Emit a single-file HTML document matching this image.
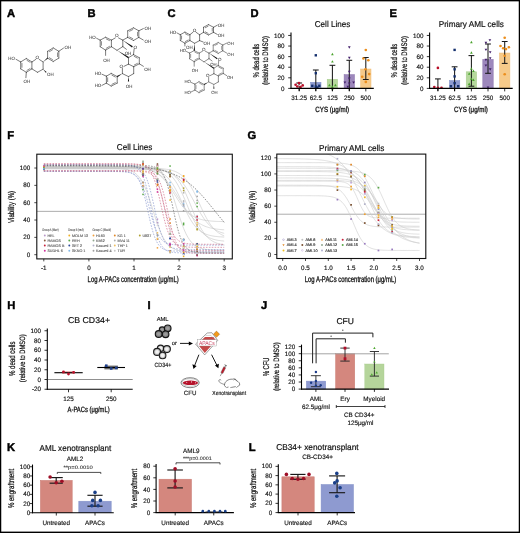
<!DOCTYPE html><html><head><meta charset="utf-8"><style>html,body{margin:0;padding:0;background:#fff;width:520px;height:533px;overflow:hidden}svg{display:block;will-change:transform}</style></head><body><svg width="520" height="533" viewBox="0 0 520 533" font-family="Liberation Sans, sans-serif" text-rendering="geometricPrecision"><rect x="0" y="0" width="520" height="533" fill="#fff"/>
<text x="250.60" y="16.90" font-size="11.2" text-anchor="start" font-weight="bold" fill="#000" stroke="#000" stroke-width="0.45">D</text>
<rect x="294.00" y="88.20" width="10.40" height="0.20" fill="#f0c0b8" stroke="#e8a8a0" stroke-width="0.5" />
<rect x="310.60" y="82.30" width="10.40" height="6.10" fill="#8e9bd0" stroke="#7e8ec8" stroke-width="0.5" />
<rect x="327.20" y="79.30" width="10.40" height="9.10" fill="#b5d89c" stroke="#a5cc8a" stroke-width="0.5" />
<rect x="344.10" y="74.60" width="10.40" height="13.80" fill="#9d88bc" stroke="#8a72ac" stroke-width="0.5" />
<rect x="360.60" y="69.00" width="10.40" height="19.40" fill="#f6ca8a" stroke="#eebc78" stroke-width="0.5" />
<line x1="299.20" y1="83.00" x2="299.20" y2="91.00" stroke="#1a1a1a" stroke-width="1.05" />
<line x1="296.30" y1="83.00" x2="302.10" y2="83.00" stroke="#1a1a1a" stroke-width="1.05" />
<line x1="315.80" y1="70.00" x2="315.80" y2="91.00" stroke="#1a1a1a" stroke-width="1.05" />
<line x1="312.90" y1="70.00" x2="318.70" y2="70.00" stroke="#1a1a1a" stroke-width="1.05" />
<line x1="332.40" y1="65.30" x2="332.40" y2="91.00" stroke="#1a1a1a" stroke-width="1.05" />
<line x1="329.50" y1="65.30" x2="335.30" y2="65.30" stroke="#1a1a1a" stroke-width="1.05" />
<line x1="349.30" y1="60.30" x2="349.30" y2="91.00" stroke="#1a1a1a" stroke-width="1.05" />
<line x1="346.40" y1="60.30" x2="352.20" y2="60.30" stroke="#1a1a1a" stroke-width="1.05" />
<line x1="365.80" y1="57.50" x2="365.80" y2="79.50" stroke="#1a1a1a" stroke-width="1.05" />
<line x1="362.90" y1="57.50" x2="368.70" y2="57.50" stroke="#1a1a1a" stroke-width="1.05" />
<line x1="362.90" y1="79.50" x2="368.70" y2="79.50" stroke="#1a1a1a" stroke-width="1.05" />
<circle cx="295.60" cy="84.80" r="1.32" fill="#b80f28" stroke="none" stroke-width="0"/>
<circle cx="299.00" cy="83.10" r="1.32" fill="#b80f28" stroke="none" stroke-width="0"/>
<circle cx="302.70" cy="85.40" r="1.32" fill="#b80f28" stroke="none" stroke-width="0"/>
<circle cx="300.60" cy="86.90" r="1.32" fill="#b80f28" stroke="none" stroke-width="0"/>
<circle cx="297.30" cy="86.50" r="1.32" fill="#b80f28" stroke="none" stroke-width="0"/>
<rect x="314.60" y="54.10" width="2.40" height="2.40" fill="#15306e" stroke="none" stroke-width="0" />
<rect x="314.60" y="72.00" width="2.40" height="2.40" fill="#15306e" stroke="none" stroke-width="0" />
<rect x="311.10" y="84.60" width="2.40" height="2.40" fill="#15306e" stroke="none" stroke-width="0" />
<rect x="314.60" y="85.40" width="2.40" height="2.40" fill="#15306e" stroke="none" stroke-width="0" />
<rect x="318.10" y="84.60" width="2.40" height="2.40" fill="#15306e" stroke="none" stroke-width="0" />
<rect x="316.10" y="86.30" width="2.40" height="2.40" fill="#15306e" stroke="none" stroke-width="0" />
<path d="M332.40,52.76L333.72,55.16L331.08,55.16Z" fill="#49a22c"/>
<path d="M332.40,60.16L333.72,62.56L331.08,62.56Z" fill="#49a22c"/>
<path d="M329.40,83.86L330.72,86.26L328.08,86.26Z" fill="#49a22c"/>
<path d="M335.40,83.86L336.72,86.26L334.08,86.26Z" fill="#49a22c"/>
<path d="M332.40,85.36L333.72,87.76L331.08,87.76Z" fill="#49a22c"/>
<path d="M332.40,87.06L333.72,89.46L331.08,89.46Z" fill="#49a22c"/>
<path d="M349.30,48.74L350.62,46.34L347.98,46.34Z" fill="#421e6a"/>
<path d="M349.30,59.14L350.62,56.74L347.98,56.74Z" fill="#421e6a"/>
<path d="M349.30,73.14L350.62,70.74L347.98,70.74Z" fill="#421e6a"/>
<path d="M349.30,79.94L350.62,77.54L347.98,77.54Z" fill="#421e6a"/>
<path d="M344.90,83.84L346.22,81.44L343.58,81.44Z" fill="#421e6a"/>
<path d="M353.60,83.84L354.92,81.44L352.28,81.44Z" fill="#421e6a"/>
<path d="M349.30,84.84L350.62,82.44L347.98,82.44Z" fill="#421e6a"/>
<path d="M347.80,88.24L349.12,85.84L346.48,85.84Z" fill="#421e6a"/>
<circle cx="365.80" cy="50.00" r="1.32" fill="#ec8e1c" stroke="none" stroke-width="0"/>
<circle cx="363.40" cy="58.50" r="1.32" fill="#ec8e1c" stroke="none" stroke-width="0"/>
<circle cx="368.30" cy="60.30" r="1.32" fill="#ec8e1c" stroke="none" stroke-width="0"/>
<circle cx="365.50" cy="69.20" r="1.32" fill="#ec8e1c" stroke="none" stroke-width="0"/>
<circle cx="369.20" cy="74.10" r="1.32" fill="#ec8e1c" stroke="none" stroke-width="0"/>
<circle cx="362.20" cy="76.80" r="1.32" fill="#ec8e1c" stroke="none" stroke-width="0"/>
<circle cx="365.80" cy="81.90" r="1.32" fill="#ec8e1c" stroke="none" stroke-width="0"/>
<line x1="291.00" y1="32.60" x2="291.00" y2="88.90" stroke="#000" stroke-width="1.1" />
<line x1="290.50" y1="88.40" x2="373.80" y2="88.40" stroke="#000" stroke-width="1.1" />
<line x1="288.20" y1="88.40" x2="291.00" y2="88.40" stroke="#000" stroke-width="0.8" />
<text x="284.60" y="90.50" font-size="6.3" text-anchor="end" font-weight="normal" fill="#111" stroke="#111" stroke-width="0.142" >0</text>
<line x1="288.20" y1="77.81" x2="291.00" y2="77.81" stroke="#000" stroke-width="0.8" />
<text x="284.60" y="79.91" font-size="6.3" text-anchor="end" font-weight="normal" fill="#111" stroke="#111" stroke-width="0.142" >20</text>
<line x1="288.20" y1="67.22" x2="291.00" y2="67.22" stroke="#000" stroke-width="0.8" />
<text x="284.60" y="69.32" font-size="6.3" text-anchor="end" font-weight="normal" fill="#111" stroke="#111" stroke-width="0.142" >40</text>
<line x1="288.20" y1="56.63" x2="291.00" y2="56.63" stroke="#000" stroke-width="0.8" />
<text x="284.60" y="58.73" font-size="6.3" text-anchor="end" font-weight="normal" fill="#111" stroke="#111" stroke-width="0.142" >60</text>
<line x1="288.20" y1="46.04" x2="291.00" y2="46.04" stroke="#000" stroke-width="0.8" />
<text x="284.60" y="48.14" font-size="6.3" text-anchor="end" font-weight="normal" fill="#111" stroke="#111" stroke-width="0.142" >80</text>
<line x1="288.20" y1="35.45" x2="291.00" y2="35.45" stroke="#000" stroke-width="0.8" />
<text x="284.60" y="37.55" font-size="6.3" text-anchor="end" font-weight="normal" fill="#111" stroke="#111" stroke-width="0.142" >100</text>
<line x1="299.20" y1="88.40" x2="299.20" y2="91.40" stroke="#000" stroke-width="0.8" />
<text x="299.20" y="100.40" font-size="6.3" text-anchor="middle" font-weight="normal" fill="#111" stroke="#111" stroke-width="0.142" >31.25</text>
<line x1="315.80" y1="88.40" x2="315.80" y2="91.40" stroke="#000" stroke-width="0.8" />
<text x="315.80" y="100.40" font-size="6.3" text-anchor="middle" font-weight="normal" fill="#111" stroke="#111" stroke-width="0.142" >62.5</text>
<line x1="332.40" y1="88.40" x2="332.40" y2="91.40" stroke="#000" stroke-width="0.8" />
<text x="332.40" y="100.40" font-size="6.3" text-anchor="middle" font-weight="normal" fill="#111" stroke="#111" stroke-width="0.142" >125</text>
<line x1="349.30" y1="88.40" x2="349.30" y2="91.40" stroke="#000" stroke-width="0.8" />
<text x="349.30" y="100.40" font-size="6.3" text-anchor="middle" font-weight="normal" fill="#111" stroke="#111" stroke-width="0.142" >250</text>
<line x1="365.80" y1="88.40" x2="365.80" y2="91.40" stroke="#000" stroke-width="0.8" />
<text x="365.80" y="100.40" font-size="6.3" text-anchor="middle" font-weight="normal" fill="#111" stroke="#111" stroke-width="0.142" >500</text>
<text x="332.20" y="111.80" font-size="7.6" text-anchor="middle" font-weight="normal" fill="#111" textLength="33.8" lengthAdjust="spacingAndGlyphs" stroke="#111" stroke-width="0.300" >CYS (μg/ml)</text>
<text x="314.80" y="27.30" font-size="8.5" text-anchor="start" font-weight="normal" fill="#111" textLength="35.39999999999998" lengthAdjust="spacingAndGlyphs" stroke="#111" stroke-width="0.191" >Cell Lines</text>
<text transform="translate(258.90,60.60) rotate(-90)" font-size="8.6" text-anchor="middle" font-weight="normal" fill="#111" textLength="33.8" lengthAdjust="spacingAndGlyphs" stroke="#111" stroke-width="0.220" >% dead cells</text>
<text transform="translate(268.20,60.40) rotate(-90)" font-size="8.0" text-anchor="middle" font-weight="normal" fill="#111" textLength="48.6" lengthAdjust="spacingAndGlyphs" stroke="#111" stroke-width="0.220" >(relative to DMSO)</text>
<circle cx="299.80" cy="85.40" r="0.60" fill="#fff" stroke="none" stroke-width="0"/>
<text x="389.40" y="16.90" font-size="11.2" text-anchor="start" font-weight="bold" fill="#000" stroke="#000" stroke-width="0.45">E</text>
<rect x="432.70" y="88.10" width="10.40" height="0.30" fill="#f0c0b8" stroke="#e8a8a0" stroke-width="0.5" />
<rect x="449.40" y="80.50" width="10.40" height="7.90" fill="#8e9bd0" stroke="#7e8ec8" stroke-width="0.5" />
<rect x="466.20" y="71.80" width="10.40" height="16.60" fill="#b5d89c" stroke="#a5cc8a" stroke-width="0.5" />
<rect x="482.80" y="59.40" width="10.40" height="29.00" fill="#9d88bc" stroke="#8a72ac" stroke-width="0.5" />
<rect x="499.50" y="53.00" width="10.40" height="35.40" fill="#f6ca8a" stroke="#eebc78" stroke-width="0.5" />
<line x1="437.90" y1="78.90" x2="437.90" y2="91.00" stroke="#1a1a1a" stroke-width="1.05" />
<line x1="435.00" y1="78.90" x2="440.80" y2="78.90" stroke="#1a1a1a" stroke-width="1.05" />
<line x1="454.60" y1="66.80" x2="454.60" y2="91.00" stroke="#1a1a1a" stroke-width="1.05" />
<line x1="451.70" y1="66.80" x2="457.50" y2="66.80" stroke="#1a1a1a" stroke-width="1.05" />
<line x1="471.40" y1="55.60" x2="471.40" y2="86.20" stroke="#1a1a1a" stroke-width="1.05" />
<line x1="468.50" y1="55.60" x2="474.30" y2="55.60" stroke="#1a1a1a" stroke-width="1.05" />
<line x1="468.50" y1="86.20" x2="474.30" y2="86.20" stroke="#1a1a1a" stroke-width="1.05" />
<line x1="488.00" y1="44.00" x2="488.00" y2="73.30" stroke="#1a1a1a" stroke-width="1.05" />
<line x1="485.10" y1="44.00" x2="490.90" y2="44.00" stroke="#1a1a1a" stroke-width="1.05" />
<line x1="485.10" y1="73.30" x2="490.90" y2="73.30" stroke="#1a1a1a" stroke-width="1.05" />
<line x1="504.70" y1="41.50" x2="504.70" y2="63.40" stroke="#1a1a1a" stroke-width="1.05" />
<line x1="501.80" y1="41.50" x2="507.60" y2="41.50" stroke="#1a1a1a" stroke-width="1.05" />
<line x1="501.80" y1="63.40" x2="507.60" y2="63.40" stroke="#1a1a1a" stroke-width="1.05" />
<circle cx="437.90" cy="67.90" r="1.32" fill="#b80f28" stroke="none" stroke-width="0"/>
<circle cx="434.30" cy="87.00" r="1.32" fill="#b80f28" stroke="none" stroke-width="0"/>
<circle cx="437.90" cy="87.90" r="1.32" fill="#b80f28" stroke="none" stroke-width="0"/>
<circle cx="441.50" cy="87.70" r="1.32" fill="#b80f28" stroke="none" stroke-width="0"/>
<rect x="453.40" y="48.70" width="2.40" height="2.40" fill="#15306e" stroke="none" stroke-width="0" />
<rect x="453.40" y="68.10" width="2.40" height="2.40" fill="#15306e" stroke="none" stroke-width="0" />
<rect x="453.40" y="75.20" width="2.40" height="2.40" fill="#15306e" stroke="none" stroke-width="0" />
<rect x="453.40" y="82.00" width="2.40" height="2.40" fill="#15306e" stroke="none" stroke-width="0" />
<rect x="449.70" y="85.00" width="2.40" height="2.40" fill="#15306e" stroke="none" stroke-width="0" />
<rect x="457.00" y="85.00" width="2.40" height="2.40" fill="#15306e" stroke="none" stroke-width="0" />
<path d="M471.40,40.86L472.72,43.26L470.08,43.26Z" fill="#49a22c"/>
<path d="M471.40,51.36L472.72,53.76L470.08,53.76Z" fill="#49a22c"/>
<path d="M471.40,67.36L472.72,69.76L470.08,69.76Z" fill="#49a22c"/>
<path d="M473.40,69.56L474.72,71.96L472.08,71.96Z" fill="#49a22c"/>
<path d="M469.20,72.46L470.52,74.86L467.88,74.86Z" fill="#49a22c"/>
<path d="M471.40,77.46L472.72,79.86L470.08,79.86Z" fill="#49a22c"/>
<path d="M473.40,78.56L474.72,80.96L472.08,80.96Z" fill="#49a22c"/>
<path d="M469.20,82.56L470.52,84.96L467.88,84.96Z" fill="#49a22c"/>
<path d="M485.90,44.14L487.22,41.74L484.58,41.74Z" fill="#421e6a"/>
<path d="M489.90,41.54L491.22,39.14L488.58,39.14Z" fill="#421e6a"/>
<path d="M485.90,51.04L487.22,48.64L484.58,48.64Z" fill="#421e6a"/>
<path d="M490.20,53.54L491.52,51.14L488.88,51.14Z" fill="#421e6a"/>
<path d="M490.20,59.54L491.52,57.14L488.88,57.14Z" fill="#421e6a"/>
<path d="M485.90,61.24L487.22,58.84L484.58,58.84Z" fill="#421e6a"/>
<path d="M485.90,66.84L487.22,64.44L484.58,64.44Z" fill="#421e6a"/>
<path d="M490.20,70.74L491.52,68.34L488.88,68.34Z" fill="#421e6a"/>
<path d="M488.00,88.84L489.32,86.44L486.68,86.44Z" fill="#421e6a"/>
<circle cx="504.70" cy="37.80" r="1.32" fill="#ec8e1c" stroke="none" stroke-width="0"/>
<circle cx="500.50" cy="46.00" r="1.32" fill="#ec8e1c" stroke="none" stroke-width="0"/>
<circle cx="508.80" cy="47.20" r="1.32" fill="#ec8e1c" stroke="none" stroke-width="0"/>
<circle cx="503.20" cy="48.30" r="1.32" fill="#ec8e1c" stroke="none" stroke-width="0"/>
<circle cx="506.00" cy="49.10" r="1.32" fill="#ec8e1c" stroke="none" stroke-width="0"/>
<circle cx="504.70" cy="55.80" r="1.32" fill="#ec8e1c" stroke="none" stroke-width="0"/>
<circle cx="504.70" cy="74.20" r="1.32" fill="#ec8e1c" stroke="none" stroke-width="0"/>
<line x1="429.60" y1="32.60" x2="429.60" y2="88.90" stroke="#000" stroke-width="1.1" />
<line x1="429.10" y1="88.40" x2="512.70" y2="88.40" stroke="#000" stroke-width="1.1" />
<line x1="426.80" y1="88.40" x2="429.60" y2="88.40" stroke="#000" stroke-width="0.8" />
<text x="423.50" y="90.50" font-size="6.3" text-anchor="end" font-weight="normal" fill="#111" stroke="#111" stroke-width="0.142" >0</text>
<line x1="426.80" y1="77.81" x2="429.60" y2="77.81" stroke="#000" stroke-width="0.8" />
<text x="423.50" y="79.91" font-size="6.3" text-anchor="end" font-weight="normal" fill="#111" stroke="#111" stroke-width="0.142" >20</text>
<line x1="426.80" y1="67.22" x2="429.60" y2="67.22" stroke="#000" stroke-width="0.8" />
<text x="423.50" y="69.32" font-size="6.3" text-anchor="end" font-weight="normal" fill="#111" stroke="#111" stroke-width="0.142" >40</text>
<line x1="426.80" y1="56.63" x2="429.60" y2="56.63" stroke="#000" stroke-width="0.8" />
<text x="423.50" y="58.73" font-size="6.3" text-anchor="end" font-weight="normal" fill="#111" stroke="#111" stroke-width="0.142" >60</text>
<line x1="426.80" y1="46.04" x2="429.60" y2="46.04" stroke="#000" stroke-width="0.8" />
<text x="423.50" y="48.14" font-size="6.3" text-anchor="end" font-weight="normal" fill="#111" stroke="#111" stroke-width="0.142" >80</text>
<line x1="426.80" y1="35.45" x2="429.60" y2="35.45" stroke="#000" stroke-width="0.8" />
<text x="423.50" y="37.55" font-size="6.3" text-anchor="end" font-weight="normal" fill="#111" stroke="#111" stroke-width="0.142" >100</text>
<line x1="437.90" y1="88.40" x2="437.90" y2="91.40" stroke="#000" stroke-width="0.8" />
<text x="437.90" y="100.40" font-size="6.3" text-anchor="middle" font-weight="normal" fill="#111" stroke="#111" stroke-width="0.142" >31.25</text>
<line x1="454.60" y1="88.40" x2="454.60" y2="91.40" stroke="#000" stroke-width="0.8" />
<text x="454.60" y="100.40" font-size="6.3" text-anchor="middle" font-weight="normal" fill="#111" stroke="#111" stroke-width="0.142" >62.5</text>
<line x1="471.40" y1="88.40" x2="471.40" y2="91.40" stroke="#000" stroke-width="0.8" />
<text x="471.40" y="100.40" font-size="6.3" text-anchor="middle" font-weight="normal" fill="#111" stroke="#111" stroke-width="0.142" >125</text>
<line x1="488.00" y1="88.40" x2="488.00" y2="91.40" stroke="#000" stroke-width="0.8" />
<text x="488.00" y="100.40" font-size="6.3" text-anchor="middle" font-weight="normal" fill="#111" stroke="#111" stroke-width="0.142" >250</text>
<line x1="504.70" y1="88.40" x2="504.70" y2="91.40" stroke="#000" stroke-width="0.8" />
<text x="504.70" y="100.40" font-size="6.3" text-anchor="middle" font-weight="normal" fill="#111" stroke="#111" stroke-width="0.142" >500</text>
<text x="471.00" y="111.80" font-size="7.6" text-anchor="middle" font-weight="normal" fill="#111" textLength="33.8" lengthAdjust="spacingAndGlyphs" stroke="#111" stroke-width="0.300" >CYS (μg/ml)</text>
<text x="438.70" y="27.30" font-size="8.5" text-anchor="start" font-weight="normal" fill="#111" textLength="65.19999999999999" lengthAdjust="spacingAndGlyphs" stroke="#111" stroke-width="0.191" >Primary AML cells</text>
<text transform="translate(396.80,60.60) rotate(-90)" font-size="8.6" text-anchor="middle" font-weight="normal" fill="#111" textLength="33.8" lengthAdjust="spacingAndGlyphs" stroke="#111" stroke-width="0.220" >% dead cells</text>
<text transform="translate(406.80,60.40) rotate(-90)" font-size="8.0" text-anchor="middle" font-weight="normal" fill="#111" textLength="48.6" lengthAdjust="spacingAndGlyphs" stroke="#111" stroke-width="0.220" >(relative to DMSO)</text>
<text x="7.30" y="138.90" font-size="11.2" text-anchor="start" font-weight="bold" fill="#000" stroke="#000" stroke-width="0.45">F</text>
<text x="116.80" y="150.00" font-size="8.5" text-anchor="start" font-weight="normal" fill="#111" textLength="35.6" lengthAdjust="spacingAndGlyphs" stroke="#111" stroke-width="0.191" >Cell Lines</text>
<clipPath id="cf"><rect x="36.8" y="154.2" width="195.5" height="104.69999999999999"/></clipPath>
<g clip-path="url(#cf)">
<line x1="36.80" y1="211.36" x2="232.30" y2="211.36" stroke="#888" stroke-width="0.7" />
<polyline points="43.80,168.03 44.93,168.03 46.06,168.03 47.18,168.03 48.31,168.03 49.44,168.03 50.57,168.03 51.69,168.03 52.82,168.03 53.95,168.03 55.08,168.03 56.20,168.03 57.33,168.03 58.46,168.03 59.59,168.03 60.71,168.03 61.84,168.03 62.97,168.03 64.09,168.03 65.22,168.03 66.35,168.03 67.48,168.03 68.61,168.03 69.73,168.03 70.86,168.03 71.99,168.03 73.12,168.03 74.24,168.03 75.37,168.03 76.50,168.03 77.62,168.03 78.75,168.03 79.88,168.03 81.01,168.03 82.14,168.03 83.26,168.03 84.39,168.03 85.52,168.03 86.65,168.03 87.77,168.03 88.90,168.03 90.03,168.04 91.16,168.04 92.28,168.04 93.41,168.04 94.54,168.04 95.67,168.04 96.79,168.05 97.92,168.05 99.05,168.05 100.18,168.06 101.30,168.06 102.43,168.07 103.56,168.07 104.69,168.08 105.81,168.09 106.94,168.10 108.07,168.12 109.20,168.13 110.32,168.15 111.45,168.18 112.58,168.20 113.71,168.24 114.83,168.27 115.96,168.32 117.09,168.38 118.22,168.44 119.34,168.52 120.47,168.61 121.60,168.72 122.73,168.84 123.85,169.00 124.98,169.17 126.11,169.39 127.24,169.64 128.36,169.93 129.49,170.28 130.62,170.69 131.75,171.18 132.87,171.75 134.00,172.41 135.13,173.18 136.25,174.09 137.38,175.13 138.51,176.34 139.64,177.72 140.76,179.30 141.89,181.10 143.02,183.12 144.15,185.38 145.28,187.88 146.40,190.61 147.53,193.58 148.66,196.75 149.79,200.10 150.91,203.58 152.04,207.17 153.17,210.79 154.30,214.40 155.42,217.96 156.55,221.39 157.68,224.67 158.81,227.77 159.93,230.64 161.06,233.28 162.19,235.68 163.31,237.85 164.44,239.77 165.57,241.48 166.70,242.98 167.82,244.30 168.95,245.44 170.08,246.42 171.21,247.27 172.34,248.00 173.46,248.62 174.59,249.15 175.72,249.61 176.85,249.99 177.97,250.32 179.10,250.60 180.23,250.83 181.36,251.03 182.48,251.20 183.61,251.34 184.74,251.46 185.87,251.56 186.99,251.65 188.12,251.72 189.25,251.78 190.38,251.83 191.50,251.87 192.63,251.91 193.76,251.94 194.89,251.96 196.01,251.99 197.14,252.00 198.27,252.02 199.40,252.03 200.52,252.04 201.65,252.05 202.78,252.06 203.91,252.07 205.03,252.07 206.16,252.08 207.29,252.08 208.42,252.08 209.54,252.09 210.67,252.09 211.80,252.09 212.93,252.09 214.05,252.09 215.18,252.09 216.31,252.09 217.44,252.10 218.56,252.10 219.69,252.10 220.82,252.10 221.95,252.10 223.07,252.10 224.20,252.10" fill="none" stroke="#c4c4c4" stroke-width="0.6"/>
<polyline points="43.80,167.16 44.93,167.16 46.06,167.16 47.18,167.16 48.31,167.16 49.44,167.16 50.57,167.16 51.69,167.16 52.82,167.16 53.95,167.16 55.08,167.16 56.20,167.16 57.33,167.16 58.46,167.16 59.59,167.16 60.71,167.16 61.84,167.16 62.97,167.16 64.09,167.16 65.22,167.16 66.35,167.16 67.48,167.16 68.61,167.16 69.73,167.16 70.86,167.16 71.99,167.16 73.12,167.16 74.24,167.16 75.37,167.16 76.50,167.16 77.62,167.16 78.75,167.16 79.88,167.16 81.01,167.16 82.14,167.16 83.26,167.16 84.39,167.16 85.52,167.16 86.65,167.17 87.77,167.17 88.90,167.17 90.03,167.17 91.16,167.17 92.28,167.17 93.41,167.17 94.54,167.17 95.67,167.17 96.79,167.17 97.92,167.17 99.05,167.17 100.18,167.17 101.30,167.17 102.43,167.17 103.56,167.18 104.69,167.18 105.81,167.18 106.94,167.18 108.07,167.19 109.20,167.19 110.32,167.19 111.45,167.20 112.58,167.20 113.71,167.21 114.83,167.21 115.96,167.22 117.09,167.23 118.22,167.24 119.34,167.25 120.47,167.26 121.60,167.27 122.73,167.29 123.85,167.30 124.98,167.32 126.11,167.35 127.24,167.37 128.36,167.40 129.49,167.44 130.62,167.47 131.75,167.52 132.87,167.57 134.00,167.62 135.13,167.69 136.25,167.76 137.38,167.85 138.51,167.94 139.64,168.05 140.76,168.17 141.89,168.31 143.02,168.47 144.15,168.65 145.28,168.86 146.40,169.09 147.53,169.35 148.66,169.64 149.79,169.98 150.91,170.35 152.04,170.77 153.17,171.25 154.30,171.78 155.42,172.37 156.55,173.02 157.68,173.75 158.81,174.56 159.93,175.45 161.06,176.42 162.19,177.48 163.31,178.64 164.44,179.88 165.57,181.22 166.70,182.65 167.82,184.16 168.95,185.74 170.08,187.40 171.21,189.11 172.34,190.87 173.46,192.66 174.59,194.46 175.72,196.27 176.85,198.06 177.97,199.82 179.10,201.53 180.23,203.18 181.36,204.77 182.48,206.28 183.61,207.71 184.74,209.04 185.87,210.29 186.99,211.44 188.12,212.51 189.25,213.48 190.38,214.37 191.50,215.18 192.63,215.91 193.76,216.56 194.89,217.15 196.01,217.68 197.14,218.16 198.27,218.58 199.40,218.95 200.52,219.29 201.65,219.58 202.78,219.84 203.91,220.07 205.03,220.28 206.16,220.46 207.29,220.62 208.42,220.76 209.54,220.88 210.67,220.99 211.80,221.08 212.93,221.17 214.05,221.24 215.18,221.30 216.31,221.36 217.44,221.41 218.56,221.45 219.69,221.49 220.82,221.53 221.95,221.56 223.07,221.58 224.20,221.60" fill="none" stroke="#c4c4c4" stroke-width="0.6"/>
<polyline points="43.80,168.46 44.93,168.46 46.06,168.46 47.18,168.46 48.31,168.46 49.44,168.46 50.57,168.46 51.69,168.46 52.82,168.46 53.95,168.46 55.08,168.46 56.20,168.46 57.33,168.46 58.46,168.46 59.59,168.46 60.71,168.46 61.84,168.46 62.97,168.46 64.09,168.46 65.22,168.46 66.35,168.46 67.48,168.46 68.61,168.46 69.73,168.46 70.86,168.46 71.99,168.46 73.12,168.46 74.24,168.46 75.37,168.46 76.50,168.46 77.62,168.46 78.75,168.46 79.88,168.46 81.01,168.46 82.14,168.46 83.26,168.46 84.39,168.46 85.52,168.46 86.65,168.46 87.77,168.46 88.90,168.46 90.03,168.46 91.16,168.46 92.28,168.46 93.41,168.46 94.54,168.46 95.67,168.46 96.79,168.46 97.92,168.46 99.05,168.47 100.18,168.47 101.30,168.47 102.43,168.47 103.56,168.47 104.69,168.47 105.81,168.47 106.94,168.47 108.07,168.47 109.20,168.47 110.32,168.47 111.45,168.47 112.58,168.47 113.71,168.47 114.83,168.48 115.96,168.48 117.09,168.48 118.22,168.48 119.34,168.49 120.47,168.49 121.60,168.49 122.73,168.50 123.85,168.50 124.98,168.51 126.11,168.52 127.24,168.52 128.36,168.53 129.49,168.55 130.62,168.56 131.75,168.57 132.87,168.59 134.00,168.61 135.13,168.63 136.25,168.66 137.38,168.69 138.51,168.72 139.64,168.76 140.76,168.81 141.89,168.86 143.02,168.92 144.15,168.99 145.28,169.07 146.40,169.17 147.53,169.27 148.66,169.40 149.79,169.54 150.91,169.70 152.04,169.89 153.17,170.10 154.30,170.35 155.42,170.64 156.55,170.96 157.68,171.33 158.81,171.75 159.93,172.23 161.06,172.78 162.19,173.40 163.31,174.10 164.44,174.89 165.57,175.78 166.70,176.78 167.82,177.89 168.95,179.12 170.08,180.49 171.21,181.98 172.34,183.61 173.46,185.38 174.59,187.29 175.72,189.32 176.85,191.47 177.97,193.72 179.10,196.07 180.23,198.48 181.36,200.93 182.48,203.41 183.61,205.88 184.74,208.32 185.87,210.71 186.99,213.02 188.12,215.24 189.25,217.34 190.38,219.32 191.50,221.17 192.63,222.89 193.76,224.46 194.89,225.90 196.01,227.21 197.14,228.40 198.27,229.46 199.40,230.41 200.52,231.26 201.65,232.02 202.78,232.69 203.91,233.28 205.03,233.80 206.16,234.25 207.29,234.65 208.42,235.01 209.54,235.31 210.67,235.58 211.80,235.81 212.93,236.02 214.05,236.20 215.18,236.35 216.31,236.48 217.44,236.60 218.56,236.70 219.69,236.79 220.82,236.87 221.95,236.93 223.07,236.99 224.20,237.04" fill="none" stroke="#c4c4c4" stroke-width="0.6"/>
<polyline points="43.80,166.73 44.93,166.73 46.06,166.73 47.18,166.73 48.31,166.73 49.44,166.73 50.57,166.73 51.69,166.73 52.82,166.73 53.95,166.73 55.08,166.73 56.20,166.73 57.33,166.73 58.46,166.73 59.59,166.73 60.71,166.73 61.84,166.73 62.97,166.73 64.09,166.73 65.22,166.73 66.35,166.73 67.48,166.73 68.61,166.73 69.73,166.73 70.86,166.73 71.99,166.73 73.12,166.73 74.24,166.73 75.37,166.73 76.50,166.73 77.62,166.73 78.75,166.73 79.88,166.73 81.01,166.73 82.14,166.73 83.26,166.73 84.39,166.73 85.52,166.73 86.65,166.73 87.77,166.73 88.90,166.73 90.03,166.73 91.16,166.73 92.28,166.73 93.41,166.73 94.54,166.73 95.67,166.73 96.79,166.73 97.92,166.73 99.05,166.73 100.18,166.73 101.30,166.73 102.43,166.73 103.56,166.73 104.69,166.73 105.81,166.73 106.94,166.73 108.07,166.73 109.20,166.73 110.32,166.73 111.45,166.73 112.58,166.74 113.71,166.74 114.83,166.74 115.96,166.74 117.09,166.74 118.22,166.74 119.34,166.74 120.47,166.75 121.60,166.75 122.73,166.75 123.85,166.75 124.98,166.76 126.11,166.76 127.24,166.77 128.36,166.77 129.49,166.78 130.62,166.79 131.75,166.80 132.87,166.81 134.00,166.82 135.13,166.83 136.25,166.85 137.38,166.87 138.51,166.89 139.64,166.91 140.76,166.94 141.89,166.97 143.02,167.01 144.15,167.05 145.28,167.10 146.40,167.16 147.53,167.23 148.66,167.30 149.79,167.39 150.91,167.49 152.04,167.61 153.17,167.74 154.30,167.90 155.42,168.08 156.55,168.28 157.68,168.52 158.81,168.78 159.93,169.09 161.06,169.45 162.19,169.85 163.31,170.31 164.44,170.83 165.57,171.43 166.70,172.10 167.82,172.86 168.95,173.73 170.08,174.69 171.21,175.78 172.34,176.99 173.46,178.33 174.59,179.81 175.72,181.44 176.85,183.21 177.97,185.14 179.10,187.21 180.23,189.42 181.36,191.76 182.48,194.21 183.61,196.76 184.74,199.39 185.87,202.06 186.99,204.75 188.12,207.44 189.25,210.10 190.38,212.70 191.50,215.21 192.63,217.62 193.76,219.91 194.89,222.07 196.01,224.08 197.14,225.94 198.27,227.66 199.40,229.23 200.52,230.65 201.65,231.94 202.78,233.10 203.91,234.14 205.03,235.06 206.16,235.88 207.29,236.61 208.42,237.25 209.54,237.82 210.67,238.31 211.80,238.75 212.93,239.13 214.05,239.46 215.18,239.76 216.31,240.01 217.44,240.23 218.56,240.43 219.69,240.59 220.82,240.74 221.95,240.87 223.07,240.98 224.20,241.07" fill="none" stroke="#c4c4c4" stroke-width="0.6"/>
<polyline points="43.80,167.60 44.93,167.60 46.06,167.60 47.18,167.60 48.31,167.60 49.44,167.60 50.57,167.60 51.69,167.60 52.82,167.60 53.95,167.60 55.08,167.60 56.20,167.60 57.33,167.60 58.46,167.60 59.59,167.60 60.71,167.60 61.84,167.60 62.97,167.60 64.09,167.60 65.22,167.60 66.35,167.60 67.48,167.60 68.61,167.60 69.73,167.60 70.86,167.60 71.99,167.60 73.12,167.60 74.24,167.60 75.37,167.60 76.50,167.60 77.62,167.60 78.75,167.60 79.88,167.60 81.01,167.60 82.14,167.60 83.26,167.60 84.39,167.60 85.52,167.60 86.65,167.60 87.77,167.60 88.90,167.60 90.03,167.60 91.16,167.60 92.28,167.60 93.41,167.60 94.54,167.60 95.67,167.60 96.79,167.60 97.92,167.60 99.05,167.60 100.18,167.60 101.30,167.60 102.43,167.60 103.56,167.60 104.69,167.60 105.81,167.60 106.94,167.60 108.07,167.60 109.20,167.60 110.32,167.60 111.45,167.60 112.58,167.60 113.71,167.60 114.83,167.60 115.96,167.60 117.09,167.60 118.22,167.60 119.34,167.60 120.47,167.61 121.60,167.61 122.73,167.61 123.85,167.61 124.98,167.61 126.11,167.62 127.24,167.62 128.36,167.62 129.49,167.63 130.62,167.63 131.75,167.64 132.87,167.64 134.00,167.65 135.13,167.66 136.25,167.67 137.38,167.68 138.51,167.69 139.64,167.70 140.76,167.72 141.89,167.74 143.02,167.76 144.15,167.79 145.28,167.82 146.40,167.85 147.53,167.89 148.66,167.94 149.79,167.99 150.91,168.05 152.04,168.12 153.17,168.20 154.30,168.29 155.42,168.40 156.55,168.52 157.68,168.66 158.81,168.82 159.93,169.01 161.06,169.22 162.19,169.47 163.31,169.75 164.44,170.07 165.57,170.44 166.70,170.86 167.82,171.34 168.95,171.89 170.08,172.51 171.21,173.22 172.34,174.02 173.46,174.92 174.59,175.93 175.72,177.06 176.85,178.33 177.97,179.73 179.10,181.28 180.23,182.98 181.36,184.84 182.48,186.86 183.61,189.02 184.74,191.34 185.87,193.78 186.99,196.35 188.12,199.02 189.25,201.76 190.38,204.56 191.50,207.38 192.63,210.19 193.76,212.97 194.89,215.69 196.01,218.32 197.14,220.84 198.27,223.24 199.40,225.49 200.52,227.60 201.65,229.55 202.78,231.34 203.91,232.99 205.03,234.48 206.16,235.82 207.29,237.04 208.42,238.12 209.54,239.09 210.67,239.95 211.80,240.71 212.93,241.38 214.05,241.97 215.18,242.49 216.31,242.95 217.44,243.35 218.56,243.69 219.69,244.00 220.82,244.27 221.95,244.50 223.07,244.70 224.20,244.88" fill="none" stroke="#c4c4c4" stroke-width="0.6"/>
<polyline points="43.80,168.90 44.93,168.90 46.06,168.90 47.18,168.90 48.31,168.90 49.44,168.90 50.57,168.90 51.69,168.90 52.82,168.90 53.95,168.90 55.08,168.90 56.20,168.90 57.33,168.90 58.46,168.90 59.59,168.90 60.71,168.90 61.84,168.90 62.97,168.90 64.09,168.90 65.22,168.90 66.35,168.90 67.48,168.90 68.61,168.90 69.73,168.90 70.86,168.90 71.99,168.90 73.12,168.90 74.24,168.90 75.37,168.90 76.50,168.90 77.62,168.90 78.75,168.90 79.88,168.90 81.01,168.90 82.14,168.90 83.26,168.90 84.39,168.90 85.52,168.90 86.65,168.90 87.77,168.90 88.90,168.90 90.03,168.90 91.16,168.90 92.28,168.90 93.41,168.90 94.54,168.90 95.67,168.90 96.79,168.90 97.92,168.90 99.05,168.90 100.18,168.90 101.30,168.90 102.43,168.90 103.56,168.90 104.69,168.90 105.81,168.90 106.94,168.90 108.07,168.90 109.20,168.90 110.32,168.90 111.45,168.90 112.58,168.90 113.71,168.90 114.83,168.91 115.96,168.91 117.09,168.91 118.22,168.91 119.34,168.91 120.47,168.91 121.60,168.92 122.73,168.92 123.85,168.92 124.98,168.92 126.11,168.93 127.24,168.93 128.36,168.94 129.49,168.94 130.62,168.95 131.75,168.96 132.87,168.96 134.00,168.97 135.13,168.98 136.25,168.99 137.38,169.01 138.51,169.02 139.64,169.04 140.76,169.06 141.89,169.08 143.02,169.10 144.15,169.13 145.28,169.16 146.40,169.20 147.53,169.24 148.66,169.28 149.79,169.34 150.91,169.40 152.04,169.46 153.17,169.54 154.30,169.62 155.42,169.72 156.55,169.83 157.68,169.95 158.81,170.09 159.93,170.25 161.06,170.43 162.19,170.63 163.31,170.86 164.44,171.12 165.57,171.41 166.70,171.73 167.82,172.10 168.95,172.50 170.08,172.96 171.21,173.47 172.34,174.04 173.46,174.68 174.59,175.38 175.72,176.16 176.85,177.02 177.97,177.97 179.10,179.01 180.23,180.15 181.36,181.38 182.48,182.72 183.61,184.16 184.74,185.70 185.87,187.34 186.99,189.08 188.12,190.90 189.25,192.81 190.38,194.79 191.50,196.82 192.63,198.90 193.76,201.00 194.89,203.11 196.01,205.21 197.14,207.30 198.27,209.34 199.40,211.33 200.52,213.25 201.65,215.09 202.78,216.85 203.91,218.51 205.03,220.07 206.16,221.53 207.29,222.89 208.42,224.14 209.54,225.30 210.67,226.36 211.80,227.32 212.93,228.20 214.05,229.00 215.18,229.72 216.31,230.36 217.44,230.95 218.56,231.47 219.69,231.94 220.82,232.36 221.95,232.73 223.07,233.06 224.20,233.36" fill="none" stroke="#c4c4c4" stroke-width="0.6"/>
<polyline points="43.80,166.30 44.93,166.30 46.06,166.30 47.18,166.30 48.31,166.30 49.44,166.30 50.57,166.30 51.69,166.30 52.82,166.30 53.95,166.30 55.08,166.30 56.20,166.30 57.33,166.30 58.46,166.30 59.59,166.30 60.71,166.30 61.84,166.30 62.97,166.30 64.09,166.30 65.22,166.30 66.35,166.30 67.48,166.30 68.61,166.30 69.73,166.30 70.86,166.30 71.99,166.30 73.12,166.30 74.24,166.30 75.37,166.30 76.50,166.30 77.62,166.30 78.75,166.30 79.88,166.30 81.01,166.30 82.14,166.30 83.26,166.30 84.39,166.30 85.52,166.30 86.65,166.30 87.77,166.30 88.90,166.30 90.03,166.30 91.16,166.30 92.28,166.30 93.41,166.30 94.54,166.30 95.67,166.30 96.79,166.30 97.92,166.30 99.05,166.30 100.18,166.30 101.30,166.30 102.43,166.30 103.56,166.30 104.69,166.30 105.81,166.30 106.94,166.30 108.07,166.30 109.20,166.30 110.32,166.30 111.45,166.30 112.58,166.30 113.71,166.30 114.83,166.30 115.96,166.30 117.09,166.31 118.22,166.31 119.34,166.31 120.47,166.31 121.60,166.31 122.73,166.32 123.85,166.32 124.98,166.33 126.11,166.33 127.24,166.34 128.36,166.35 129.49,166.36 130.62,166.37 131.75,166.38 132.87,166.40 134.00,166.42 135.13,166.44 136.25,166.46 137.38,166.50 138.51,166.53 139.64,166.58 140.76,166.63 141.89,166.69 143.02,166.77 144.15,166.85 145.28,166.96 146.40,167.08 147.53,167.23 148.66,167.40 149.79,167.61 150.91,167.85 152.04,168.14 153.17,168.48 154.30,168.87 155.42,169.34 156.55,169.89 157.68,170.53 158.81,171.29 159.93,172.16 161.06,173.18 162.19,174.35 163.31,175.70 164.44,177.24 165.57,178.99 166.70,180.96 167.82,183.17 168.95,185.62 170.08,188.31 171.21,191.23 172.34,194.36 173.46,197.68 174.59,201.14 175.72,204.71 176.85,208.33 177.97,211.95 179.10,215.52 180.23,218.98 181.36,222.30 182.48,225.43 183.61,228.35 184.74,231.04 185.87,233.49 186.99,235.70 188.12,237.67 189.25,239.42 190.38,240.97 191.50,242.31 192.63,243.49 193.76,244.50 194.89,245.38 196.01,246.13 197.14,246.77 198.27,247.32 199.40,247.79 200.52,248.19 201.65,248.53 202.78,248.81 203.91,249.05 205.03,249.26 206.16,249.43 207.29,249.58 208.42,249.70 209.54,249.81 210.67,249.90 211.80,249.97 212.93,250.03 214.05,250.09 215.18,250.13 216.31,250.17 217.44,250.20 218.56,250.23 219.69,250.25 220.82,250.27 221.95,250.28 223.07,250.30 224.20,250.31" fill="none" stroke="#c4c4c4" stroke-width="0.6"/>
<polyline points="43.80,168.03 44.93,168.03 46.06,168.03 47.18,168.03 48.31,168.03 49.44,168.03 50.57,168.03 51.69,168.03 52.82,168.03 53.95,168.03 55.08,168.03 56.20,168.03 57.33,168.03 58.46,168.03 59.59,168.03 60.71,168.03 61.84,168.03 62.97,168.03 64.09,168.03 65.22,168.03 66.35,168.03 67.48,168.03 68.61,168.03 69.73,168.03 70.86,168.03 71.99,168.03 73.12,168.03 74.24,168.03 75.37,168.03 76.50,168.03 77.62,168.03 78.75,168.03 79.88,168.03 81.01,168.03 82.14,168.03 83.26,168.03 84.39,168.03 85.52,168.03 86.65,168.03 87.77,168.03 88.90,168.03 90.03,168.03 91.16,168.03 92.28,168.03 93.41,168.03 94.54,168.03 95.67,168.03 96.79,168.03 97.92,168.03 99.05,168.03 100.18,168.03 101.30,168.03 102.43,168.03 103.56,168.03 104.69,168.03 105.81,168.03 106.94,168.03 108.07,168.03 109.20,168.03 110.32,168.03 111.45,168.03 112.58,168.03 113.71,168.03 114.83,168.03 115.96,168.03 117.09,168.03 118.22,168.03 119.34,168.03 120.47,168.03 121.60,168.04 122.73,168.04 123.85,168.04 124.98,168.04 126.11,168.04 127.24,168.04 128.36,168.04 129.49,168.04 130.62,168.05 131.75,168.05 132.87,168.05 134.00,168.05 135.13,168.06 136.25,168.06 137.38,168.07 138.51,168.07 139.64,168.08 140.76,168.08 141.89,168.09 143.02,168.10 144.15,168.11 145.28,168.12 146.40,168.14 147.53,168.15 148.66,168.17 149.79,168.19 150.91,168.22 152.04,168.24 153.17,168.28 154.30,168.31 155.42,168.35 156.55,168.40 157.68,168.46 158.81,168.52 159.93,168.59 161.06,168.67 162.19,168.77 163.31,168.87 164.44,169.00 165.57,169.14 166.70,169.30 167.82,169.48 168.95,169.69 170.08,169.93 171.21,170.21 172.34,170.52 173.46,170.87 174.59,171.28 175.72,171.73 176.85,172.25 177.97,172.83 179.10,173.49 180.23,174.23 181.36,175.05 182.48,175.98 183.61,177.01 184.74,178.15 185.87,179.40 186.99,180.79 188.12,182.30 189.25,183.94 190.38,185.71 191.50,187.61 192.63,189.63 193.76,191.76 194.89,193.99 196.01,196.30 197.14,198.69 198.27,201.11 199.40,203.56 200.52,206.02 201.65,208.44 202.78,210.83 203.91,213.14 205.03,215.37 206.16,217.50 207.29,219.52 208.42,221.42 209.54,223.19 210.67,224.83 211.80,226.34 212.93,227.72 214.05,228.98 215.18,230.12 216.31,231.15 217.44,232.08 218.56,232.90 219.69,233.64 220.82,234.30 221.95,234.88 223.07,235.40 224.20,235.85" fill="none" stroke="#c8c8c8" stroke-width="0.6"/>
<polyline points="43.80,167.16 44.93,167.16 46.06,167.16 47.18,167.16 48.31,167.16 49.44,167.16 50.57,167.16 51.69,167.16 52.82,167.16 53.95,167.16 55.08,167.16 56.20,167.16 57.33,167.16 58.46,167.16 59.59,167.16 60.71,167.16 61.84,167.16 62.97,167.16 64.09,167.16 65.22,167.16 66.35,167.16 67.48,167.16 68.61,167.16 69.73,167.16 70.86,167.16 71.99,167.16 73.12,167.16 74.24,167.16 75.37,167.16 76.50,167.17 77.62,167.17 78.75,167.17 79.88,167.17 81.01,167.17 82.14,167.17 83.26,167.17 84.39,167.17 85.52,167.17 86.65,167.17 87.77,167.17 88.90,167.17 90.03,167.17 91.16,167.17 92.28,167.17 93.41,167.17 94.54,167.17 95.67,167.18 96.79,167.18 97.92,167.18 99.05,167.18 100.18,167.18 101.30,167.19 102.43,167.19 103.56,167.19 104.69,167.19 105.81,167.20 106.94,167.20 108.07,167.21 109.20,167.21 110.32,167.22 111.45,167.23 112.58,167.23 113.71,167.24 114.83,167.25 115.96,167.26 117.09,167.28 118.22,167.29 119.34,167.30 120.47,167.32 121.60,167.34 122.73,167.36 123.85,167.39 124.98,167.41 126.11,167.44 127.24,167.48 128.36,167.52 129.49,167.56 130.62,167.61 131.75,167.66 132.87,167.72 134.00,167.79 135.13,167.87 136.25,167.95 137.38,168.04 138.51,168.15 139.64,168.27 140.76,168.40 141.89,168.55 143.02,168.71 144.15,168.90 145.28,169.10 146.40,169.33 147.53,169.59 148.66,169.87 149.79,170.18 150.91,170.53 152.04,170.92 153.17,171.35 154.30,171.82 155.42,172.34 156.55,172.92 157.68,173.55 158.81,174.24 159.93,174.99 161.06,175.82 162.19,176.72 163.31,177.69 164.44,178.74 165.57,179.87 166.70,181.07 167.82,182.36 168.95,183.73 170.08,185.18 171.21,186.70 172.34,188.29 173.46,189.94 174.59,191.64 175.72,193.39 176.85,195.17 177.97,196.98 179.10,198.80 180.23,200.62 181.36,202.42 182.48,204.21 183.61,205.96 184.74,207.66 185.87,209.31 186.99,210.90 188.12,212.42 189.25,213.86 190.38,215.23 191.50,216.52 192.63,217.73 193.76,218.86 194.89,219.91 196.01,220.88 197.14,221.78 198.27,222.60 199.40,223.36 200.52,224.05 201.65,224.68 202.78,225.25 203.91,225.78 205.03,226.25 206.16,226.68 207.29,227.06 208.42,227.41 209.54,227.73 210.67,228.01 211.80,228.26 212.93,228.49 214.05,228.70 215.18,228.88 216.31,229.05 217.44,229.19 218.56,229.33 219.69,229.45 220.82,229.55 221.95,229.65 223.07,229.73 224.20,229.81" fill="none" stroke="#c8c8c8" stroke-width="0.6"/>
<polyline points="43.80,171.50 44.93,171.50 46.06,171.50 47.18,171.50 48.31,171.50 49.44,171.50 50.57,171.50 51.69,171.50 52.82,171.50 53.95,171.50 55.08,171.50 56.20,171.50 57.33,171.50 58.46,171.50 59.59,171.50 60.71,171.50 61.84,171.50 62.97,171.50 64.09,171.50 65.22,171.50 66.35,171.50 67.48,171.50 68.61,171.50 69.73,171.50 70.86,171.50 71.99,171.50 73.12,171.50 74.24,171.50 75.37,171.50 76.50,171.50 77.62,171.50 78.75,171.50 79.88,171.50 81.01,171.50 82.14,171.50 83.26,171.50 84.39,171.50 85.52,171.50 86.65,171.50 87.77,171.50 88.90,171.50 90.03,171.50 91.16,171.50 92.28,171.50 93.41,171.50 94.54,171.50 95.67,171.50 96.79,171.50 97.92,171.50 99.05,171.50 100.18,171.50 101.30,171.50 102.43,171.50 103.56,171.50 104.69,171.50 105.81,171.50 106.94,171.50 108.07,171.51 109.20,171.51 110.32,171.51 111.45,171.51 112.58,171.52 113.71,171.53 114.83,171.54 115.96,171.55 117.09,171.56 118.22,171.58 119.34,171.61 120.47,171.64 121.60,171.68 122.73,171.74 123.85,171.81 124.98,171.90 126.11,172.02 127.24,172.17 128.36,172.37 129.49,172.62 130.62,172.95 131.75,173.36 132.87,173.90 134.00,174.58 135.13,175.45 136.25,176.55 137.38,177.92 138.51,179.62 139.64,181.72 140.76,184.26 141.89,187.28 143.02,190.82 144.15,194.86 145.28,199.36 146.40,204.21 147.53,209.30 148.66,214.46 149.79,219.51 150.91,224.31 152.04,228.71 153.17,232.66 154.30,236.09 155.42,239.02 156.55,241.46 157.68,243.48 158.81,245.11 159.93,246.42 161.06,247.47 162.19,248.30 163.31,248.95 164.44,249.46 165.57,249.86 166.70,250.17 167.82,250.41 168.95,250.59 170.08,250.74 171.21,250.85 172.34,250.94 173.46,251.01 174.59,251.06 175.72,251.10 176.85,251.13 177.97,251.15 179.10,251.17 180.23,251.18 181.36,251.20 182.48,251.20 183.61,251.21 184.74,251.22 185.87,251.22 186.99,251.22 188.12,251.23 189.25,251.23 190.38,251.23 191.50,251.23 192.63,251.23 193.76,251.23 194.89,251.23 196.01,251.23 197.14,251.23 198.27,251.23 199.40,251.23 200.52,251.23 201.65,251.23 202.78,251.23 203.91,251.23 205.03,251.23 206.16,251.23 207.29,251.23 208.42,251.23 209.54,251.23 210.67,251.23 211.80,251.23 212.93,251.23 214.05,251.23 215.18,251.23 216.31,251.23 217.44,251.23 218.56,251.23 219.69,251.23 220.82,251.23 221.95,251.23 223.07,251.23 224.20,251.23" fill="none" stroke="#7a8cc8" stroke-width="0.6" stroke-dasharray="1.6,1.3"/>
<polyline points="43.80,164.56 44.93,164.56 46.06,164.56 47.18,164.56 48.31,164.56 49.44,164.56 50.57,164.56 51.69,164.56 52.82,164.56 53.95,164.56 55.08,164.56 56.20,164.56 57.33,164.56 58.46,164.56 59.59,164.56 60.71,164.56 61.84,164.56 62.97,164.56 64.09,164.56 65.22,164.56 66.35,164.56 67.48,164.56 68.61,164.56 69.73,164.56 70.86,164.56 71.99,164.56 73.12,164.56 74.24,164.56 75.37,164.56 76.50,164.56 77.62,164.56 78.75,164.56 79.88,164.56 81.01,164.56 82.14,164.56 83.26,164.56 84.39,164.56 85.52,164.56 86.65,164.56 87.77,164.56 88.90,164.56 90.03,164.56 91.16,164.56 92.28,164.56 93.41,164.56 94.54,164.56 95.67,164.56 96.79,164.56 97.92,164.56 99.05,164.56 100.18,164.56 101.30,164.56 102.43,164.56 103.56,164.56 104.69,164.57 105.81,164.57 106.94,164.57 108.07,164.57 109.20,164.57 110.32,164.57 111.45,164.57 112.58,164.58 113.71,164.58 114.83,164.58 115.96,164.59 117.09,164.60 118.22,164.61 119.34,164.62 120.47,164.64 121.60,164.66 122.73,164.69 123.85,164.73 124.98,164.78 126.11,164.84 127.24,164.93 128.36,165.03 129.49,165.17 130.62,165.35 131.75,165.58 132.87,165.87 134.00,166.25 135.13,166.74 136.25,167.37 137.38,168.16 138.51,169.17 139.64,170.44 140.76,172.03 141.89,174.00 143.02,176.42 144.15,179.34 145.28,182.81 146.40,186.84 147.53,191.43 148.66,196.50 149.79,201.95 150.91,207.62 152.04,213.33 153.17,218.89 154.30,224.13 155.42,228.92 156.55,233.18 157.68,236.87 158.81,240.01 159.93,242.62 161.06,244.76 162.19,246.50 163.31,247.89 164.44,248.99 165.57,249.87 166.70,250.56 167.82,251.10 168.95,251.52 170.08,251.84 171.21,252.10 172.34,252.29 173.46,252.45 174.59,252.56 175.72,252.66 176.85,252.73 177.97,252.78 179.10,252.82 180.23,252.86 181.36,252.88 182.48,252.90 183.61,252.92 184.74,252.93 185.87,252.94 186.99,252.94 188.12,252.95 189.25,252.95 190.38,252.96 191.50,252.96 192.63,252.96 193.76,252.96 194.89,252.96 196.01,252.96 197.14,252.96 198.27,252.96 199.40,252.97 200.52,252.97 201.65,252.97 202.78,252.97 203.91,252.97 205.03,252.97 206.16,252.97 207.29,252.97 208.42,252.97 209.54,252.97 210.67,252.97 211.80,252.97 212.93,252.97 214.05,252.97 215.18,252.97 216.31,252.97 217.44,252.97 218.56,252.97 219.69,252.97 220.82,252.97 221.95,252.97 223.07,252.97 224.20,252.97" fill="none" stroke="#7a8cc8" stroke-width="0.6" stroke-dasharray="1.6,1.3"/>
<polyline points="43.80,171.06 44.93,171.06 46.06,171.06 47.18,171.06 48.31,171.06 49.44,171.06 50.57,171.06 51.69,171.06 52.82,171.06 53.95,171.06 55.08,171.06 56.20,171.06 57.33,171.06 58.46,171.06 59.59,171.06 60.71,171.06 61.84,171.06 62.97,171.06 64.09,171.06 65.22,171.06 66.35,171.06 67.48,171.06 68.61,171.06 69.73,171.06 70.86,171.06 71.99,171.06 73.12,171.06 74.24,171.06 75.37,171.06 76.50,171.06 77.62,171.06 78.75,171.06 79.88,171.06 81.01,171.06 82.14,171.06 83.26,171.06 84.39,171.06 85.52,171.06 86.65,171.06 87.77,171.06 88.90,171.06 90.03,171.06 91.16,171.06 92.28,171.06 93.41,171.06 94.54,171.06 95.67,171.06 96.79,171.07 97.92,171.07 99.05,171.07 100.18,171.07 101.30,171.07 102.43,171.07 103.56,171.07 104.69,171.07 105.81,171.07 106.94,171.08 108.07,171.08 109.20,171.08 110.32,171.09 111.45,171.10 112.58,171.10 113.71,171.11 114.83,171.13 115.96,171.14 117.09,171.17 118.22,171.19 119.34,171.23 120.47,171.27 121.60,171.32 122.73,171.39 123.85,171.47 124.98,171.57 126.11,171.70 127.24,171.87 128.36,172.07 129.49,172.33 130.62,172.65 131.75,173.05 132.87,173.55 134.00,174.16 135.13,174.92 136.25,175.86 137.38,177.00 138.51,178.39 139.64,180.05 140.76,182.03 141.89,184.37 143.02,187.07 144.15,190.14 145.28,193.58 146.40,197.34 147.53,201.37 148.66,205.56 149.79,209.82 150.91,214.04 152.04,218.10 153.17,221.92 154.30,225.43 155.42,228.58 156.55,231.35 157.68,233.76 158.81,235.81 159.93,237.53 161.06,238.97 162.19,240.16 163.31,241.13 164.44,241.93 165.57,242.57 166.70,243.09 167.82,243.51 168.95,243.84 170.08,244.11 171.21,244.33 172.34,244.50 173.46,244.63 174.59,244.74 175.72,244.83 176.85,244.90 177.97,244.95 179.10,245.00 180.23,245.03 181.36,245.06 182.48,245.08 183.61,245.10 184.74,245.11 185.87,245.12 186.99,245.13 188.12,245.14 189.25,245.14 190.38,245.15 191.50,245.15 192.63,245.16 193.76,245.16 194.89,245.16 196.01,245.16 197.14,245.16 198.27,245.16 199.40,245.16 200.52,245.16 201.65,245.16 202.78,245.16 203.91,245.17 205.03,245.17 206.16,245.17 207.29,245.17 208.42,245.17 209.54,245.17 210.67,245.17 211.80,245.17 212.93,245.17 214.05,245.17 215.18,245.17 216.31,245.17 217.44,245.17 218.56,245.17 219.69,245.17 220.82,245.17 221.95,245.17 223.07,245.17 224.20,245.17" fill="none" stroke="#7a8cc8" stroke-width="0.6" stroke-dasharray="1.6,1.3"/>
<polyline points="43.80,165.00 44.93,165.00 46.06,165.00 47.18,165.00 48.31,165.00 49.44,165.00 50.57,165.00 51.69,165.00 52.82,165.00 53.95,165.00 55.08,165.00 56.20,165.00 57.33,165.00 58.46,165.00 59.59,165.00 60.71,165.00 61.84,165.00 62.97,165.00 64.09,165.00 65.22,165.00 66.35,165.00 67.48,165.00 68.61,165.00 69.73,165.00 70.86,165.00 71.99,165.00 73.12,165.00 74.24,165.00 75.37,165.00 76.50,165.00 77.62,165.00 78.75,165.00 79.88,165.00 81.01,165.00 82.14,165.00 83.26,165.00 84.39,165.00 85.52,165.00 86.65,165.00 87.77,165.00 88.90,165.00 90.03,165.00 91.16,165.00 92.28,165.00 93.41,165.00 94.54,165.00 95.67,165.00 96.79,165.00 97.92,165.00 99.05,165.00 100.18,165.00 101.30,165.00 102.43,165.00 103.56,165.00 104.69,165.00 105.81,165.00 106.94,165.00 108.07,165.00 109.20,165.00 110.32,165.00 111.45,165.01 112.58,165.01 113.71,165.01 114.83,165.01 115.96,165.02 117.09,165.03 118.22,165.03 119.34,165.04 120.47,165.06 121.60,165.07 122.73,165.09 123.85,165.12 124.98,165.15 126.11,165.20 127.24,165.25 128.36,165.32 129.49,165.41 130.62,165.52 131.75,165.66 132.87,165.84 134.00,166.07 135.13,166.36 136.25,166.73 137.38,167.19 138.51,167.77 139.64,168.49 140.76,169.40 141.89,170.52 143.02,171.91 144.15,173.61 145.28,175.67 146.40,178.13 147.53,181.04 148.66,184.42 149.79,188.27 150.91,192.56 152.04,197.23 153.17,202.17 154.30,207.25 155.42,212.33 156.55,217.27 157.68,221.93 158.81,226.22 159.93,230.07 161.06,233.45 162.19,236.36 163.31,238.83 164.44,240.89 165.57,242.58 166.70,243.97 167.82,245.10 168.95,246.00 170.08,246.73 171.21,247.31 172.34,247.77 173.46,248.14 174.59,248.43 175.72,248.65 176.85,248.83 177.97,248.98 179.10,249.09 180.23,249.18 181.36,249.25 182.48,249.30 183.61,249.34 184.74,249.38 185.87,249.40 186.99,249.42 188.12,249.44 189.25,249.45 190.38,249.46 191.50,249.47 192.63,249.48 193.76,249.48 194.89,249.49 196.01,249.49 197.14,249.49 198.27,249.49 199.40,249.49 200.52,249.50 201.65,249.50 202.78,249.50 203.91,249.50 205.03,249.50 206.16,249.50 207.29,249.50 208.42,249.50 209.54,249.50 210.67,249.50 211.80,249.50 212.93,249.50 214.05,249.50 215.18,249.50 216.31,249.50 217.44,249.50 218.56,249.50 219.69,249.50 220.82,249.50 221.95,249.50 223.07,249.50 224.20,249.50" fill="none" stroke="#7a8cc8" stroke-width="0.6" stroke-dasharray="1.6,1.3"/>
<polyline points="43.80,163.70 44.93,163.70 46.06,163.70 47.18,163.70 48.31,163.70 49.44,163.70 50.57,163.70 51.69,163.70 52.82,163.70 53.95,163.70 55.08,163.70 56.20,163.70 57.33,163.70 58.46,163.70 59.59,163.70 60.71,163.70 61.84,163.70 62.97,163.70 64.09,163.70 65.22,163.70 66.35,163.70 67.48,163.70 68.61,163.70 69.73,163.70 70.86,163.70 71.99,163.70 73.12,163.70 74.24,163.70 75.37,163.70 76.50,163.70 77.62,163.70 78.75,163.70 79.88,163.70 81.01,163.70 82.14,163.70 83.26,163.70 84.39,163.70 85.52,163.70 86.65,163.70 87.77,163.70 88.90,163.70 90.03,163.70 91.16,163.70 92.28,163.70 93.41,163.70 94.54,163.70 95.67,163.70 96.79,163.70 97.92,163.70 99.05,163.70 100.18,163.70 101.30,163.70 102.43,163.70 103.56,163.70 104.69,163.70 105.81,163.70 106.94,163.70 108.07,163.70 109.20,163.70 110.32,163.70 111.45,163.70 112.58,163.70 113.71,163.70 114.83,163.70 115.96,163.70 117.09,163.70 118.22,163.71 119.34,163.71 120.47,163.71 121.60,163.71 122.73,163.72 123.85,163.73 124.98,163.73 126.11,163.74 127.24,163.76 128.36,163.77 129.49,163.79 130.62,163.82 131.75,163.85 132.87,163.89 134.00,163.95 135.13,164.02 136.25,164.10 137.38,164.21 138.51,164.36 139.64,164.53 140.76,164.76 141.89,165.05 143.02,165.41 144.15,165.86 145.28,166.44 146.40,167.16 147.53,168.05 148.66,169.17 149.79,170.54 150.91,172.22 152.04,174.26 153.17,176.70 154.30,179.58 155.42,182.92 156.55,186.74 157.68,190.98 158.81,195.60 159.93,200.48 161.06,205.51 162.19,210.55 163.31,215.43 164.44,220.05 165.57,224.29 166.70,228.10 167.82,231.45 168.95,234.33 170.08,236.77 171.21,238.81 172.34,240.49 173.46,241.86 174.59,242.98 175.72,243.87 176.85,244.59 177.97,245.17 179.10,245.62 180.23,245.98 181.36,246.27 182.48,246.50 183.61,246.67 184.74,246.81 185.87,246.93 186.99,247.01 188.12,247.08 189.25,247.14 190.38,247.18 191.50,247.21 192.63,247.24 193.76,247.26 194.89,247.27 196.01,247.29 197.14,247.30 198.27,247.30 199.40,247.31 200.52,247.32 201.65,247.32 202.78,247.32 203.91,247.32 205.03,247.33 206.16,247.33 207.29,247.33 208.42,247.33 209.54,247.33 210.67,247.33 211.80,247.33 212.93,247.33 214.05,247.33 215.18,247.33 216.31,247.33 217.44,247.33 218.56,247.33 219.69,247.33 220.82,247.33 221.95,247.33 223.07,247.33 224.20,247.33" fill="none" stroke="#c85a78" stroke-width="0.6" stroke-dasharray="1.6,1.3"/>
<polyline points="43.80,171.06 44.93,171.06 46.06,171.06 47.18,171.06 48.31,171.06 49.44,171.06 50.57,171.06 51.69,171.06 52.82,171.06 53.95,171.06 55.08,171.06 56.20,171.06 57.33,171.06 58.46,171.06 59.59,171.06 60.71,171.06 61.84,171.06 62.97,171.06 64.09,171.06 65.22,171.06 66.35,171.06 67.48,171.06 68.61,171.06 69.73,171.06 70.86,171.06 71.99,171.06 73.12,171.06 74.24,171.06 75.37,171.06 76.50,171.06 77.62,171.06 78.75,171.06 79.88,171.06 81.01,171.06 82.14,171.06 83.26,171.06 84.39,171.06 85.52,171.06 86.65,171.06 87.77,171.06 88.90,171.06 90.03,171.06 91.16,171.06 92.28,171.06 93.41,171.06 94.54,171.06 95.67,171.06 96.79,171.06 97.92,171.06 99.05,171.06 100.18,171.06 101.30,171.06 102.43,171.06 103.56,171.06 104.69,171.06 105.81,171.06 106.94,171.06 108.07,171.06 109.20,171.06 110.32,171.06 111.45,171.06 112.58,171.06 113.71,171.06 114.83,171.06 115.96,171.06 117.09,171.06 118.22,171.07 119.34,171.07 120.47,171.07 121.60,171.07 122.73,171.07 123.85,171.07 124.98,171.07 126.11,171.07 127.24,171.08 128.36,171.08 129.49,171.09 130.62,171.09 131.75,171.10 132.87,171.11 134.00,171.13 135.13,171.14 136.25,171.17 137.38,171.20 138.51,171.24 139.64,171.29 140.76,171.36 141.89,171.45 143.02,171.56 144.15,171.70 145.28,171.89 146.40,172.13 147.53,172.44 148.66,172.84 149.79,173.35 150.91,174.00 152.04,174.82 153.17,175.87 154.30,177.18 155.42,178.81 156.55,180.82 157.68,183.27 158.81,186.19 159.93,189.62 161.06,193.56 162.19,197.96 163.31,202.75 164.44,207.80 165.57,212.95 166.70,218.03 167.82,222.88 168.95,227.37 170.08,231.41 171.21,234.94 172.34,237.97 173.46,240.50 174.59,242.59 175.72,244.30 176.85,245.67 177.97,246.76 179.10,247.63 180.23,248.31 181.36,248.85 182.48,249.27 183.61,249.59 184.74,249.84 185.87,250.04 186.99,250.19 188.12,250.31 189.25,250.40 190.38,250.47 191.50,250.53 192.63,250.57 193.76,250.60 194.89,250.63 196.01,250.65 197.14,250.66 198.27,250.67 199.40,250.68 200.52,250.69 201.65,250.70 202.78,250.70 203.91,250.70 205.03,250.70 206.16,250.71 207.29,250.71 208.42,250.71 209.54,250.71 210.67,250.71 211.80,250.71 212.93,250.71 214.05,250.71 215.18,250.71 216.31,250.71 217.44,250.71 218.56,250.71 219.69,250.71 220.82,250.71 221.95,250.71 223.07,250.71 224.20,250.71" fill="none" stroke="#c85a78" stroke-width="0.6" stroke-dasharray="1.6,1.3"/>
<polyline points="43.80,170.63 44.93,170.63 46.06,170.63 47.18,170.63 48.31,170.63 49.44,170.63 50.57,170.63 51.69,170.63 52.82,170.63 53.95,170.63 55.08,170.63 56.20,170.63 57.33,170.63 58.46,170.63 59.59,170.63 60.71,170.63 61.84,170.63 62.97,170.63 64.09,170.63 65.22,170.63 66.35,170.63 67.48,170.63 68.61,170.63 69.73,170.63 70.86,170.63 71.99,170.63 73.12,170.63 74.24,170.63 75.37,170.63 76.50,170.63 77.62,170.63 78.75,170.63 79.88,170.63 81.01,170.63 82.14,170.63 83.26,170.63 84.39,170.63 85.52,170.63 86.65,170.63 87.77,170.63 88.90,170.63 90.03,170.63 91.16,170.63 92.28,170.63 93.41,170.63 94.54,170.63 95.67,170.63 96.79,170.63 97.92,170.63 99.05,170.63 100.18,170.63 101.30,170.63 102.43,170.63 103.56,170.63 104.69,170.63 105.81,170.63 106.94,170.63 108.07,170.63 109.20,170.63 110.32,170.63 111.45,170.63 112.58,170.63 113.71,170.63 114.83,170.63 115.96,170.63 117.09,170.63 118.22,170.63 119.34,170.63 120.47,170.63 121.60,170.63 122.73,170.63 123.85,170.63 124.98,170.63 126.11,170.64 127.24,170.64 128.36,170.64 129.49,170.64 130.62,170.65 131.75,170.65 132.87,170.66 134.00,170.66 135.13,170.68 136.25,170.69 137.38,170.71 138.51,170.73 139.64,170.76 140.76,170.79 141.89,170.84 143.02,170.91 144.15,170.99 145.28,171.09 146.40,171.23 147.53,171.40 148.66,171.63 149.79,171.92 150.91,172.29 152.04,172.77 153.17,173.39 154.30,174.17 155.42,175.15 156.55,176.40 157.68,177.95 158.81,179.88 159.93,182.23 161.06,185.06 162.19,188.40 163.31,192.28 164.44,196.67 165.57,201.50 166.70,206.65 167.82,211.97 168.95,217.30 170.08,222.45 171.21,227.27 172.34,231.66 173.46,235.54 174.59,238.89 175.72,241.72 176.85,244.07 177.97,245.99 179.10,247.55 180.23,248.79 181.36,249.78 182.48,250.56 183.61,251.17 184.74,251.65 185.87,252.02 186.99,252.31 188.12,252.54 189.25,252.72 190.38,252.85 191.50,252.96 192.63,253.04 193.76,253.10 194.89,253.15 196.01,253.19 197.14,253.22 198.27,253.24 199.40,253.25 200.52,253.27 201.65,253.28 202.78,253.29 203.91,253.29 205.03,253.30 206.16,253.30 207.29,253.30 208.42,253.31 209.54,253.31 210.67,253.31 211.80,253.31 212.93,253.31 214.05,253.31 215.18,253.31 216.31,253.31 217.44,253.31 218.56,253.31 219.69,253.31 220.82,253.31 221.95,253.31 223.07,253.31 224.20,253.31" fill="none" stroke="#c85a78" stroke-width="0.6" stroke-dasharray="1.6,1.3"/>
<polyline points="43.80,164.13 44.93,164.13 46.06,164.13 47.18,164.13 48.31,164.13 49.44,164.13 50.57,164.13 51.69,164.13 52.82,164.13 53.95,164.13 55.08,164.13 56.20,164.13 57.33,164.13 58.46,164.13 59.59,164.13 60.71,164.13 61.84,164.13 62.97,164.13 64.09,164.13 65.22,164.13 66.35,164.13 67.48,164.13 68.61,164.13 69.73,164.13 70.86,164.13 71.99,164.13 73.12,164.13 74.24,164.13 75.37,164.13 76.50,164.13 77.62,164.13 78.75,164.13 79.88,164.13 81.01,164.13 82.14,164.13 83.26,164.13 84.39,164.13 85.52,164.13 86.65,164.13 87.77,164.13 88.90,164.13 90.03,164.13 91.16,164.13 92.28,164.13 93.41,164.13 94.54,164.13 95.67,164.13 96.79,164.13 97.92,164.13 99.05,164.13 100.18,164.13 101.30,164.13 102.43,164.13 103.56,164.13 104.69,164.13 105.81,164.13 106.94,164.13 108.07,164.13 109.20,164.13 110.32,164.13 111.45,164.13 112.58,164.13 113.71,164.13 114.83,164.13 115.96,164.13 117.09,164.14 118.22,164.14 119.34,164.14 120.47,164.14 121.60,164.14 122.73,164.15 123.85,164.15 124.98,164.16 126.11,164.17 127.24,164.18 128.36,164.19 129.49,164.20 130.62,164.22 131.75,164.25 132.87,164.28 134.00,164.31 135.13,164.36 136.25,164.42 137.38,164.49 138.51,164.59 139.64,164.71 140.76,164.85 141.89,165.04 143.02,165.27 144.15,165.56 145.28,165.93 146.40,166.38 147.53,166.94 148.66,167.63 149.79,168.49 150.91,169.55 152.04,170.83 153.17,172.39 154.30,174.25 155.42,176.47 156.55,179.07 157.68,182.08 158.81,185.48 159.93,189.28 161.06,193.41 162.19,197.81 163.31,202.37 164.44,206.98 165.57,211.52 166.70,215.87 167.82,219.94 168.95,223.66 170.08,226.99 171.21,229.91 172.34,232.43 173.46,234.58 174.59,236.38 175.72,237.88 176.85,239.11 177.97,240.12 179.10,240.95 180.23,241.61 181.36,242.15 182.48,242.58 183.61,242.93 184.74,243.21 185.87,243.43 186.99,243.61 188.12,243.75 189.25,243.86 190.38,243.95 191.50,244.02 192.63,244.08 193.76,244.12 194.89,244.16 196.01,244.19 197.14,244.21 198.27,244.23 199.40,244.24 200.52,244.26 201.65,244.26 202.78,244.27 203.91,244.28 205.03,244.28 206.16,244.29 207.29,244.29 208.42,244.29 209.54,244.29 210.67,244.29 211.80,244.30 212.93,244.30 214.05,244.30 215.18,244.30 216.31,244.30 217.44,244.30 218.56,244.30 219.69,244.30 220.82,244.30 221.95,244.30 223.07,244.30 224.20,244.30" fill="none" stroke="#c85a78" stroke-width="0.6" stroke-dasharray="1.6,1.3"/>
<polyline points="43.80,165.87 44.93,165.87 46.06,165.87 47.18,165.87 48.31,165.87 49.44,165.87 50.57,165.87 51.69,165.87 52.82,165.87 53.95,165.87 55.08,165.87 56.20,165.88 57.33,165.88 58.46,165.88 59.59,165.88 60.71,165.88 61.84,165.88 62.97,165.88 64.09,165.88 65.22,165.88 66.35,165.89 67.48,165.89 68.61,165.89 69.73,165.89 70.86,165.89 71.99,165.89 73.12,165.90 74.24,165.90 75.37,165.90 76.50,165.90 77.62,165.90 78.75,165.91 79.88,165.91 81.01,165.91 82.14,165.92 83.26,165.92 84.39,165.92 85.52,165.93 86.65,165.93 87.77,165.94 88.90,165.94 90.03,165.95 91.16,165.95 92.28,165.96 93.41,165.96 94.54,165.97 95.67,165.98 96.79,165.98 97.92,165.99 99.05,166.00 100.18,166.01 101.30,166.02 102.43,166.03 103.56,166.04 104.69,166.05 105.81,166.06 106.94,166.08 108.07,166.09 109.20,166.11 110.32,166.12 111.45,166.14 112.58,166.16 113.71,166.18 114.83,166.20 115.96,166.22 117.09,166.24 118.22,166.26 119.34,166.29 120.47,166.32 121.60,166.35 122.73,166.38 123.85,166.41 124.98,166.45 126.11,166.49 127.24,166.53 128.36,166.57 129.49,166.62 130.62,166.67 131.75,166.72 132.87,166.77 134.00,166.83 135.13,166.89 136.25,166.96 137.38,167.03 138.51,167.11 139.64,167.19 140.76,167.27 141.89,167.36 143.02,167.46 144.15,167.56 145.28,167.67 146.40,167.78 147.53,167.91 148.66,168.04 149.79,168.18 150.91,168.32 152.04,168.48 153.17,168.64 154.30,168.82 155.42,169.01 156.55,169.20 157.68,169.41 158.81,169.64 159.93,169.87 161.06,170.12 162.19,170.39 163.31,170.67 164.44,170.96 165.57,171.27 166.70,171.61 167.82,171.95 168.95,172.32 170.08,172.71 171.21,173.13 172.34,173.56 173.46,174.02 174.59,174.50 175.72,175.00 176.85,175.54 177.97,176.10 179.10,176.68 180.23,177.30 181.36,177.94 182.48,178.62 183.61,179.33 184.74,180.07 185.87,180.84 186.99,181.64 188.12,182.48 189.25,183.36 190.38,184.26 191.50,185.20 192.63,186.18 193.76,187.19 194.89,188.23 196.01,189.31 197.14,190.42 198.27,191.56 199.40,192.73 200.52,193.93 201.65,195.16 202.78,196.42 203.91,197.70 205.03,199.00 206.16,200.33 207.29,201.67 208.42,203.03 209.54,204.41 210.67,205.80 211.80,207.19 212.93,208.59 214.05,210.00 215.18,211.41 216.31,212.81 217.44,214.21 218.56,215.60 219.69,216.98 220.82,218.35 221.95,219.70 223.07,221.03 224.20,222.35" fill="none" stroke="#444" stroke-width="0.6" stroke-dasharray="1.6,1.3"/>
<polyline points="43.80,165.43 44.93,165.43 46.06,165.43 47.18,165.43 48.31,165.43 49.44,165.43 50.57,165.43 51.69,165.43 52.82,165.43 53.95,165.43 55.08,165.43 56.20,165.43 57.33,165.43 58.46,165.43 59.59,165.43 60.71,165.43 61.84,165.43 62.97,165.43 64.09,165.43 65.22,165.43 66.35,165.43 67.48,165.43 68.61,165.43 69.73,165.43 70.86,165.43 71.99,165.43 73.12,165.43 74.24,165.43 75.37,165.43 76.50,165.43 77.62,165.43 78.75,165.43 79.88,165.43 81.01,165.43 82.14,165.43 83.26,165.43 84.39,165.43 85.52,165.43 86.65,165.43 87.77,165.43 88.90,165.43 90.03,165.43 91.16,165.43 92.28,165.43 93.41,165.43 94.54,165.43 95.67,165.43 96.79,165.43 97.92,165.43 99.05,165.43 100.18,165.43 101.30,165.43 102.43,165.43 103.56,165.43 104.69,165.43 105.81,165.43 106.94,165.43 108.07,165.43 109.20,165.43 110.32,165.43 111.45,165.43 112.58,165.43 113.71,165.43 114.83,165.43 115.96,165.43 117.09,165.43 118.22,165.43 119.34,165.43 120.47,165.43 121.60,165.43 122.73,165.43 123.85,165.43 124.98,165.43 126.11,165.43 127.24,165.43 128.36,165.44 129.49,165.44 130.62,165.44 131.75,165.44 132.87,165.45 134.00,165.45 135.13,165.45 136.25,165.46 137.38,165.47 138.51,165.48 139.64,165.49 140.76,165.51 141.89,165.54 143.02,165.56 144.15,165.60 145.28,165.65 146.40,165.71 147.53,165.78 148.66,165.88 149.79,166.00 150.91,166.15 152.04,166.35 153.17,166.60 154.30,166.91 155.42,167.31 156.55,167.81 157.68,168.44 158.81,169.22 159.93,170.20 161.06,171.42 162.19,172.92 163.31,174.75 164.44,176.96 165.57,179.60 166.70,182.71 167.82,186.31 168.95,190.40 170.08,194.92 171.21,199.82 172.34,204.98 173.46,210.26 174.59,215.50 175.72,220.57 176.85,225.33 177.97,229.69 179.10,233.58 180.23,236.98 181.36,239.90 182.48,242.37 183.61,244.42 184.74,246.11 185.87,247.49 186.99,248.61 188.12,249.51 189.25,250.23 190.38,250.80 191.50,251.26 192.63,251.62 193.76,251.91 194.89,252.13 196.01,252.31 197.14,252.45 198.27,252.56 199.40,252.65 200.52,252.72 201.65,252.77 202.78,252.81 203.91,252.84 205.03,252.87 206.16,252.89 207.29,252.91 208.42,252.92 209.54,252.93 210.67,252.94 211.80,252.94 212.93,252.95 214.05,252.95 215.18,252.96 216.31,252.96 217.44,252.96 218.56,252.96 219.69,252.96 220.82,252.96 221.95,252.96 223.07,252.96 224.20,252.97" fill="none" stroke="#555" stroke-width="0.6" stroke-dasharray="1.6,1.3"/>
<rect x="142.27" y="185.10" width="1.50" height="1.50" fill="#e08828" stroke="none" stroke-width="0" />
<rect x="142.27" y="181.91" width="1.50" height="1.50" fill="#e08828" stroke="none" stroke-width="0" />
<rect x="156.70" y="224.63" width="1.50" height="1.50" fill="#d8d8d8" stroke="none" stroke-width="0" />
<rect x="156.70" y="222.20" width="1.50" height="1.50" fill="#d8d8d8" stroke="none" stroke-width="0" />
<rect x="169.33" y="244.36" width="1.50" height="1.50" fill="#8a5a3c" stroke="none" stroke-width="0" />
<rect x="169.33" y="250.19" width="1.50" height="1.50" fill="#8a5a3c" stroke="none" stroke-width="0" />
<rect x="182.86" y="255.65" width="1.50" height="1.50" fill="#f0b020" stroke="none" stroke-width="0" />
<rect x="182.86" y="247.08" width="1.50" height="1.50" fill="#f0b020" stroke="none" stroke-width="0" />
<rect x="196.39" y="253.76" width="1.50" height="1.50" fill="#80b8e8" stroke="none" stroke-width="0" />
<rect x="196.39" y="254.02" width="1.50" height="1.50" fill="#80b8e8" stroke="none" stroke-width="0" />
<rect x="142.27" y="162.57" width="1.50" height="1.50" fill="#d8d8d8" stroke="none" stroke-width="0" />
<rect x="142.27" y="168.03" width="1.50" height="1.50" fill="#d8d8d8" stroke="none" stroke-width="0" />
<rect x="156.70" y="169.35" width="1.50" height="1.50" fill="#8a5a3c" stroke="none" stroke-width="0" />
<rect x="156.70" y="173.10" width="1.50" height="1.50" fill="#8a5a3c" stroke="none" stroke-width="0" />
<rect x="169.33" y="185.20" width="1.50" height="1.50" fill="#f0b020" stroke="none" stroke-width="0" />
<rect x="169.33" y="190.28" width="1.50" height="1.50" fill="#f0b020" stroke="none" stroke-width="0" />
<rect x="182.86" y="205.55" width="1.50" height="1.50" fill="#80b8e8" stroke="none" stroke-width="0" />
<rect x="182.86" y="203.13" width="1.50" height="1.50" fill="#80b8e8" stroke="none" stroke-width="0" />
<rect x="196.39" y="217.16" width="1.50" height="1.50" fill="#c0c0d0" stroke="none" stroke-width="0" />
<rect x="196.39" y="214.90" width="1.50" height="1.50" fill="#c0c0d0" stroke="none" stroke-width="0" />
<rect x="142.27" y="166.39" width="1.50" height="1.50" fill="#8a5a3c" stroke="none" stroke-width="0" />
<rect x="142.27" y="172.71" width="1.50" height="1.50" fill="#8a5a3c" stroke="none" stroke-width="0" />
<rect x="156.70" y="167.82" width="1.50" height="1.50" fill="#f0b020" stroke="none" stroke-width="0" />
<rect x="156.70" y="169.55" width="1.50" height="1.50" fill="#f0b020" stroke="none" stroke-width="0" />
<rect x="169.33" y="181.80" width="1.50" height="1.50" fill="#80b8e8" stroke="none" stroke-width="0" />
<rect x="169.33" y="184.61" width="1.50" height="1.50" fill="#80b8e8" stroke="none" stroke-width="0" />
<rect x="182.86" y="201.33" width="1.50" height="1.50" fill="#c0c0d0" stroke="none" stroke-width="0" />
<rect x="182.86" y="205.42" width="1.50" height="1.50" fill="#c0c0d0" stroke="none" stroke-width="0" />
<rect x="196.39" y="225.37" width="1.50" height="1.50" fill="#b0b0b0" stroke="none" stroke-width="0" />
<rect x="196.39" y="223.71" width="1.50" height="1.50" fill="#b0b0b0" stroke="none" stroke-width="0" />
<rect x="142.27" y="164.03" width="1.50" height="1.50" fill="#f0b020" stroke="none" stroke-width="0" />
<rect x="142.27" y="161.88" width="1.50" height="1.50" fill="#f0b020" stroke="none" stroke-width="0" />
<rect x="156.70" y="168.81" width="1.50" height="1.50" fill="#80b8e8" stroke="none" stroke-width="0" />
<rect x="156.70" y="164.59" width="1.50" height="1.50" fill="#80b8e8" stroke="none" stroke-width="0" />
<rect x="169.33" y="174.52" width="1.50" height="1.50" fill="#c0c0d0" stroke="none" stroke-width="0" />
<rect x="169.33" y="169.41" width="1.50" height="1.50" fill="#c0c0d0" stroke="none" stroke-width="0" />
<rect x="182.86" y="192.07" width="1.50" height="1.50" fill="#b0b0b0" stroke="none" stroke-width="0" />
<rect x="182.86" y="200.20" width="1.50" height="1.50" fill="#b0b0b0" stroke="none" stroke-width="0" />
<rect x="196.39" y="228.98" width="1.50" height="1.50" fill="#b0a030" stroke="none" stroke-width="0" />
<rect x="196.39" y="228.14" width="1.50" height="1.50" fill="#b0a030" stroke="none" stroke-width="0" />
<rect x="142.27" y="162.17" width="1.50" height="1.50" fill="#80b8e8" stroke="none" stroke-width="0" />
<rect x="142.27" y="167.68" width="1.50" height="1.50" fill="#80b8e8" stroke="none" stroke-width="0" />
<rect x="156.70" y="166.56" width="1.50" height="1.50" fill="#c0c0d0" stroke="none" stroke-width="0" />
<rect x="156.70" y="169.95" width="1.50" height="1.50" fill="#c0c0d0" stroke="none" stroke-width="0" />
<rect x="169.33" y="171.69" width="1.50" height="1.50" fill="#b0b0b0" stroke="none" stroke-width="0" />
<rect x="169.33" y="172.95" width="1.50" height="1.50" fill="#b0b0b0" stroke="none" stroke-width="0" />
<rect x="182.86" y="189.82" width="1.50" height="1.50" fill="#b0a030" stroke="none" stroke-width="0" />
<rect x="182.86" y="187.39" width="1.50" height="1.50" fill="#b0a030" stroke="none" stroke-width="0" />
<rect x="196.39" y="219.21" width="1.50" height="1.50" fill="#c8203c" stroke="none" stroke-width="0" />
<rect x="196.39" y="215.89" width="1.50" height="1.50" fill="#c8203c" stroke="none" stroke-width="0" />
<rect x="142.27" y="166.46" width="1.50" height="1.50" fill="#c0c0d0" stroke="none" stroke-width="0" />
<rect x="142.27" y="163.89" width="1.50" height="1.50" fill="#c0c0d0" stroke="none" stroke-width="0" />
<rect x="156.70" y="165.47" width="1.50" height="1.50" fill="#b0b0b0" stroke="none" stroke-width="0" />
<rect x="156.70" y="164.07" width="1.50" height="1.50" fill="#b0b0b0" stroke="none" stroke-width="0" />
<rect x="169.33" y="170.43" width="1.50" height="1.50" fill="#b0a030" stroke="none" stroke-width="0" />
<rect x="169.33" y="175.72" width="1.50" height="1.50" fill="#b0a030" stroke="none" stroke-width="0" />
<rect x="182.86" y="179.66" width="1.50" height="1.50" fill="#c8203c" stroke="none" stroke-width="0" />
<rect x="182.86" y="178.58" width="1.50" height="1.50" fill="#c8203c" stroke="none" stroke-width="0" />
<rect x="196.39" y="202.34" width="1.50" height="1.50" fill="#5aa848" stroke="none" stroke-width="0" />
<rect x="196.39" y="205.83" width="1.50" height="1.50" fill="#5aa848" stroke="none" stroke-width="0" />
<rect x="142.27" y="163.79" width="1.50" height="1.50" fill="#b0b0b0" stroke="none" stroke-width="0" />
<rect x="142.27" y="169.02" width="1.50" height="1.50" fill="#b0b0b0" stroke="none" stroke-width="0" />
<rect x="156.70" y="166.20" width="1.50" height="1.50" fill="#b0a030" stroke="none" stroke-width="0" />
<rect x="156.70" y="168.88" width="1.50" height="1.50" fill="#b0a030" stroke="none" stroke-width="0" />
<rect x="169.33" y="189.80" width="1.50" height="1.50" fill="#c8203c" stroke="none" stroke-width="0" />
<rect x="169.33" y="192.10" width="1.50" height="1.50" fill="#c8203c" stroke="none" stroke-width="0" />
<rect x="182.86" y="223.92" width="1.50" height="1.50" fill="#5aa848" stroke="none" stroke-width="0" />
<rect x="182.86" y="222.51" width="1.50" height="1.50" fill="#5aa848" stroke="none" stroke-width="0" />
<rect x="196.39" y="250.30" width="1.50" height="1.50" fill="#f0a040" stroke="none" stroke-width="0" />
<rect x="196.39" y="242.90" width="1.50" height="1.50" fill="#f0a040" stroke="none" stroke-width="0" />
<rect x="142.27" y="168.28" width="1.50" height="1.50" fill="#b0a030" stroke="none" stroke-width="0" />
<rect x="142.27" y="170.98" width="1.50" height="1.50" fill="#b0a030" stroke="none" stroke-width="0" />
<rect x="156.70" y="169.84" width="1.50" height="1.50" fill="#c8203c" stroke="none" stroke-width="0" />
<rect x="156.70" y="164.90" width="1.50" height="1.50" fill="#c8203c" stroke="none" stroke-width="0" />
<rect x="169.33" y="165.31" width="1.50" height="1.50" fill="#5aa848" stroke="none" stroke-width="0" />
<rect x="169.33" y="173.93" width="1.50" height="1.50" fill="#5aa848" stroke="none" stroke-width="0" />
<rect x="182.86" y="175.06" width="1.50" height="1.50" fill="#f0a040" stroke="none" stroke-width="0" />
<rect x="182.86" y="180.99" width="1.50" height="1.50" fill="#f0a040" stroke="none" stroke-width="0" />
<rect x="196.39" y="195.66" width="1.50" height="1.50" fill="#a0a0a0" stroke="none" stroke-width="0" />
<rect x="196.39" y="199.69" width="1.50" height="1.50" fill="#a0a0a0" stroke="none" stroke-width="0" />
<rect x="142.27" y="164.00" width="1.50" height="1.50" fill="#c8203c" stroke="none" stroke-width="0" />
<rect x="142.27" y="162.96" width="1.50" height="1.50" fill="#c8203c" stroke="none" stroke-width="0" />
<rect x="156.70" y="172.61" width="1.50" height="1.50" fill="#5aa848" stroke="none" stroke-width="0" />
<rect x="156.70" y="167.48" width="1.50" height="1.50" fill="#5aa848" stroke="none" stroke-width="0" />
<rect x="169.33" y="186.41" width="1.50" height="1.50" fill="#f0a040" stroke="none" stroke-width="0" />
<rect x="169.33" y="188.83" width="1.50" height="1.50" fill="#f0a040" stroke="none" stroke-width="0" />
<rect x="182.86" y="204.17" width="1.50" height="1.50" fill="#a0a0a0" stroke="none" stroke-width="0" />
<rect x="182.86" y="210.08" width="1.50" height="1.50" fill="#a0a0a0" stroke="none" stroke-width="0" />
<rect x="196.39" y="224.17" width="1.50" height="1.50" fill="#f0c060" stroke="none" stroke-width="0" />
<rect x="196.39" y="221.98" width="1.50" height="1.50" fill="#f0c060" stroke="none" stroke-width="0" />
<rect x="142.27" y="188.92" width="1.50" height="1.50" fill="#5aa848" stroke="none" stroke-width="0" />
<rect x="142.27" y="193.65" width="1.50" height="1.50" fill="#5aa848" stroke="none" stroke-width="0" />
<rect x="156.70" y="247.11" width="1.50" height="1.50" fill="#f0a040" stroke="none" stroke-width="0" />
<rect x="156.70" y="238.53" width="1.50" height="1.50" fill="#f0a040" stroke="none" stroke-width="0" />
<rect x="169.33" y="251.93" width="1.50" height="1.50" fill="#a0a0a0" stroke="none" stroke-width="0" />
<rect x="169.33" y="245.22" width="1.50" height="1.50" fill="#a0a0a0" stroke="none" stroke-width="0" />
<rect x="182.86" y="246.34" width="1.50" height="1.50" fill="#f0c060" stroke="none" stroke-width="0" />
<rect x="182.86" y="251.73" width="1.50" height="1.50" fill="#f0c060" stroke="none" stroke-width="0" />
<rect x="196.39" y="250.89" width="1.50" height="1.50" fill="#b898c8" stroke="none" stroke-width="0" />
<rect x="196.39" y="250.27" width="1.50" height="1.50" fill="#b898c8" stroke="none" stroke-width="0" />
<rect x="142.27" y="174.17" width="1.50" height="1.50" fill="#f0a040" stroke="none" stroke-width="0" />
<rect x="142.27" y="174.67" width="1.50" height="1.50" fill="#f0a040" stroke="none" stroke-width="0" />
<rect x="156.70" y="234.81" width="1.50" height="1.50" fill="#a0a0a0" stroke="none" stroke-width="0" />
<rect x="156.70" y="234.18" width="1.50" height="1.50" fill="#a0a0a0" stroke="none" stroke-width="0" />
<rect x="169.33" y="246.51" width="1.50" height="1.50" fill="#f0c060" stroke="none" stroke-width="0" />
<rect x="169.33" y="251.02" width="1.50" height="1.50" fill="#f0c060" stroke="none" stroke-width="0" />
<rect x="182.86" y="252.88" width="1.50" height="1.50" fill="#b898c8" stroke="none" stroke-width="0" />
<rect x="182.86" y="249.87" width="1.50" height="1.50" fill="#b898c8" stroke="none" stroke-width="0" />
<rect x="196.39" y="254.94" width="1.50" height="1.50" fill="#d0309a" stroke="none" stroke-width="0" />
<rect x="196.39" y="254.28" width="1.50" height="1.50" fill="#d0309a" stroke="none" stroke-width="0" />
<rect x="142.27" y="181.35" width="1.50" height="1.50" fill="#a0a0a0" stroke="none" stroke-width="0" />
<rect x="142.27" y="186.10" width="1.50" height="1.50" fill="#a0a0a0" stroke="none" stroke-width="0" />
<rect x="156.70" y="232.05" width="1.50" height="1.50" fill="#f0c060" stroke="none" stroke-width="0" />
<rect x="156.70" y="237.64" width="1.50" height="1.50" fill="#f0c060" stroke="none" stroke-width="0" />
<rect x="169.33" y="244.24" width="1.50" height="1.50" fill="#b898c8" stroke="none" stroke-width="0" />
<rect x="169.33" y="242.53" width="1.50" height="1.50" fill="#b898c8" stroke="none" stroke-width="0" />
<rect x="182.86" y="249.34" width="1.50" height="1.50" fill="#d0309a" stroke="none" stroke-width="0" />
<rect x="182.86" y="243.14" width="1.50" height="1.50" fill="#d0309a" stroke="none" stroke-width="0" />
<rect x="196.39" y="243.04" width="1.50" height="1.50" fill="#2c4a9c" stroke="none" stroke-width="0" />
<rect x="196.39" y="248.99" width="1.50" height="1.50" fill="#2c4a9c" stroke="none" stroke-width="0" />
<rect x="142.27" y="169.84" width="1.50" height="1.50" fill="#f0c060" stroke="none" stroke-width="0" />
<rect x="142.27" y="171.51" width="1.50" height="1.50" fill="#f0c060" stroke="none" stroke-width="0" />
<rect x="156.70" y="218.41" width="1.50" height="1.50" fill="#b898c8" stroke="none" stroke-width="0" />
<rect x="156.70" y="221.81" width="1.50" height="1.50" fill="#b898c8" stroke="none" stroke-width="0" />
<rect x="169.33" y="243.83" width="1.50" height="1.50" fill="#d0309a" stroke="none" stroke-width="0" />
<rect x="169.33" y="243.50" width="1.50" height="1.50" fill="#d0309a" stroke="none" stroke-width="0" />
<rect x="182.86" y="253.56" width="1.50" height="1.50" fill="#2c4a9c" stroke="none" stroke-width="0" />
<rect x="182.86" y="253.16" width="1.50" height="1.50" fill="#2c4a9c" stroke="none" stroke-width="0" />
<rect x="196.39" y="246.91" width="1.50" height="1.50" fill="#90a890" stroke="none" stroke-width="0" />
<rect x="196.39" y="243.92" width="1.50" height="1.50" fill="#90a890" stroke="none" stroke-width="0" />
<rect x="142.27" y="167.25" width="1.50" height="1.50" fill="#b898c8" stroke="none" stroke-width="0" />
<rect x="142.27" y="165.11" width="1.50" height="1.50" fill="#b898c8" stroke="none" stroke-width="0" />
<rect x="156.70" y="188.39" width="1.50" height="1.50" fill="#d0309a" stroke="none" stroke-width="0" />
<rect x="156.70" y="191.22" width="1.50" height="1.50" fill="#d0309a" stroke="none" stroke-width="0" />
<rect x="169.33" y="237.44" width="1.50" height="1.50" fill="#2c4a9c" stroke="none" stroke-width="0" />
<rect x="169.33" y="237.97" width="1.50" height="1.50" fill="#2c4a9c" stroke="none" stroke-width="0" />
<rect x="182.86" y="247.28" width="1.50" height="1.50" fill="#90a890" stroke="none" stroke-width="0" />
<rect x="182.86" y="244.93" width="1.50" height="1.50" fill="#90a890" stroke="none" stroke-width="0" />
<rect x="196.39" y="248.62" width="1.50" height="1.50" fill="#e08828" stroke="none" stroke-width="0" />
<rect x="196.39" y="247.82" width="1.50" height="1.50" fill="#e08828" stroke="none" stroke-width="0" />
<rect x="142.27" y="167.98" width="1.50" height="1.50" fill="#d0309a" stroke="none" stroke-width="0" />
<rect x="142.27" y="175.73" width="1.50" height="1.50" fill="#d0309a" stroke="none" stroke-width="0" />
<rect x="156.70" y="181.27" width="1.50" height="1.50" fill="#2c4a9c" stroke="none" stroke-width="0" />
<rect x="156.70" y="179.54" width="1.50" height="1.50" fill="#2c4a9c" stroke="none" stroke-width="0" />
<rect x="169.33" y="232.64" width="1.50" height="1.50" fill="#90a890" stroke="none" stroke-width="0" />
<rect x="169.33" y="233.54" width="1.50" height="1.50" fill="#90a890" stroke="none" stroke-width="0" />
<rect x="182.86" y="245.68" width="1.50" height="1.50" fill="#e08828" stroke="none" stroke-width="0" />
<rect x="182.86" y="251.56" width="1.50" height="1.50" fill="#e08828" stroke="none" stroke-width="0" />
<rect x="196.39" y="253.16" width="1.50" height="1.50" fill="#d8d8d8" stroke="none" stroke-width="0" />
<rect x="196.39" y="250.59" width="1.50" height="1.50" fill="#d8d8d8" stroke="none" stroke-width="0" />
<rect x="142.27" y="168.10" width="1.50" height="1.50" fill="#2c4a9c" stroke="none" stroke-width="0" />
<rect x="142.27" y="174.30" width="1.50" height="1.50" fill="#2c4a9c" stroke="none" stroke-width="0" />
<rect x="156.70" y="178.72" width="1.50" height="1.50" fill="#90a890" stroke="none" stroke-width="0" />
<rect x="156.70" y="178.59" width="1.50" height="1.50" fill="#90a890" stroke="none" stroke-width="0" />
<rect x="169.33" y="218.23" width="1.50" height="1.50" fill="#e08828" stroke="none" stroke-width="0" />
<rect x="169.33" y="222.34" width="1.50" height="1.50" fill="#e08828" stroke="none" stroke-width="0" />
<rect x="182.86" y="246.72" width="1.50" height="1.50" fill="#d8d8d8" stroke="none" stroke-width="0" />
<rect x="182.86" y="253.86" width="1.50" height="1.50" fill="#d8d8d8" stroke="none" stroke-width="0" />
<rect x="196.39" y="254.16" width="1.50" height="1.50" fill="#8a5a3c" stroke="none" stroke-width="0" />
<rect x="196.39" y="250.90" width="1.50" height="1.50" fill="#8a5a3c" stroke="none" stroke-width="0" />
<rect x="142.27" y="160.52" width="1.50" height="1.50" fill="#90a890" stroke="none" stroke-width="0" />
<rect x="142.27" y="165.03" width="1.50" height="1.50" fill="#90a890" stroke="none" stroke-width="0" />
<rect x="156.70" y="183.55" width="1.50" height="1.50" fill="#e08828" stroke="none" stroke-width="0" />
<rect x="156.70" y="184.63" width="1.50" height="1.50" fill="#e08828" stroke="none" stroke-width="0" />
<rect x="169.33" y="225.93" width="1.50" height="1.50" fill="#d8d8d8" stroke="none" stroke-width="0" />
<rect x="169.33" y="229.45" width="1.50" height="1.50" fill="#d8d8d8" stroke="none" stroke-width="0" />
<rect x="182.86" y="238.99" width="1.50" height="1.50" fill="#8a5a3c" stroke="none" stroke-width="0" />
<rect x="182.86" y="238.66" width="1.50" height="1.50" fill="#8a5a3c" stroke="none" stroke-width="0" />
<rect x="196.39" y="246.75" width="1.50" height="1.50" fill="#f0b020" stroke="none" stroke-width="0" />
<rect x="196.39" y="245.76" width="1.50" height="1.50" fill="#f0b020" stroke="none" stroke-width="0" />
<rect x="142.27" y="163.51" width="1.50" height="1.50" fill="#e08828" stroke="none" stroke-width="0" />
<rect x="142.27" y="165.23" width="1.50" height="1.50" fill="#e08828" stroke="none" stroke-width="0" />
<rect x="156.70" y="165.44" width="1.50" height="1.50" fill="#d8d8d8" stroke="none" stroke-width="0" />
<rect x="156.70" y="170.23" width="1.50" height="1.50" fill="#d8d8d8" stroke="none" stroke-width="0" />
<rect x="169.33" y="175.82" width="1.50" height="1.50" fill="#8a5a3c" stroke="none" stroke-width="0" />
<rect x="169.33" y="174.13" width="1.50" height="1.50" fill="#8a5a3c" stroke="none" stroke-width="0" />
<rect x="182.86" y="175.52" width="1.50" height="1.50" fill="#f0b020" stroke="none" stroke-width="0" />
<rect x="182.86" y="180.96" width="1.50" height="1.50" fill="#f0b020" stroke="none" stroke-width="0" />
<rect x="196.39" y="191.26" width="1.50" height="1.50" fill="#80b8e8" stroke="none" stroke-width="0" />
<rect x="196.39" y="190.53" width="1.50" height="1.50" fill="#80b8e8" stroke="none" stroke-width="0" />
<rect x="142.27" y="165.65" width="1.50" height="1.50" fill="#d8d8d8" stroke="none" stroke-width="0" />
<rect x="142.27" y="165.76" width="1.50" height="1.50" fill="#d8d8d8" stroke="none" stroke-width="0" />
<rect x="156.70" y="163.17" width="1.50" height="1.50" fill="#8a5a3c" stroke="none" stroke-width="0" />
<rect x="156.70" y="171.13" width="1.50" height="1.50" fill="#8a5a3c" stroke="none" stroke-width="0" />
<rect x="169.33" y="199.33" width="1.50" height="1.50" fill="#f0b020" stroke="none" stroke-width="0" />
<rect x="169.33" y="189.56" width="1.50" height="1.50" fill="#f0b020" stroke="none" stroke-width="0" />
<rect x="182.86" y="239.72" width="1.50" height="1.50" fill="#80b8e8" stroke="none" stroke-width="0" />
<rect x="182.86" y="238.61" width="1.50" height="1.50" fill="#80b8e8" stroke="none" stroke-width="0" />
<rect x="196.39" y="252.38" width="1.50" height="1.50" fill="#c0c0d0" stroke="none" stroke-width="0" />
<rect x="196.39" y="247.02" width="1.50" height="1.50" fill="#c0c0d0" stroke="none" stroke-width="0" />
<rect x="43.05" y="165.06" width="1.50" height="1.50" fill="#b898c8" stroke="none" stroke-width="0" />
<rect x="43.05" y="168.73" width="1.50" height="1.50" fill="#8a5a3c" stroke="none" stroke-width="0" />
<rect x="43.05" y="166.00" width="1.50" height="1.50" fill="#c8203c" stroke="none" stroke-width="0" />
<rect x="43.05" y="165.53" width="1.50" height="1.50" fill="#d0309a" stroke="none" stroke-width="0" />
<rect x="43.05" y="166.43" width="1.50" height="1.50" fill="#f0b020" stroke="none" stroke-width="0" />
<rect x="43.05" y="167.18" width="1.50" height="1.50" fill="#5aa848" stroke="none" stroke-width="0" />
<rect x="43.05" y="168.38" width="1.50" height="1.50" fill="#2c4a9c" stroke="none" stroke-width="0" />
<rect x="43.05" y="168.11" width="1.50" height="1.50" fill="#80b8e8" stroke="none" stroke-width="0" />
</g>
<rect x="36.80" y="154.20" width="195.50" height="104.70" fill="none" stroke="#111" stroke-width="1.1" />
<line x1="34.30" y1="254.70" x2="36.80" y2="254.70" stroke="#000" stroke-width="0.7" />
<text x="30.20" y="256.80" font-size="6.3" text-anchor="end" font-weight="normal" fill="#111" stroke="#111" stroke-width="0.142" >0</text>
<line x1="34.30" y1="237.37" x2="36.80" y2="237.37" stroke="#000" stroke-width="0.7" />
<text x="30.20" y="239.47" font-size="6.3" text-anchor="end" font-weight="normal" fill="#111" stroke="#111" stroke-width="0.142" >20</text>
<line x1="34.30" y1="220.03" x2="36.80" y2="220.03" stroke="#000" stroke-width="0.7" />
<text x="30.20" y="222.13" font-size="6.3" text-anchor="end" font-weight="normal" fill="#111" stroke="#111" stroke-width="0.142" >40</text>
<line x1="34.30" y1="202.70" x2="36.80" y2="202.70" stroke="#000" stroke-width="0.7" />
<text x="30.20" y="204.80" font-size="6.3" text-anchor="end" font-weight="normal" fill="#111" stroke="#111" stroke-width="0.142" >60</text>
<line x1="34.30" y1="185.36" x2="36.80" y2="185.36" stroke="#000" stroke-width="0.7" />
<text x="30.20" y="187.46" font-size="6.3" text-anchor="end" font-weight="normal" fill="#111" stroke="#111" stroke-width="0.142" >80</text>
<line x1="34.30" y1="168.03" x2="36.80" y2="168.03" stroke="#000" stroke-width="0.7" />
<text x="30.20" y="170.13" font-size="6.3" text-anchor="end" font-weight="normal" fill="#111" stroke="#111" stroke-width="0.142" >100</text>
<line x1="43.80" y1="258.90" x2="43.80" y2="261.40" stroke="#000" stroke-width="0.7" />
<text x="43.80" y="270.20" font-size="6.3" text-anchor="middle" font-weight="normal" fill="#111" stroke="#111" stroke-width="0.142" >-1</text>
<line x1="88.90" y1="258.90" x2="88.90" y2="261.40" stroke="#000" stroke-width="0.7" />
<text x="88.90" y="270.20" font-size="6.3" text-anchor="middle" font-weight="normal" fill="#111" stroke="#111" stroke-width="0.142" >0</text>
<line x1="134.00" y1="258.90" x2="134.00" y2="261.40" stroke="#000" stroke-width="0.7" />
<text x="134.00" y="270.20" font-size="6.3" text-anchor="middle" font-weight="normal" fill="#111" stroke="#111" stroke-width="0.142" >1</text>
<line x1="179.10" y1="258.90" x2="179.10" y2="261.40" stroke="#000" stroke-width="0.7" />
<text x="179.10" y="270.20" font-size="6.3" text-anchor="middle" font-weight="normal" fill="#111" stroke="#111" stroke-width="0.142" >2</text>
<line x1="224.20" y1="258.90" x2="224.20" y2="261.40" stroke="#000" stroke-width="0.7" />
<text x="224.20" y="270.20" font-size="6.3" text-anchor="middle" font-weight="normal" fill="#111" stroke="#111" stroke-width="0.142" >3</text>
<text transform="translate(14.40,206.90) rotate(-90)" font-size="8.4" text-anchor="middle" font-weight="normal" fill="#111" textLength="32" lengthAdjust="spacingAndGlyphs" stroke="#111" stroke-width="0.220" >Viability (%)</text>
<text x="87.60" y="281.60" font-size="8.3" text-anchor="start" font-weight="normal" fill="#111" textLength="91.2" lengthAdjust="spacingAndGlyphs" stroke="#111" stroke-width="0.300" >Log A-PACs concentration (μg/mL)</text>
<text x="42.30" y="231.00" font-size="3.7" text-anchor="start" font-weight="normal" fill="#555" textLength="16.2" lengthAdjust="spacingAndGlyphs" stroke="#555" stroke-width="0.100" >Group A (blue)</text>
<text x="68.00" y="231.00" font-size="3.7" text-anchor="start" font-weight="normal" fill="#555" textLength="15.5" lengthAdjust="spacingAndGlyphs" stroke="#555" stroke-width="0.100" >Group B (red)</text>
<text x="92.50" y="231.00" font-size="3.7" text-anchor="start" font-weight="normal" fill="#555" textLength="18.5" lengthAdjust="spacingAndGlyphs" stroke="#555" stroke-width="0.100" >Group C (black)</text>
<circle cx="44.80" cy="235.50" r="0.95" fill="#b898c8" stroke="none" stroke-width="0"/>
<text x="47.40" y="236.80" font-size="3.7" text-anchor="start" font-weight="normal" fill="#555" stroke="#555" stroke-width="0.100" >HEL</text>
<circle cx="44.80" cy="240.50" r="0.95" fill="#8a5a3c" stroke="none" stroke-width="0"/>
<text x="47.40" y="241.80" font-size="3.7" text-anchor="start" font-weight="normal" fill="#555" stroke="#555" stroke-width="0.100" >RAMOS</text>
<circle cx="44.80" cy="245.50" r="0.95" fill="#c8203c" stroke="none" stroke-width="0"/>
<text x="47.40" y="246.80" font-size="3.7" text-anchor="start" font-weight="normal" fill="#555" stroke="#555" stroke-width="0.100" >RAMOS B</text>
<circle cx="44.80" cy="250.70" r="0.95" fill="#d0309a" stroke="none" stroke-width="0"/>
<text x="47.40" y="252.00" font-size="3.7" text-anchor="start" font-weight="normal" fill="#555" stroke="#555" stroke-width="0.100" >SUDHL 6</text>
<circle cx="69.30" cy="235.50" r="0.95" fill="#f0b020" stroke="none" stroke-width="0"/>
<text x="71.90" y="236.80" font-size="3.7" text-anchor="start" font-weight="normal" fill="#555" stroke="#555" stroke-width="0.100" >MOLM 13</text>
<circle cx="69.30" cy="240.50" r="0.95" fill="#5aa848" stroke="none" stroke-width="0"/>
<text x="71.90" y="241.80" font-size="3.7" text-anchor="start" font-weight="normal" fill="#555" stroke="#555" stroke-width="0.100" >REH</text>
<circle cx="69.30" cy="245.50" r="0.95" fill="#2c4a9c" stroke="none" stroke-width="0"/>
<text x="71.90" y="246.80" font-size="3.7" text-anchor="start" font-weight="normal" fill="#555" stroke="#555" stroke-width="0.100" >SET 2</text>
<circle cx="69.30" cy="250.70" r="0.95" fill="#80b8e8" stroke="none" stroke-width="0"/>
<text x="71.90" y="252.00" font-size="3.7" text-anchor="start" font-weight="normal" fill="#555" stroke="#555" stroke-width="0.100" >SKNO 1</text>
<circle cx="93.50" cy="235.50" r="0.95" fill="#f0a040" stroke="none" stroke-width="0"/>
<text x="96.10" y="236.80" font-size="3.7" text-anchor="start" font-weight="normal" fill="#555" stroke="#555" stroke-width="0.100" >HL60</text>
<circle cx="93.50" cy="240.50" r="0.95" fill="#90a890" stroke="none" stroke-width="0"/>
<text x="96.10" y="241.80" font-size="3.7" text-anchor="start" font-weight="normal" fill="#555" stroke="#555" stroke-width="0.100" >K562</text>
<circle cx="93.50" cy="245.50" r="0.95" fill="#b0b0c8" stroke="none" stroke-width="0"/>
<text x="96.10" y="246.80" font-size="3.7" text-anchor="start" font-weight="normal" fill="#555" stroke="#555" stroke-width="0.100" >Kasumi 1</text>
<circle cx="93.50" cy="250.70" r="0.95" fill="#a0a0a0" stroke="none" stroke-width="0"/>
<text x="96.10" y="252.00" font-size="3.7" text-anchor="start" font-weight="normal" fill="#555" stroke="#555" stroke-width="0.100" >Kasumi 4</text>
<circle cx="114.80" cy="235.50" r="0.95" fill="#e08828" stroke="none" stroke-width="0"/>
<text x="117.40" y="236.80" font-size="3.7" text-anchor="start" font-weight="normal" fill="#555" stroke="#555" stroke-width="0.100" >KG 1</text>
<circle cx="114.80" cy="240.50" r="0.95" fill="#b0b0b0" stroke="none" stroke-width="0"/>
<text x="117.40" y="241.80" font-size="3.7" text-anchor="start" font-weight="normal" fill="#555" stroke="#555" stroke-width="0.100" >MV4 11</text>
<circle cx="114.80" cy="245.50" r="0.95" fill="#f0c060" stroke="none" stroke-width="0"/>
<text x="117.40" y="246.80" font-size="3.7" text-anchor="start" font-weight="normal" fill="#555" stroke="#555" stroke-width="0.100" >THP 1</text>
<circle cx="114.80" cy="250.70" r="0.95" fill="#c8c8c8" stroke="none" stroke-width="0"/>
<text x="117.40" y="252.00" font-size="3.7" text-anchor="start" font-weight="normal" fill="#555" stroke="#555" stroke-width="0.100" >TUR</text>
<circle cx="139.80" cy="235.50" r="0.95" fill="#b0a030" stroke="none" stroke-width="0"/>
<text x="142.40" y="236.80" font-size="3.7" text-anchor="start" font-weight="normal" fill="#555" stroke="#555" stroke-width="0.100" >U937</text>
<text x="247.50" y="139.20" font-size="11.2" text-anchor="start" font-weight="bold" fill="#000" stroke="#000" stroke-width="0.45">G</text>
<text x="319.00" y="150.60" font-size="8.5" text-anchor="start" font-weight="normal" fill="#111" textLength="65.3" lengthAdjust="spacingAndGlyphs" stroke="#111" stroke-width="0.191" >Primary AML cells</text>
<clipPath id="cg"><rect x="276.8" y="154.1" width="149.0" height="104.4"/></clipPath>
<g clip-path="url(#cg)">
<line x1="276.80" y1="214.21" x2="425.80" y2="214.21" stroke="#888" stroke-width="0.7" />
<polyline points="275.86,195.68 276.96,195.68 278.07,195.68 279.17,195.68 280.28,195.68 281.38,195.68 282.49,195.68 283.59,195.68 284.70,195.68 285.80,195.68 286.91,195.68 288.01,195.68 289.12,195.68 290.22,195.68 291.33,195.68 292.43,195.68 293.54,195.68 294.64,195.68 295.75,195.68 296.85,195.68 297.96,195.68 299.06,195.68 300.17,195.68 301.27,195.68 302.38,195.68 303.48,195.68 304.59,195.69 305.69,195.69 306.80,195.69 307.90,195.69 309.01,195.70 310.11,195.70 311.22,195.71 312.32,195.72 313.43,195.72 314.53,195.73 315.64,195.75 316.74,195.76 317.85,195.78 318.95,195.80 320.06,195.83 321.16,195.86 322.27,195.90 323.37,195.95 324.48,196.01 325.58,196.08 326.69,196.16 327.79,196.27 328.90,196.39 330.00,196.54 331.11,196.73 332.21,196.95 333.32,197.21 334.42,197.53 335.53,197.92 336.63,198.38 337.74,198.92 338.84,199.57 339.95,200.34 341.05,201.25 342.16,202.30 343.26,203.53 344.37,204.93 345.47,206.53 346.58,208.33 347.68,210.33 348.78,212.52 349.89,214.88 350.99,217.38 352.10,219.99 353.20,222.65 354.31,225.32 355.41,227.95 356.52,230.49 357.62,232.89 358.73,235.14 359.83,237.20 360.94,239.06 362.04,240.73 363.15,242.20 364.25,243.48 365.36,244.58 366.46,245.53 367.57,246.34 368.67,247.03 369.78,247.61 370.88,248.09 371.99,248.50 373.09,248.84 374.20,249.12 375.30,249.36 376.41,249.55 377.51,249.71 378.62,249.84 379.72,249.95 380.83,250.05 381.93,250.12 383.04,250.18 384.14,250.23 385.25,250.28 386.35,250.31 387.46,250.34 388.56,250.36 389.67,250.38 390.77,250.40 391.88,250.41 392.98,250.42 394.09,250.43 395.19,250.44 396.30,250.44 397.40,250.45 398.51,250.45 399.61,250.46 400.72,250.46 401.82,250.46 402.93,250.46 404.03,250.46 405.14,250.47 406.24,250.47 407.35,250.47 408.45,250.47 409.56,250.47 410.66,250.47 411.77,250.47 412.87,250.47 413.98,250.47 415.08,250.47 416.19,250.47 417.29,250.47 418.40,250.47 419.50,250.47" fill="none" stroke="#cdcdcd" stroke-width="0.6"/>
<polyline points="275.86,185.20 276.96,185.20 278.07,185.20 279.17,185.20 280.28,185.20 281.38,185.20 282.49,185.20 283.59,185.20 284.70,185.20 285.80,185.20 286.91,185.20 288.01,185.20 289.12,185.20 290.22,185.20 291.33,185.20 292.43,185.20 293.54,185.20 294.64,185.20 295.75,185.20 296.85,185.20 297.96,185.20 299.06,185.21 300.17,185.21 301.27,185.21 302.38,185.21 303.48,185.21 304.59,185.21 305.69,185.21 306.80,185.22 307.90,185.22 309.01,185.23 310.11,185.23 311.22,185.24 312.32,185.25 313.43,185.25 314.53,185.27 315.64,185.28 316.74,185.30 317.85,185.32 318.95,185.34 320.06,185.37 321.16,185.41 322.27,185.46 323.37,185.51 324.48,185.58 325.58,185.66 326.69,185.75 327.79,185.87 328.90,186.01 330.00,186.18 331.11,186.39 332.21,186.64 333.32,186.93 334.42,187.29 335.53,187.71 336.63,188.22 337.74,188.81 338.84,189.51 339.95,190.32 341.05,191.27 342.16,192.35 343.26,193.59 344.37,194.97 345.47,196.51 346.58,198.19 347.68,200.01 348.78,201.92 349.89,203.92 350.99,205.96 352.10,208.00 353.20,210.00 354.31,211.94 355.41,213.77 356.52,215.48 357.62,217.05 358.73,218.47 359.83,219.73 360.94,220.84 362.04,221.81 363.15,222.65 364.25,223.37 365.36,223.98 366.46,224.50 367.57,224.94 368.67,225.31 369.78,225.61 370.88,225.87 371.99,226.08 373.09,226.26 374.20,226.41 375.30,226.53 376.41,226.63 377.51,226.71 378.62,226.78 379.72,226.84 380.83,226.88 381.93,226.92 383.04,226.96 384.14,226.98 385.25,227.00 386.35,227.02 387.46,227.04 388.56,227.05 389.67,227.06 390.77,227.07 391.88,227.07 392.98,227.08 394.09,227.08 395.19,227.09 396.30,227.09 397.40,227.09 398.51,227.09 399.61,227.09 400.72,227.10 401.82,227.10 402.93,227.10 404.03,227.10 405.14,227.10 406.24,227.10 407.35,227.10 408.45,227.10 409.56,227.10 410.66,227.10 411.77,227.10 412.87,227.10 413.98,227.10 415.08,227.10 416.19,227.10 417.29,227.10 418.40,227.10 419.50,227.10" fill="none" stroke="#cdcdcd" stroke-width="0.6"/>
<polyline points="275.86,181.17 276.96,181.17 278.07,181.17 279.17,181.17 280.28,181.17 281.38,181.17 282.49,181.17 283.59,181.17 284.70,181.17 285.80,181.17 286.91,181.17 288.01,181.17 289.12,181.17 290.22,181.17 291.33,181.17 292.43,181.17 293.54,181.17 294.64,181.17 295.75,181.17 296.85,181.17 297.96,181.17 299.06,181.17 300.17,181.17 301.27,181.17 302.38,181.17 303.48,181.17 304.59,181.17 305.69,181.17 306.80,181.17 307.90,181.17 309.01,181.17 310.11,181.17 311.22,181.17 312.32,181.17 313.43,181.17 314.53,181.17 315.64,181.17 316.74,181.17 317.85,181.17 318.95,181.17 320.06,181.17 321.16,181.18 322.27,181.18 323.37,181.18 324.48,181.18 325.58,181.18 326.69,181.19 327.79,181.19 328.90,181.20 330.00,181.20 331.11,181.21 332.21,181.23 333.32,181.25 334.42,181.27 335.53,181.30 336.63,181.34 337.74,181.40 338.84,181.47 339.95,181.56 341.05,181.69 342.16,181.85 343.26,182.06 344.37,182.34 345.47,182.70 346.58,183.16 347.68,183.76 348.78,184.51 349.89,185.47 350.99,186.64 352.10,188.08 353.20,189.78 354.31,191.76 355.41,193.99 356.52,196.42 357.62,198.97 358.73,201.55 359.83,204.05 360.94,206.41 362.04,208.53 363.15,210.39 364.25,211.98 365.36,213.30 366.46,214.38 367.57,215.24 368.67,215.93 369.78,216.46 370.88,216.88 371.99,217.20 373.09,217.45 374.20,217.64 375.30,217.78 376.41,217.89 377.51,217.98 378.62,218.04 379.72,218.09 380.83,218.12 381.93,218.15 383.04,218.17 384.14,218.19 385.25,218.20 386.35,218.21 387.46,218.22 388.56,218.22 389.67,218.23 390.77,218.23 391.88,218.23 392.98,218.23 394.09,218.23 395.19,218.24 396.30,218.24 397.40,218.24 398.51,218.24 399.61,218.24 400.72,218.24 401.82,218.24 402.93,218.24 404.03,218.24 405.14,218.24 406.24,218.24 407.35,218.24 408.45,218.24 409.56,218.24 410.66,218.24 411.77,218.24 412.87,218.24 413.98,218.24 415.08,218.24 416.19,218.24 417.29,218.24 418.40,218.24 419.50,218.24" fill="none" stroke="#cdcdcd" stroke-width="0.6"/>
<polyline points="275.86,166.67 276.96,166.67 278.07,166.67 279.17,166.67 280.28,166.67 281.38,166.67 282.49,166.67 283.59,166.67 284.70,166.67 285.80,166.67 286.91,166.67 288.01,166.67 289.12,166.67 290.22,166.67 291.33,166.67 292.43,166.67 293.54,166.67 294.64,166.67 295.75,166.67 296.85,166.68 297.96,166.68 299.06,166.68 300.17,166.68 301.27,166.68 302.38,166.68 303.48,166.68 304.59,166.69 305.69,166.69 306.80,166.69 307.90,166.70 309.01,166.70 310.11,166.71 311.22,166.71 312.32,166.72 313.43,166.73 314.53,166.74 315.64,166.75 316.74,166.76 317.85,166.77 318.95,166.79 320.06,166.81 321.16,166.83 322.27,166.85 323.37,166.88 324.48,166.91 325.58,166.95 326.69,166.99 327.79,167.04 328.90,167.09 330.00,167.15 331.11,167.23 332.21,167.31 333.32,167.40 334.42,167.51 335.53,167.64 336.63,167.78 337.74,167.94 338.84,168.13 339.95,168.34 341.05,168.59 342.16,168.86 343.26,169.18 344.37,169.54 345.47,169.95 346.58,170.42 347.68,170.94 348.78,171.54 349.89,172.21 350.99,172.96 352.10,173.81 353.20,174.76 354.31,175.81 355.41,176.98 356.52,178.26 357.62,179.68 358.73,181.22 359.83,182.90 360.94,184.70 362.04,186.63 363.15,188.68 364.25,190.84 365.36,193.09 366.46,195.43 367.57,197.82 368.67,200.25 369.78,202.69 370.88,205.12 371.99,207.53 373.09,209.87 374.20,212.14 375.30,214.32 376.41,216.40 377.51,218.35 378.62,220.18 379.72,221.88 380.83,223.45 381.93,224.89 383.04,226.21 384.14,227.40 385.25,228.48 386.35,229.44 387.46,230.31 388.56,231.08 389.67,231.77 390.77,232.38 391.88,232.92 392.98,233.40 394.09,233.82 395.19,234.19 396.30,234.51 397.40,234.80 398.51,235.05 399.61,235.27 400.72,235.46 401.82,235.63 402.93,235.78 404.03,235.90 405.14,236.02 406.24,236.11 407.35,236.20 408.45,236.27 409.56,236.34 410.66,236.39 411.77,236.44 412.87,236.49 413.98,236.52 415.08,236.56 416.19,236.58 417.29,236.61 418.40,236.63 419.50,236.65" fill="none" stroke="#cdcdcd" stroke-width="0.6"/>
<polyline points="275.86,170.70 276.96,170.70 278.07,170.70 279.17,170.70 280.28,170.70 281.38,170.70 282.49,170.70 283.59,170.70 284.70,170.70 285.80,170.70 286.91,170.70 288.01,170.70 289.12,170.70 290.22,170.70 291.33,170.70 292.43,170.70 293.54,170.70 294.64,170.70 295.75,170.70 296.85,170.70 297.96,170.70 299.06,170.70 300.17,170.70 301.27,170.70 302.38,170.70 303.48,170.70 304.59,170.70 305.69,170.70 306.80,170.70 307.90,170.70 309.01,170.70 310.11,170.70 311.22,170.70 312.32,170.70 313.43,170.70 314.53,170.70 315.64,170.70 316.74,170.70 317.85,170.70 318.95,170.70 320.06,170.70 321.16,170.70 322.27,170.70 323.37,170.70 324.48,170.70 325.58,170.71 326.69,170.71 327.79,170.71 328.90,170.71 330.00,170.71 331.11,170.72 332.21,170.72 333.32,170.72 334.42,170.73 335.53,170.74 336.63,170.74 337.74,170.75 338.84,170.76 339.95,170.77 341.05,170.79 342.16,170.80 343.26,170.82 344.37,170.85 345.47,170.87 346.58,170.90 347.68,170.94 348.78,170.99 349.89,171.04 350.99,171.10 352.10,171.17 353.20,171.26 354.31,171.36 355.41,171.48 356.52,171.62 357.62,171.78 358.73,171.98 359.83,172.21 360.94,172.47 362.04,172.79 363.15,173.15 364.25,173.58 365.36,174.07 366.46,174.65 367.57,175.31 368.67,176.07 369.78,176.95 370.88,177.95 371.99,179.09 373.09,180.37 374.20,181.80 375.30,183.40 376.41,185.15 377.51,187.06 378.62,189.12 379.72,191.32 380.83,193.63 381.93,196.03 383.04,198.49 384.14,200.99 385.25,203.47 386.35,205.92 387.46,208.29 388.56,210.56 389.67,212.71 390.77,214.71 391.88,216.56 392.98,218.25 394.09,219.78 395.19,221.16 396.30,222.38 397.40,223.47 398.51,224.42 399.61,225.25 400.72,225.98 401.82,226.61 402.93,227.15 404.03,227.62 405.14,228.02 406.24,228.36 407.35,228.66 408.45,228.91 409.56,229.12 410.66,229.30 411.77,229.46 412.87,229.59 413.98,229.70 415.08,229.80 416.19,229.88 417.29,229.95 418.40,230.01 419.50,230.05" fill="none" stroke="#cdcdcd" stroke-width="0.6"/>
<polyline points="275.86,149.79 276.96,149.79 278.07,149.80 279.17,149.80 280.28,149.81 281.38,149.81 282.49,149.82 283.59,149.83 284.70,149.84 285.80,149.85 286.91,149.86 288.01,149.87 289.12,149.88 290.22,149.90 291.33,149.91 292.43,149.93 293.54,149.95 294.64,149.97 295.75,150.00 296.85,150.02 297.96,150.05 299.06,150.09 300.17,150.12 301.27,150.16 302.38,150.21 303.48,150.25 304.59,150.31 305.69,150.37 306.80,150.43 307.90,150.50 309.01,150.58 310.11,150.67 311.22,150.77 312.32,150.87 313.43,150.99 314.53,151.12 315.64,151.26 316.74,151.42 317.85,151.59 318.95,151.78 320.06,151.99 321.16,152.22 322.27,152.47 323.37,152.75 324.48,153.06 325.58,153.39 326.69,153.76 327.79,154.17 328.90,154.61 330.00,155.09 331.11,155.62 332.21,156.19 333.32,156.82 334.42,157.50 335.53,158.24 336.63,159.04 337.74,159.91 338.84,160.85 339.95,161.86 341.05,162.95 342.16,164.12 343.26,165.37 344.37,166.71 345.47,168.13 346.58,169.64 347.68,171.23 348.78,172.90 349.89,174.66 350.99,176.50 352.10,178.41 353.20,180.40 354.31,182.44 355.41,184.54 356.52,186.68 357.62,188.86 358.73,191.07 359.83,193.29 360.94,195.51 362.04,197.73 363.15,199.93 364.25,202.10 365.36,204.23 366.46,206.31 367.57,208.34 368.67,210.30 369.78,212.19 370.88,214.01 371.99,215.74 373.09,217.39 374.20,218.96 375.30,220.44 376.41,221.83 377.51,223.14 378.62,224.37 379.72,225.51 380.83,226.58 381.93,227.57 383.04,228.49 384.14,229.34 385.25,230.12 386.35,230.84 387.46,231.51 388.56,232.12 389.67,232.68 390.77,233.19 391.88,233.66 392.98,234.09 394.09,234.48 395.19,234.84 396.30,235.17 397.40,235.46 398.51,235.73 399.61,235.98 400.72,236.20 401.82,236.41 402.93,236.59 404.03,236.76 405.14,236.91 406.24,237.05 407.35,237.18 408.45,237.29 409.56,237.39 410.66,237.49 411.77,237.57 412.87,237.65 413.98,237.72 415.08,237.78 416.19,237.84 417.29,237.89 418.40,237.94 419.50,237.98" fill="none" stroke="#cdcdcd" stroke-width="0.6"/>
<polyline points="275.86,158.65 276.96,158.65 278.07,158.65 279.17,158.66 280.28,158.66 281.38,158.67 282.49,158.67 283.59,158.68 284.70,158.69 285.80,158.69 286.91,158.70 288.01,158.71 289.12,158.72 290.22,158.73 291.33,158.74 292.43,158.75 293.54,158.77 294.64,158.78 295.75,158.80 296.85,158.81 297.96,158.83 299.06,158.85 300.17,158.88 301.27,158.90 302.38,158.93 303.48,158.96 304.59,158.99 305.69,159.03 306.80,159.07 307.90,159.11 309.01,159.15 310.11,159.20 311.22,159.26 312.32,159.32 313.43,159.39 314.53,159.46 315.64,159.54 316.74,159.62 317.85,159.71 318.95,159.82 320.06,159.93 321.16,160.05 322.27,160.18 323.37,160.32 324.48,160.48 325.58,160.65 326.69,160.84 327.79,161.04 328.90,161.26 330.00,161.50 331.11,161.76 332.21,162.04 333.32,162.35 334.42,162.68 335.53,163.04 336.63,163.43 337.74,163.85 338.84,164.31 339.95,164.80 341.05,165.34 342.16,165.91 343.26,166.53 344.37,167.20 345.47,167.91 346.58,168.68 347.68,169.50 348.78,170.38 349.89,171.31 350.99,172.31 352.10,173.37 353.20,174.50 354.31,175.69 355.41,176.94 356.52,178.26 357.62,179.65 358.73,181.10 359.83,182.62 360.94,184.19 362.04,185.83 363.15,187.52 364.25,189.26 365.36,191.04 366.46,192.87 367.57,194.73 368.67,196.61 369.78,198.52 370.88,200.44 371.99,202.36 373.09,204.28 374.20,206.19 375.30,208.09 376.41,209.96 377.51,211.79 378.62,213.59 379.72,215.35 380.83,217.05 381.93,218.71 383.04,220.30 384.14,221.84 385.25,223.31 386.35,224.72 387.46,226.07 388.56,227.34 389.67,228.56 390.77,229.70 391.88,230.78 392.98,231.80 394.09,232.76 395.19,233.66 396.30,234.50 397.40,235.28 398.51,236.01 399.61,236.69 400.72,237.33 401.82,237.92 402.93,238.46 404.03,238.97 405.14,239.44 406.24,239.87 407.35,240.28 408.45,240.65 409.56,240.99 410.66,241.30 411.77,241.59 412.87,241.86 413.98,242.10 415.08,242.33 416.19,242.54 417.29,242.73 418.40,242.90 419.50,243.07" fill="none" stroke="#cdcdcd" stroke-width="0.6"/>
<polyline points="275.86,162.64 276.96,162.64 278.07,162.64 279.17,162.64 280.28,162.64 281.38,162.64 282.49,162.64 283.59,162.64 284.70,162.64 285.80,162.64 286.91,162.64 288.01,162.64 289.12,162.64 290.22,162.64 291.33,162.64 292.43,162.64 293.54,162.64 294.64,162.64 295.75,162.64 296.85,162.64 297.96,162.64 299.06,162.64 300.17,162.64 301.27,162.64 302.38,162.64 303.48,162.64 304.59,162.64 305.69,162.64 306.80,162.64 307.90,162.64 309.01,162.64 310.11,162.64 311.22,162.64 312.32,162.65 313.43,162.65 314.53,162.65 315.64,162.65 316.74,162.65 317.85,162.66 318.95,162.66 320.06,162.66 321.16,162.67 322.27,162.67 323.37,162.68 324.48,162.68 325.58,162.69 326.69,162.70 327.79,162.71 328.90,162.73 330.00,162.74 331.11,162.76 332.21,162.78 333.32,162.81 334.42,162.84 335.53,162.88 336.63,162.92 337.74,162.97 338.84,163.03 339.95,163.10 341.05,163.18 342.16,163.28 343.26,163.40 344.37,163.53 345.47,163.69 346.58,163.88 347.68,164.10 348.78,164.36 349.89,164.66 350.99,165.01 352.10,165.43 353.20,165.90 354.31,166.46 355.41,167.10 356.52,167.84 357.62,168.68 358.73,169.65 359.83,170.74 360.94,171.97 362.04,173.35 363.15,174.88 364.25,176.56 365.36,178.39 366.46,180.35 367.57,182.45 368.67,184.65 369.78,186.93 370.88,189.27 371.99,191.63 373.09,193.98 374.20,196.28 375.30,198.51 376.41,200.64 377.51,202.66 378.62,204.53 379.72,206.26 380.83,207.84 381.93,209.27 383.04,210.55 384.14,211.69 385.25,212.69 386.35,213.58 387.46,214.35 388.56,215.02 389.67,215.60 390.77,216.11 391.88,216.54 392.98,216.91 394.09,217.23 395.19,217.50 396.30,217.73 397.40,217.93 398.51,218.10 399.61,218.24 400.72,218.37 401.82,218.47 402.93,218.56 404.03,218.63 405.14,218.70 406.24,218.75 407.35,218.79 408.45,218.83 409.56,218.87 410.66,218.89 411.77,218.92 412.87,218.94 413.98,218.95 415.08,218.97 416.19,218.98 417.29,218.99 418.40,219.00 419.50,219.00" fill="none" stroke="#cdcdcd" stroke-width="0.6"/>
<polyline points="275.86,168.28 276.96,168.28 278.07,168.28 279.17,168.28 280.28,168.28 281.38,168.28 282.49,168.28 283.59,168.28 284.70,168.28 285.80,168.28 286.91,168.28 288.01,168.28 289.12,168.28 290.22,168.28 291.33,168.28 292.43,168.28 293.54,168.28 294.64,168.28 295.75,168.28 296.85,168.28 297.96,168.28 299.06,168.28 300.17,168.28 301.27,168.28 302.38,168.28 303.48,168.29 304.59,168.29 305.69,168.29 306.80,168.29 307.90,168.29 309.01,168.29 310.11,168.29 311.22,168.30 312.32,168.30 313.43,168.30 314.53,168.30 315.64,168.31 316.74,168.31 317.85,168.32 318.95,168.32 320.06,168.33 321.16,168.34 322.27,168.35 323.37,168.36 324.48,168.37 325.58,168.38 326.69,168.40 327.79,168.42 328.90,168.44 330.00,168.46 331.11,168.49 332.21,168.52 333.32,168.56 334.42,168.61 335.53,168.66 336.63,168.72 337.74,168.78 338.84,168.86 339.95,168.95 341.05,169.06 342.16,169.18 343.26,169.31 344.37,169.47 345.47,169.65 346.58,169.86 347.68,170.10 348.78,170.38 349.89,170.69 350.99,171.06 352.10,171.47 353.20,171.94 354.31,172.47 355.41,173.08 356.52,173.77 357.62,174.54 358.73,175.41 359.83,176.39 360.94,177.48 362.04,178.69 363.15,180.03 364.25,181.50 365.36,183.10 366.46,184.83 367.57,186.69 368.67,188.68 369.78,190.78 370.88,192.98 371.99,195.26 373.09,197.61 374.20,199.99 375.30,202.38 376.41,204.77 377.51,207.11 378.62,209.40 379.72,211.61 380.83,213.73 381.93,215.73 383.04,217.60 384.14,219.35 385.25,220.97 386.35,222.45 387.46,223.80 388.56,225.02 389.67,226.13 390.77,227.12 391.88,228.00 392.98,228.79 394.09,229.48 395.19,230.10 396.30,230.64 397.40,231.12 398.51,231.54 399.61,231.90 400.72,232.22 401.82,232.50 402.93,232.75 404.03,232.96 405.14,233.14 406.24,233.31 407.35,233.45 408.45,233.57 409.56,233.67 410.66,233.76 411.77,233.84 412.87,233.91 413.98,233.97 415.08,234.02 416.19,234.07 417.29,234.11 418.40,234.14 419.50,234.17" fill="none" stroke="#cdcdcd" stroke-width="0.6"/>
<polyline points="275.86,171.50 276.96,171.50 278.07,171.50 279.17,171.50 280.28,171.50 281.38,171.50 282.49,171.50 283.59,171.50 284.70,171.50 285.80,171.51 286.91,171.51 288.01,171.51 289.12,171.51 290.22,171.51 291.33,171.51 292.43,171.51 293.54,171.51 294.64,171.51 295.75,171.51 296.85,171.51 297.96,171.51 299.06,171.51 300.17,171.51 301.27,171.52 302.38,171.52 303.48,171.52 304.59,171.52 305.69,171.53 306.80,171.53 307.90,171.53 309.01,171.54 310.11,171.54 311.22,171.54 312.32,171.55 313.43,171.56 314.53,171.56 315.64,171.57 316.74,171.58 317.85,171.59 318.95,171.60 320.06,171.62 321.16,171.63 322.27,171.65 323.37,171.66 324.48,171.69 325.58,171.71 326.69,171.74 327.79,171.77 328.90,171.80 330.00,171.84 331.11,171.88 332.21,171.93 333.32,171.99 334.42,172.05 335.53,172.12 336.63,172.21 337.74,172.30 338.84,172.40 339.95,172.51 341.05,172.64 342.16,172.79 343.26,172.95 344.37,173.14 345.47,173.35 346.58,173.58 347.68,173.84 348.78,174.13 349.89,174.46 350.99,174.83 352.10,175.24 353.20,175.70 354.31,176.21 355.41,176.77 356.52,177.40 357.62,178.09 358.73,178.86 359.83,179.70 360.94,180.63 362.04,181.64 363.15,182.74 364.25,183.94 365.36,185.23 366.46,186.61 367.57,188.10 368.67,189.68 369.78,191.35 370.88,193.10 371.99,194.93 373.09,196.83 374.20,198.79 375.30,200.79 376.41,202.83 377.51,204.88 378.62,206.93 379.72,208.96 380.83,210.97 381.93,212.93 383.04,214.84 384.14,216.67 385.25,218.43 386.35,220.11 387.46,221.69 388.56,223.18 389.67,224.57 390.77,225.87 391.88,227.07 392.98,228.18 394.09,229.20 395.19,230.13 396.30,230.97 397.40,231.75 398.51,232.44 399.61,233.08 400.72,233.65 401.82,234.16 402.93,234.62 404.03,235.03 405.14,235.40 406.24,235.73 407.35,236.03 408.45,236.29 409.56,236.53 410.66,236.74 411.77,236.92 412.87,237.09 413.98,237.24 415.08,237.37 416.19,237.48 417.29,237.58 418.40,237.68 419.50,237.76" fill="none" stroke="#cdcdcd" stroke-width="0.6"/>
<polyline points="275.86,175.53 276.96,175.53 278.07,175.53 279.17,175.53 280.28,175.53 281.38,175.53 282.49,175.53 283.59,175.53 284.70,175.53 285.80,175.53 286.91,175.53 288.01,175.53 289.12,175.53 290.22,175.53 291.33,175.53 292.43,175.53 293.54,175.53 294.64,175.53 295.75,175.53 296.85,175.53 297.96,175.53 299.06,175.53 300.17,175.53 301.27,175.53 302.38,175.53 303.48,175.53 304.59,175.53 305.69,175.53 306.80,175.53 307.90,175.53 309.01,175.54 310.11,175.54 311.22,175.54 312.32,175.54 313.43,175.54 314.53,175.54 315.64,175.54 316.74,175.54 317.85,175.55 318.95,175.55 320.06,175.55 321.16,175.56 322.27,175.56 323.37,175.57 324.48,175.57 325.58,175.58 326.69,175.59 327.79,175.60 328.90,175.61 330.00,175.62 331.11,175.64 332.21,175.66 333.32,175.68 334.42,175.71 335.53,175.74 336.63,175.78 337.74,175.83 338.84,175.88 339.95,175.95 341.05,176.02 342.16,176.11 343.26,176.21 344.37,176.34 345.47,176.48 346.58,176.65 347.68,176.85 348.78,177.08 349.89,177.35 350.99,177.67 352.10,178.04 353.20,178.47 354.31,178.97 355.41,179.55 356.52,180.21 357.62,180.97 358.73,181.84 359.83,182.82 360.94,183.93 362.04,185.17 363.15,186.55 364.25,188.06 365.36,189.70 366.46,191.48 367.57,193.36 368.67,195.34 369.78,197.40 370.88,199.50 371.99,201.62 373.09,203.73 374.20,205.81 375.30,207.82 376.41,209.74 377.51,211.55 378.62,213.24 379.72,214.79 380.83,216.21 381.93,217.50 383.04,218.65 384.14,219.67 385.25,220.58 386.35,221.38 387.46,222.07 388.56,222.68 389.67,223.20 390.77,223.65 391.88,224.04 392.98,224.38 394.09,224.66 395.19,224.91 396.30,225.12 397.40,225.30 398.51,225.45 399.61,225.58 400.72,225.69 401.82,225.78 402.93,225.86 404.03,225.93 405.14,225.98 406.24,226.03 407.35,226.07 408.45,226.11 409.56,226.14 410.66,226.16 411.77,226.18 412.87,226.20 413.98,226.21 415.08,226.23 416.19,226.24 417.29,226.25 418.40,226.25 419.50,226.26" fill="none" stroke="#cdcdcd" stroke-width="0.6"/>
<polyline points="275.86,177.95 276.96,177.95 278.07,177.95 279.17,177.95 280.28,177.95 281.38,177.95 282.49,177.95 283.59,177.95 284.70,177.95 285.80,177.95 286.91,177.95 288.01,177.95 289.12,177.95 290.22,177.95 291.33,177.96 292.43,177.96 293.54,177.96 294.64,177.96 295.75,177.96 296.85,177.96 297.96,177.96 299.06,177.96 300.17,177.96 301.27,177.97 302.38,177.97 303.48,177.97 304.59,177.97 305.69,177.98 306.80,177.98 307.90,177.98 309.01,177.99 310.11,177.99 311.22,178.00 312.32,178.00 313.43,178.01 314.53,178.02 315.64,178.02 316.74,178.03 317.85,178.04 318.95,178.05 320.06,178.06 321.16,178.08 322.27,178.09 323.37,178.11 324.48,178.13 325.58,178.15 326.69,178.17 327.79,178.20 328.90,178.23 330.00,178.26 331.11,178.30 332.21,178.34 333.32,178.39 334.42,178.44 335.53,178.50 336.63,178.56 337.74,178.63 338.84,178.71 339.95,178.80 341.05,178.90 342.16,179.01 343.26,179.13 344.37,179.27 345.47,179.42 346.58,179.59 347.68,179.78 348.78,179.99 349.89,180.23 350.99,180.48 352.10,180.77 353.20,181.09 354.31,181.44 355.41,181.83 356.52,182.26 357.62,182.73 358.73,183.25 359.83,183.82 360.94,184.44 362.04,185.13 363.15,185.87 364.25,186.69 365.36,187.57 366.46,188.53 367.57,189.56 368.67,190.67 369.78,191.86 370.88,193.13 371.99,194.48 373.09,195.90 374.20,197.41 375.30,198.98 376.41,200.62 377.51,202.32 378.62,204.08 379.72,205.87 380.83,207.70 381.93,209.56 383.04,211.42 384.14,213.28 385.25,215.14 386.35,216.96 387.46,218.76 388.56,220.51 389.67,222.21 390.77,223.85 391.88,225.42 392.98,226.92 394.09,228.35 395.19,229.69 396.30,230.96 397.40,232.15 398.51,233.25 399.61,234.28 400.72,235.24 401.82,236.12 402.93,236.93 404.03,237.68 405.14,238.36 406.24,238.98 407.35,239.55 408.45,240.07 409.56,240.54 410.66,240.97 411.77,241.35 412.87,241.70 413.98,242.02 415.08,242.30 416.19,242.56 417.29,242.79 418.40,243.00 419.50,243.19" fill="none" stroke="#cdcdcd" stroke-width="0.6"/>
<polyline points="275.86,180.37 276.96,180.37 278.07,180.37 279.17,180.37 280.28,180.37 281.38,180.37 282.49,180.37 283.59,180.37 284.70,180.37 285.80,180.37 286.91,180.37 288.01,180.37 289.12,180.37 290.22,180.37 291.33,180.37 292.43,180.37 293.54,180.37 294.64,180.37 295.75,180.37 296.85,180.37 297.96,180.37 299.06,180.37 300.17,180.37 301.27,180.37 302.38,180.37 303.48,180.37 304.59,180.37 305.69,180.37 306.80,180.37 307.90,180.37 309.01,180.37 310.11,180.37 311.22,180.37 312.32,180.37 313.43,180.37 314.53,180.37 315.64,180.37 316.74,180.37 317.85,180.38 318.95,180.38 320.06,180.38 321.16,180.38 322.27,180.38 323.37,180.39 324.48,180.39 325.58,180.40 326.69,180.40 327.79,180.41 328.90,180.42 330.00,180.43 331.11,180.44 332.21,180.46 333.32,180.47 334.42,180.49 335.53,180.52 336.63,180.55 337.74,180.58 338.84,180.63 339.95,180.68 341.05,180.74 342.16,180.81 343.26,180.89 344.37,181.00 345.47,181.12 346.58,181.26 347.68,181.43 348.78,181.63 349.89,181.87 350.99,182.15 352.10,182.48 353.20,182.87 354.31,183.33 355.41,183.86 356.52,184.48 357.62,185.19 358.73,186.00 359.83,186.93 360.94,187.98 362.04,189.16 363.15,190.46 364.25,191.89 365.36,193.44 366.46,195.10 367.57,196.84 368.67,198.66 369.78,200.52 370.88,202.38 371.99,204.24 373.09,206.04 374.20,207.78 375.30,209.42 376.41,210.96 377.51,212.37 378.62,213.65 379.72,214.81 380.83,215.84 381.93,216.76 383.04,217.56 384.14,218.25 385.25,218.86 386.35,219.38 387.46,219.82 388.56,220.20 389.67,220.52 390.77,220.80 391.88,221.03 392.98,221.23 394.09,221.40 395.19,221.54 396.30,221.65 397.40,221.75 398.51,221.84 399.61,221.91 400.72,221.97 401.82,222.01 402.93,222.06 404.03,222.09 405.14,222.12 406.24,222.14 407.35,222.16 408.45,222.18 409.56,222.20 410.66,222.21 411.77,222.22 412.87,222.23 413.98,222.23 415.08,222.24 416.19,222.24 417.29,222.25 418.40,222.25 419.50,222.25" fill="none" stroke="#cdcdcd" stroke-width="0.6"/>
<polyline points="275.86,186.01 276.96,186.01 278.07,186.01 279.17,186.01 280.28,186.01 281.38,186.01 282.49,186.01 283.59,186.01 284.70,186.01 285.80,186.01 286.91,186.01 288.01,186.01 289.12,186.01 290.22,186.01 291.33,186.01 292.43,186.01 293.54,186.01 294.64,186.01 295.75,186.01 296.85,186.01 297.96,186.01 299.06,186.01 300.17,186.01 301.27,186.01 302.38,186.01 303.48,186.01 304.59,186.01 305.69,186.01 306.80,186.01 307.90,186.01 309.01,186.02 310.11,186.02 311.22,186.02 312.32,186.02 313.43,186.02 314.53,186.03 315.64,186.03 316.74,186.03 317.85,186.04 318.95,186.04 320.06,186.04 321.16,186.05 322.27,186.06 323.37,186.07 324.48,186.07 325.58,186.08 326.69,186.10 327.79,186.11 328.90,186.13 330.00,186.15 331.11,186.17 332.21,186.19 333.32,186.22 334.42,186.25 335.53,186.29 336.63,186.34 337.74,186.39 338.84,186.45 339.95,186.51 341.05,186.59 342.16,186.68 343.26,186.79 344.37,186.91 345.47,187.04 346.58,187.20 347.68,187.38 348.78,187.59 349.89,187.82 350.99,188.09 352.10,188.40 353.20,188.75 354.31,189.15 355.41,189.60 356.52,190.11 357.62,190.69 358.73,191.33 359.83,192.05 360.94,192.84 362.04,193.72 363.15,194.69 364.25,195.75 365.36,196.90 366.46,198.13 367.57,199.45 368.67,200.85 369.78,202.31 370.88,203.83 371.99,205.40 373.09,206.99 374.20,208.60 375.30,210.20 376.41,211.78 377.51,213.33 378.62,214.82 379.72,216.25 380.83,217.60 381.93,218.88 383.04,220.06 384.14,221.16 385.25,222.17 386.35,223.09 387.46,223.93 388.56,224.68 389.67,225.36 390.77,225.96 391.88,226.50 392.98,226.98 394.09,227.40 395.19,227.77 396.30,228.10 397.40,228.39 398.51,228.64 399.61,228.86 400.72,229.05 401.82,229.22 402.93,229.37 404.03,229.49 405.14,229.60 406.24,229.70 407.35,229.78 408.45,229.86 409.56,229.92 410.66,229.97 411.77,230.02 412.87,230.06 413.98,230.10 415.08,230.13 416.19,230.15 417.29,230.18 418.40,230.20 419.50,230.21" fill="none" stroke="#cdcdcd" stroke-width="0.6"/>
<rect x="336.57" y="198.79" width="1.70" height="1.70" fill="#9a7cc0" stroke="none" stroke-width="0" />
<rect x="350.25" y="218.17" width="1.70" height="1.70" fill="#9a7cc0" stroke="none" stroke-width="0" />
<rect x="363.93" y="242.89" width="1.70" height="1.70" fill="#9a7cc0" stroke="none" stroke-width="0" />
<rect x="377.61" y="249.66" width="1.70" height="1.70" fill="#9a7cc0" stroke="none" stroke-width="0" />
<rect x="391.29" y="248.56" width="1.70" height="1.70" fill="#9a7cc0" stroke="none" stroke-width="0" />
<rect x="336.57" y="189.25" width="1.70" height="1.70" fill="#7a5030" stroke="none" stroke-width="0" />
<rect x="350.25" y="204.00" width="1.70" height="1.70" fill="#7a5030" stroke="none" stroke-width="0" />
<rect x="363.93" y="222.20" width="1.70" height="1.70" fill="#7a5030" stroke="none" stroke-width="0" />
<rect x="377.61" y="224.56" width="1.70" height="1.70" fill="#7a5030" stroke="none" stroke-width="0" />
<rect x="391.29" y="224.94" width="1.70" height="1.70" fill="#7a5030" stroke="none" stroke-width="0" />
<rect x="336.57" y="179.24" width="1.70" height="1.70" fill="#f0a030" stroke="none" stroke-width="0" />
<rect x="350.25" y="185.67" width="1.70" height="1.70" fill="#f0a030" stroke="none" stroke-width="0" />
<rect x="363.93" y="213.36" width="1.70" height="1.70" fill="#f0a030" stroke="none" stroke-width="0" />
<rect x="377.61" y="216.39" width="1.70" height="1.70" fill="#f0a030" stroke="none" stroke-width="0" />
<rect x="391.29" y="218.44" width="1.70" height="1.70" fill="#f0a030" stroke="none" stroke-width="0" />
<rect x="336.57" y="167.69" width="1.70" height="1.70" fill="#c8203c" stroke="none" stroke-width="0" />
<rect x="350.25" y="171.67" width="1.70" height="1.70" fill="#c8203c" stroke="none" stroke-width="0" />
<rect x="363.93" y="190.97" width="1.70" height="1.70" fill="#c8203c" stroke="none" stroke-width="0" />
<rect x="377.61" y="219.36" width="1.70" height="1.70" fill="#c8203c" stroke="none" stroke-width="0" />
<rect x="391.29" y="230.77" width="1.70" height="1.70" fill="#c8203c" stroke="none" stroke-width="0" />
<rect x="336.57" y="169.54" width="1.70" height="1.70" fill="#5aa848" stroke="none" stroke-width="0" />
<rect x="350.25" y="170.77" width="1.70" height="1.70" fill="#5aa848" stroke="none" stroke-width="0" />
<rect x="363.93" y="173.75" width="1.70" height="1.70" fill="#5aa848" stroke="none" stroke-width="0" />
<rect x="377.61" y="186.80" width="1.70" height="1.70" fill="#5aa848" stroke="none" stroke-width="0" />
<rect x="391.29" y="216.20" width="1.70" height="1.70" fill="#5aa848" stroke="none" stroke-width="0" />
<rect x="336.57" y="157.90" width="1.70" height="1.70" fill="#b0b0c8" stroke="none" stroke-width="0" />
<rect x="350.25" y="176.31" width="1.70" height="1.70" fill="#b0b0c8" stroke="none" stroke-width="0" />
<rect x="363.93" y="203.25" width="1.70" height="1.70" fill="#b0b0c8" stroke="none" stroke-width="0" />
<rect x="377.61" y="223.24" width="1.70" height="1.70" fill="#b0b0c8" stroke="none" stroke-width="0" />
<rect x="391.29" y="231.90" width="1.70" height="1.70" fill="#b0b0c8" stroke="none" stroke-width="0" />
<rect x="336.57" y="163.94" width="1.70" height="1.70" fill="#90a890" stroke="none" stroke-width="0" />
<rect x="350.25" y="170.62" width="1.70" height="1.70" fill="#90a890" stroke="none" stroke-width="0" />
<rect x="363.93" y="187.89" width="1.70" height="1.70" fill="#90a890" stroke="none" stroke-width="0" />
<rect x="377.61" y="211.50" width="1.70" height="1.70" fill="#90a890" stroke="none" stroke-width="0" />
<rect x="391.29" y="229.14" width="1.70" height="1.70" fill="#90a890" stroke="none" stroke-width="0" />
<rect x="336.57" y="163.69" width="1.70" height="1.70" fill="#e08828" stroke="none" stroke-width="0" />
<rect x="350.25" y="163.79" width="1.70" height="1.70" fill="#e08828" stroke="none" stroke-width="0" />
<rect x="363.93" y="175.39" width="1.70" height="1.70" fill="#e08828" stroke="none" stroke-width="0" />
<rect x="377.61" y="204.87" width="1.70" height="1.70" fill="#e08828" stroke="none" stroke-width="0" />
<rect x="391.29" y="216.52" width="1.70" height="1.70" fill="#e08828" stroke="none" stroke-width="0" />
<rect x="336.57" y="168.66" width="1.70" height="1.70" fill="#9d8fc0" stroke="none" stroke-width="0" />
<rect x="350.25" y="170.15" width="1.70" height="1.70" fill="#9d8fc0" stroke="none" stroke-width="0" />
<rect x="363.93" y="181.64" width="1.70" height="1.70" fill="#9d8fc0" stroke="none" stroke-width="0" />
<rect x="377.61" y="208.32" width="1.70" height="1.70" fill="#9d8fc0" stroke="none" stroke-width="0" />
<rect x="391.29" y="226.45" width="1.70" height="1.70" fill="#9d8fc0" stroke="none" stroke-width="0" />
<rect x="336.57" y="173.02" width="1.70" height="1.70" fill="#f0c020" stroke="none" stroke-width="0" />
<rect x="350.25" y="175.45" width="1.70" height="1.70" fill="#f0c020" stroke="none" stroke-width="0" />
<rect x="363.93" y="184.89" width="1.70" height="1.70" fill="#f0c020" stroke="none" stroke-width="0" />
<rect x="377.61" y="207.00" width="1.70" height="1.70" fill="#f0c020" stroke="none" stroke-width="0" />
<rect x="391.29" y="227.89" width="1.70" height="1.70" fill="#f0c020" stroke="none" stroke-width="0" />
<rect x="336.57" y="173.44" width="1.70" height="1.70" fill="#8a6a40" stroke="none" stroke-width="0" />
<rect x="350.25" y="175.71" width="1.70" height="1.70" fill="#8a6a40" stroke="none" stroke-width="0" />
<rect x="363.93" y="189.31" width="1.70" height="1.70" fill="#8a6a40" stroke="none" stroke-width="0" />
<rect x="377.61" y="212.15" width="1.70" height="1.70" fill="#8a6a40" stroke="none" stroke-width="0" />
<rect x="391.29" y="223.87" width="1.70" height="1.70" fill="#8a6a40" stroke="none" stroke-width="0" />
<rect x="336.57" y="178.36" width="1.70" height="1.70" fill="#c0c0c0" stroke="none" stroke-width="0" />
<rect x="350.25" y="180.14" width="1.70" height="1.70" fill="#c0c0c0" stroke="none" stroke-width="0" />
<rect x="363.93" y="185.78" width="1.70" height="1.70" fill="#c0c0c0" stroke="none" stroke-width="0" />
<rect x="377.61" y="202.69" width="1.70" height="1.70" fill="#c0c0c0" stroke="none" stroke-width="0" />
<rect x="391.29" y="225.38" width="1.70" height="1.70" fill="#c0c0c0" stroke="none" stroke-width="0" />
<rect x="336.57" y="180.72" width="1.70" height="1.70" fill="#c0a8d8" stroke="none" stroke-width="0" />
<rect x="350.25" y="181.88" width="1.70" height="1.70" fill="#c0a8d8" stroke="none" stroke-width="0" />
<rect x="363.93" y="192.98" width="1.70" height="1.70" fill="#c0a8d8" stroke="none" stroke-width="0" />
<rect x="377.61" y="212.45" width="1.70" height="1.70" fill="#c0a8d8" stroke="none" stroke-width="0" />
<rect x="391.29" y="219.54" width="1.70" height="1.70" fill="#c0a8d8" stroke="none" stroke-width="0" />
<rect x="336.57" y="185.91" width="1.70" height="1.70" fill="#f0b830" stroke="none" stroke-width="0" />
<rect x="350.25" y="188.63" width="1.70" height="1.70" fill="#f0b830" stroke="none" stroke-width="0" />
<rect x="363.93" y="196.47" width="1.70" height="1.70" fill="#f0b830" stroke="none" stroke-width="0" />
<rect x="377.61" y="214.17" width="1.70" height="1.70" fill="#f0b830" stroke="none" stroke-width="0" />
<rect x="391.29" y="225.44" width="1.70" height="1.70" fill="#f0b830" stroke="none" stroke-width="0" />
</g>
<rect x="276.80" y="154.10" width="149.00" height="104.40" fill="none" stroke="#111" stroke-width="1.1" />
<line x1="274.30" y1="254.50" x2="276.80" y2="254.50" stroke="#000" stroke-width="0.7" />
<text x="271.30" y="256.60" font-size="6.3" text-anchor="end" font-weight="normal" fill="#111" stroke="#111" stroke-width="0.142" >0</text>
<line x1="274.30" y1="238.38" x2="276.80" y2="238.38" stroke="#000" stroke-width="0.7" />
<text x="271.30" y="240.48" font-size="6.3" text-anchor="end" font-weight="normal" fill="#111" stroke="#111" stroke-width="0.142" >20</text>
<line x1="274.30" y1="222.27" x2="276.80" y2="222.27" stroke="#000" stroke-width="0.7" />
<text x="271.30" y="224.37" font-size="6.3" text-anchor="end" font-weight="normal" fill="#111" stroke="#111" stroke-width="0.142" >40</text>
<line x1="274.30" y1="206.15" x2="276.80" y2="206.15" stroke="#000" stroke-width="0.7" />
<text x="271.30" y="208.25" font-size="6.3" text-anchor="end" font-weight="normal" fill="#111" stroke="#111" stroke-width="0.142" >60</text>
<line x1="274.30" y1="190.04" x2="276.80" y2="190.04" stroke="#000" stroke-width="0.7" />
<text x="271.30" y="192.14" font-size="6.3" text-anchor="end" font-weight="normal" fill="#111" stroke="#111" stroke-width="0.142" >80</text>
<line x1="274.30" y1="173.92" x2="276.80" y2="173.92" stroke="#000" stroke-width="0.7" />
<text x="271.30" y="176.02" font-size="6.3" text-anchor="end" font-weight="normal" fill="#111" stroke="#111" stroke-width="0.142" >100</text>
<line x1="274.30" y1="157.80" x2="276.80" y2="157.80" stroke="#000" stroke-width="0.7" />
<text x="271.30" y="159.90" font-size="6.3" text-anchor="end" font-weight="normal" fill="#111" stroke="#111" stroke-width="0.142" >120</text>
<line x1="282.70" y1="258.50" x2="282.70" y2="261.00" stroke="#000" stroke-width="0.7" />
<text x="282.70" y="270.00" font-size="6.3" text-anchor="middle" font-weight="normal" fill="#111" stroke="#111" stroke-width="0.142" >0.0</text>
<line x1="305.50" y1="258.50" x2="305.50" y2="261.00" stroke="#000" stroke-width="0.7" />
<text x="305.50" y="270.00" font-size="6.3" text-anchor="middle" font-weight="normal" fill="#111" stroke="#111" stroke-width="0.142" >0.5</text>
<line x1="328.30" y1="258.50" x2="328.30" y2="261.00" stroke="#000" stroke-width="0.7" />
<text x="328.30" y="270.00" font-size="6.3" text-anchor="middle" font-weight="normal" fill="#111" stroke="#111" stroke-width="0.142" >1.0</text>
<line x1="351.10" y1="258.50" x2="351.10" y2="261.00" stroke="#000" stroke-width="0.7" />
<text x="351.10" y="270.00" font-size="6.3" text-anchor="middle" font-weight="normal" fill="#111" stroke="#111" stroke-width="0.142" >1.5</text>
<line x1="373.90" y1="258.50" x2="373.90" y2="261.00" stroke="#000" stroke-width="0.7" />
<text x="373.90" y="270.00" font-size="6.3" text-anchor="middle" font-weight="normal" fill="#111" stroke="#111" stroke-width="0.142" >2.0</text>
<line x1="396.70" y1="258.50" x2="396.70" y2="261.00" stroke="#000" stroke-width="0.7" />
<text x="396.70" y="270.00" font-size="6.3" text-anchor="middle" font-weight="normal" fill="#111" stroke="#111" stroke-width="0.142" >2.5</text>
<line x1="419.50" y1="258.50" x2="419.50" y2="261.00" stroke="#000" stroke-width="0.7" />
<text x="419.50" y="270.00" font-size="6.3" text-anchor="middle" font-weight="normal" fill="#111" stroke="#111" stroke-width="0.142" >3.0</text>
<text transform="translate(254.90,206.80) rotate(-90)" font-size="8.4" text-anchor="middle" font-weight="normal" fill="#111" textLength="32" lengthAdjust="spacingAndGlyphs" stroke="#111" stroke-width="0.220" >Viability (%)</text>
<text x="304.70" y="281.70" font-size="8.3" text-anchor="start" font-weight="normal" fill="#111" textLength="91.5" lengthAdjust="spacingAndGlyphs" stroke="#111" stroke-width="0.300" >Log A-PACs concentration (μg/mL)</text>
<circle cx="283.50" cy="239.70" r="0.85" fill="none" stroke="#9d8fc0" stroke-width="0.5"/>
<text x="286.70" y="240.90" font-size="3.8" text-anchor="start" font-weight="normal" fill="#333" stroke="#333" stroke-width="0.140" >AML3</text>
<path d="M283.50,246.20L284.60,244.20L282.40,244.20Z" fill="#e08828"/>
<text x="286.70" y="246.20" font-size="3.8" text-anchor="start" font-weight="normal" fill="#333" stroke="#333" stroke-width="0.140" >AML4</text>
<circle cx="283.50" cy="250.40" r="1.00" fill="#f0c020" stroke="none" stroke-width="0"/>
<text x="286.70" y="251.60" font-size="3.8" text-anchor="start" font-weight="normal" fill="#333" stroke="#333" stroke-width="0.140" >AML7</text>
<circle cx="302.30" cy="239.70" r="1.00" fill="#c0c0c0" stroke="none" stroke-width="0"/>
<text x="305.50" y="240.90" font-size="3.8" text-anchor="start" font-weight="normal" fill="#333" stroke="#333" stroke-width="0.140" >AML8</text>
<circle cx="302.30" cy="245.00" r="1.00" fill="#7a5030" stroke="none" stroke-width="0"/>
<text x="305.50" y="246.20" font-size="3.8" text-anchor="start" font-weight="normal" fill="#333" stroke="#333" stroke-width="0.140" >AML9</text>
<circle cx="302.30" cy="250.40" r="0.85" fill="none" stroke="#c0a8d8" stroke-width="0.5"/>
<text x="305.50" y="251.60" font-size="3.8" text-anchor="start" font-weight="normal" fill="#333" stroke="#333" stroke-width="0.140" >AML10</text>
<path d="M322.00,238.50L323.10,240.50L320.90,240.50Z" fill="#f0a040"/>
<text x="325.20" y="240.90" font-size="3.8" text-anchor="start" font-weight="normal" fill="#333" stroke="#333" stroke-width="0.140" >AML11</text>
<circle cx="322.00" cy="245.00" r="1.00" fill="#90a890" stroke="none" stroke-width="0"/>
<text x="325.20" y="246.20" font-size="3.8" text-anchor="start" font-weight="normal" fill="#333" stroke="#333" stroke-width="0.140" >AML12</text>
<circle cx="322.00" cy="250.40" r="1.00" fill="#b0b0d0" stroke="none" stroke-width="0"/>
<text x="325.20" y="251.60" font-size="3.8" text-anchor="start" font-weight="normal" fill="#333" stroke="#333" stroke-width="0.140" >AML13</text>
<circle cx="342.70" cy="239.70" r="1.00" fill="#c8203c" stroke="none" stroke-width="0"/>
<text x="345.90" y="240.90" font-size="3.8" text-anchor="start" font-weight="normal" fill="#333" stroke="#333" stroke-width="0.140" >AML14</text>
<circle cx="342.70" cy="245.00" r="1.00" fill="#5aa848" stroke="none" stroke-width="0"/>
<text x="345.90" y="246.20" font-size="3.8" text-anchor="start" font-weight="normal" fill="#333" stroke="#333" stroke-width="0.140" >AML15</text>
<text x="7.30" y="308.90" font-size="11.2" text-anchor="start" font-weight="bold" fill="#000" stroke="#000" stroke-width="0.45">H</text>
<text x="68.00" y="323.20" font-size="8.5" text-anchor="start" font-weight="normal" fill="#111" textLength="42" lengthAdjust="spacingAndGlyphs" stroke="#111" stroke-width="0.191" >CB CD34+</text>
<line x1="47.30" y1="328.55" x2="47.30" y2="389.75" stroke="#000" stroke-width="1.1" />
<line x1="46.80" y1="389.25" x2="132.70" y2="389.25" stroke="#000" stroke-width="1.1" />
<line x1="47.30" y1="379.50" x2="132.70" y2="379.50" stroke="#444" stroke-width="0.6" />
<line x1="44.50" y1="389.25" x2="47.30" y2="389.25" stroke="#000" stroke-width="0.8" />
<text x="41.00" y="391.35" font-size="6.3" text-anchor="end" font-weight="normal" fill="#111" stroke="#111" stroke-width="0.142" >-20</text>
<line x1="44.50" y1="379.50" x2="47.30" y2="379.50" stroke="#000" stroke-width="0.8" />
<text x="41.00" y="381.60" font-size="6.3" text-anchor="end" font-weight="normal" fill="#111" stroke="#111" stroke-width="0.142" >0</text>
<line x1="44.50" y1="369.75" x2="47.30" y2="369.75" stroke="#000" stroke-width="0.8" />
<text x="41.00" y="371.85" font-size="6.3" text-anchor="end" font-weight="normal" fill="#111" stroke="#111" stroke-width="0.142" >20</text>
<line x1="44.50" y1="360.00" x2="47.30" y2="360.00" stroke="#000" stroke-width="0.8" />
<text x="41.00" y="362.10" font-size="6.3" text-anchor="end" font-weight="normal" fill="#111" stroke="#111" stroke-width="0.142" >40</text>
<line x1="44.50" y1="350.25" x2="47.30" y2="350.25" stroke="#000" stroke-width="0.8" />
<text x="41.00" y="352.35" font-size="6.3" text-anchor="end" font-weight="normal" fill="#111" stroke="#111" stroke-width="0.142" >60</text>
<line x1="44.50" y1="340.50" x2="47.30" y2="340.50" stroke="#000" stroke-width="0.8" />
<text x="41.00" y="342.60" font-size="6.3" text-anchor="end" font-weight="normal" fill="#111" stroke="#111" stroke-width="0.142" >80</text>
<line x1="44.50" y1="330.75" x2="47.30" y2="330.75" stroke="#000" stroke-width="0.8" />
<text x="41.00" y="332.85" font-size="6.3" text-anchor="end" font-weight="normal" fill="#111" stroke="#111" stroke-width="0.142" >100</text>
<line x1="68.50" y1="389.25" x2="68.50" y2="392.25" stroke="#000" stroke-width="0.8" />
<text x="68.50" y="400.80" font-size="6.3" text-anchor="middle" font-weight="normal" fill="#111" stroke="#111" stroke-width="0.142" >125</text>
<line x1="111.20" y1="389.25" x2="111.20" y2="392.25" stroke="#000" stroke-width="0.8" />
<text x="111.20" y="400.80" font-size="6.3" text-anchor="middle" font-weight="normal" fill="#111" stroke="#111" stroke-width="0.142" >250</text>
<text x="88.60" y="412.00" font-size="7.6" text-anchor="middle" font-weight="normal" fill="#111" textLength="42" lengthAdjust="spacingAndGlyphs" stroke="#111" stroke-width="0.300" >A-PACs (μg/mL)</text>
<text transform="translate(15.40,358.80) rotate(-90)" font-size="8.6" text-anchor="middle" font-weight="normal" fill="#111" textLength="34.5" lengthAdjust="spacingAndGlyphs" stroke="#111" stroke-width="0.220" >% dead cells</text>
<text transform="translate(25.10,358.30) rotate(-90)" font-size="7.8" text-anchor="middle" font-weight="normal" fill="#111" textLength="47.8" lengthAdjust="spacingAndGlyphs" stroke="#111" stroke-width="0.220" >(relative to DMSO)</text>
<rect x="62.00" y="371.20" width="13.00" height="2.60" fill="#e8a0a0" stroke="none" stroke-width="0" />
<line x1="54.40" y1="372.70" x2="82.70" y2="372.70" stroke="#000" stroke-width="1.1" />
<circle cx="63.50" cy="371.90" r="1.40" fill="#b8102a" stroke="none" stroke-width="0"/>
<circle cx="68.50" cy="374.00" r="1.40" fill="#b8102a" stroke="none" stroke-width="0"/>
<circle cx="73.60" cy="372.30" r="1.40" fill="#b8102a" stroke="none" stroke-width="0"/>
<rect x="104.40" y="365.60" width="13.50" height="3.80" fill="#6a6a6a" stroke="none" stroke-width="0" />
<line x1="97.30" y1="367.50" x2="125.00" y2="367.50" stroke="#000" stroke-width="1.1" />
<rect x="105.00" y="364.40" width="2.60" height="2.60" fill="#1f3f8c" stroke="none" stroke-width="0" />
<rect x="109.90" y="367.20" width="2.60" height="2.60" fill="#1f3f8c" stroke="none" stroke-width="0" />
<rect x="115.00" y="366.60" width="2.60" height="2.60" fill="#1f3f8c" stroke="none" stroke-width="0" />
<text x="147.60" y="308.90" font-size="11.2" text-anchor="start" font-weight="bold" fill="#000" stroke="#000" stroke-width="0.45">I</text>
<text x="162.60" y="321.00" font-size="5.8" text-anchor="middle" font-weight="normal" fill="#111" stroke="#111" stroke-width="0.131" >AML</text>
<text x="162.90" y="367.40" font-size="6.2" text-anchor="middle" font-weight="normal" fill="#111" textLength="16.8" lengthAdjust="spacingAndGlyphs" stroke="#111" stroke-width="0.139" >CD34+</text>
<circle cx="162.20" cy="329.80" r="2.90" fill="#858585" stroke="#141414" stroke-width="1.15"/>
<circle cx="162.20" cy="329.80" r="1.45" fill="#9c9c9c" stroke="none" stroke-width="0"/>
<circle cx="167.70" cy="328.30" r="3.30" fill="#858585" stroke="#141414" stroke-width="1.15"/>
<circle cx="167.70" cy="328.30" r="1.65" fill="#9c9c9c" stroke="none" stroke-width="0"/>
<circle cx="158.70" cy="334.00" r="3.40" fill="#858585" stroke="#141414" stroke-width="1.15"/>
<circle cx="158.70" cy="334.00" r="1.70" fill="#9c9c9c" stroke="none" stroke-width="0"/>
<circle cx="165.60" cy="334.30" r="3.30" fill="#858585" stroke="#141414" stroke-width="1.15"/>
<circle cx="165.60" cy="334.30" r="1.65" fill="#9c9c9c" stroke="none" stroke-width="0"/>
<circle cx="160.60" cy="348.30" r="3.20" fill="#c4c4c4" stroke="#1e1e1e" stroke-width="1.1"/>
<circle cx="160.60" cy="348.30" r="1.76" fill="#f2f2f2" stroke="none" stroke-width="0"/>
<circle cx="166.90" cy="349.10" r="3.50" fill="#c4c4c4" stroke="#1e1e1e" stroke-width="1.1"/>
<circle cx="166.90" cy="349.10" r="1.93" fill="#f2f2f2" stroke="none" stroke-width="0"/>
<circle cx="157.10" cy="351.90" r="3.50" fill="#c4c4c4" stroke="#1e1e1e" stroke-width="1.1"/>
<circle cx="157.10" cy="351.90" r="1.93" fill="#f2f2f2" stroke="none" stroke-width="0"/>
<circle cx="162.60" cy="355.40" r="3.30" fill="#c4c4c4" stroke="#1e1e1e" stroke-width="1.1"/>
<circle cx="162.60" cy="355.40" r="1.81" fill="#f2f2f2" stroke="none" stroke-width="0"/>
<text x="174.40" y="345.00" font-size="5.8" text-anchor="middle" font-weight="normal" fill="#111" stroke="#111" stroke-width="0.131" >or</text>
<line x1="180.00" y1="343.40" x2="189.50" y2="343.40" stroke="#000" stroke-width="0.9" />
<path d="M193,343.4 L188.8,341.4 L188.8,345.4 Z" fill="#000"/>
<path d="M195.6,344.0 L207.2,333.0 L211.8,332.7 L217.7,340.4 L204.7,354.9 Z" fill="#fff" stroke="#555" stroke-width="0.55" stroke-linejoin="round"/>
<clipPath id="bagc"><rect x="190" y="337.0" width="30" height="20"/></clipPath>
<path d="M197.5,344.0 L207.6,334.5 L211.3,334.3 L216.0,340.5 L204.8,353.0 Z" fill="#c44848" clip-path="url(#bagc)"/>
<path d="M205.5,335.6 L211.0,335.4 L213.2,338.3" fill="none" stroke="#999" stroke-width="0.4"/>
<rect x="214.3" y="332.0" width="4.4" height="4.4" fill="#f29a1a" stroke="#7a4a10" stroke-width="0.35" transform="rotate(45 216.5 334.2)"/>
<rect x="197.40" y="339.80" width="18.80" height="6.20" fill="#fff" stroke="#888" stroke-width="0.35" />
<text x="206.80" y="344.90" font-size="5.4" text-anchor="middle" font-weight="normal" fill="#c8405e" textLength="15.8" lengthAdjust="spacingAndGlyphs" >APACs</text>
<line x1="198.90" y1="354.70" x2="194.60" y2="365.60" stroke="#000" stroke-width="0.9" />
<path d="M193.5,368.9 L192.4,364.3 L196.6,365.9 Z" fill="#000"/>
<line x1="211.60" y1="354.70" x2="216.90" y2="365.30" stroke="#000" stroke-width="0.9" />
<path d="M218.4,368.3 L214.9,365.4 L218.9,363.7 Z" fill="#000"/>
<ellipse cx="190.1" cy="382.7" rx="9.1" ry="5.0" fill="#fff" stroke="#333" stroke-width="0.6"/>
<ellipse cx="190.1" cy="382.5" rx="8.2" ry="3.8" fill="none" stroke="#777" stroke-width="0.4"/>
<ellipse cx="190.4" cy="382.8" rx="7.6" ry="2.3" fill="#b5132b"/>
<circle cx="186.70" cy="382.30" r="0.55" fill="#f4d0d4" stroke="none" stroke-width="0"/>
<circle cx="191.50" cy="381.90" r="0.55" fill="#f4d0d4" stroke="none" stroke-width="0"/>
<circle cx="195.50" cy="382.70" r="0.55" fill="#f4d0d4" stroke="none" stroke-width="0"/>
<text x="190.10" y="395.30" font-size="6.2" text-anchor="middle" font-weight="normal" fill="#111" stroke="#111" stroke-width="0.139" >CFU</text>
<g transform="translate(223.1,370.5) rotate(27)">
<rect x="-1.1" y="-3.6" width="2.2" height="6.4" fill="#c01a2a" stroke="#555" stroke-width="0.35"/>
<line x1="0" y1="2.8" x2="0" y2="6.3" stroke="#444" stroke-width="0.45"/>
<line x1="0" y1="-3.6" x2="0" y2="-5.6" stroke="#333" stroke-width="0.6"/>
<line x1="-1.3" y1="-5.8" x2="1.3" y2="-5.8" stroke="#333" stroke-width="0.6"/>
</g>
<path d="M224.5,385.5 C224.2,381.5 228.5,378.8 232.5,379.2 C234.5,378.2 236.5,379.6 236.6,380.8 C238.8,381.6 240.2,383.6 239.6,385.2 L237.8,386.4 L236.4,387.6 M235.8,386.6 L231.5,387.4 L230.4,387.6 M228.5,387.0 L226.3,387.6 M226.0,386.8 C225.0,386.6 224.6,386.2 224.5,385.5" fill="#fff" stroke="#222" stroke-width="0.55"/>
<path d="M224.6,384.6 C221.8,383.6 218.6,382.4 218.8,380.6 C219.0,379.4 220.6,379.4 221.2,380.2" fill="none" stroke="#222" stroke-width="0.5"/>
<path d="M233.6,380.2 C234.4,379.0 235.8,379.2 235.9,380.4" fill="none" stroke="#222" stroke-width="0.45"/>
<text x="229.20" y="395.30" font-size="5.9" text-anchor="middle" font-weight="normal" fill="#111" textLength="33.7" lengthAdjust="spacingAndGlyphs" stroke="#111" stroke-width="0.133" >Xenotransplant</text>
<text x="260.90" y="308.90" font-size="11.2" text-anchor="start" font-weight="bold" fill="#000" stroke="#000" stroke-width="0.45">J</text>
<text x="345.20" y="324.40" font-size="8.5" text-anchor="middle" font-weight="normal" fill="#111" stroke="#111" stroke-width="0.191" >CFU</text>
<rect x="306.30" y="381.10" width="19.50" height="8.00" fill="#8e9ad0" stroke="#7f8cc8" stroke-width="0.4" />
<rect x="335.50" y="353.80" width="19.30" height="35.30" fill="#d4877e" stroke="#c97a70" stroke-width="0.4" />
<rect x="364.80" y="364.00" width="19.20" height="25.10" fill="#b5d59b" stroke="#a8cc8c" stroke-width="0.4" />
<line x1="301.50" y1="353.80" x2="388.80" y2="353.80" stroke="#9a9a9a" stroke-width="0.9" />
<line x1="315.90" y1="375.70" x2="315.90" y2="386.70" stroke="#222" stroke-width="0.9" />
<line x1="310.90" y1="375.70" x2="320.90" y2="375.70" stroke="#222" stroke-width="0.9" />
<line x1="310.90" y1="386.70" x2="320.90" y2="386.70" stroke="#222" stroke-width="0.9" />
<line x1="345.00" y1="348.10" x2="345.00" y2="361.10" stroke="#222" stroke-width="0.9" />
<line x1="340.30" y1="348.10" x2="349.70" y2="348.10" stroke="#222" stroke-width="0.9" />
<line x1="340.30" y1="361.10" x2="349.70" y2="361.10" stroke="#222" stroke-width="0.9" />
<line x1="374.40" y1="351.50" x2="374.40" y2="376.10" stroke="#222" stroke-width="0.9" />
<line x1="369.80" y1="351.50" x2="379.00" y2="351.50" stroke="#222" stroke-width="0.9" />
<line x1="369.80" y1="376.10" x2="379.00" y2="376.10" stroke="#222" stroke-width="0.9" />
<circle cx="315.90" cy="372.00" r="1.20" fill="#1a3a88" stroke="none" stroke-width="0"/>
<circle cx="311.10" cy="382.70" r="1.20" fill="#1a3a88" stroke="none" stroke-width="0"/>
<circle cx="315.90" cy="381.00" r="1.20" fill="#1a3a88" stroke="none" stroke-width="0"/>
<circle cx="320.70" cy="385.20" r="1.20" fill="#1a3a88" stroke="none" stroke-width="0"/>
<circle cx="315.90" cy="385.80" r="1.20" fill="#1a3a88" stroke="none" stroke-width="0"/>
<rect x="343.60" y="346.70" width="2.80" height="2.80" fill="#b0102a" stroke="none" stroke-width="0" />
<rect x="343.60" y="357.30" width="2.80" height="2.80" fill="#b0102a" stroke="none" stroke-width="0" />
<path d="M374.40,346.78L375.61,348.98L373.19,348.98Z" fill="#4ea82f"/>
<path d="M374.40,360.38L375.61,362.58L373.19,362.58Z" fill="#4ea82f"/>
<path d="M371.80,373.28L373.01,375.48L370.59,375.48Z" fill="#4ea82f"/>
<path d="M376.70,371.28L377.91,373.48L375.49,373.48Z" fill="#4ea82f"/>
<line x1="301.50" y1="344.60" x2="301.50" y2="389.60" stroke="#000" stroke-width="1.1" />
<line x1="301.00" y1="389.10" x2="389.00" y2="389.10" stroke="#000" stroke-width="1.1" />
<line x1="298.70" y1="389.10" x2="301.50" y2="389.10" stroke="#000" stroke-width="0.8" />
<text x="295.30" y="391.20" font-size="6.3" text-anchor="end" font-weight="normal" fill="#111" stroke="#111" stroke-width="0.142" >0</text>
<line x1="298.70" y1="382.02" x2="301.50" y2="382.02" stroke="#000" stroke-width="0.8" />
<text x="295.30" y="384.12" font-size="6.3" text-anchor="end" font-weight="normal" fill="#111" stroke="#111" stroke-width="0.142" >20</text>
<line x1="298.70" y1="374.93" x2="301.50" y2="374.93" stroke="#000" stroke-width="0.8" />
<text x="295.30" y="377.03" font-size="6.3" text-anchor="end" font-weight="normal" fill="#111" stroke="#111" stroke-width="0.142" >40</text>
<line x1="298.70" y1="367.85" x2="301.50" y2="367.85" stroke="#000" stroke-width="0.8" />
<text x="295.30" y="369.95" font-size="6.3" text-anchor="end" font-weight="normal" fill="#111" stroke="#111" stroke-width="0.142" >60</text>
<line x1="298.70" y1="360.76" x2="301.50" y2="360.76" stroke="#000" stroke-width="0.8" />
<text x="295.30" y="362.86" font-size="6.3" text-anchor="end" font-weight="normal" fill="#111" stroke="#111" stroke-width="0.142" >80</text>
<line x1="298.70" y1="353.68" x2="301.50" y2="353.68" stroke="#000" stroke-width="0.8" />
<text x="295.30" y="355.78" font-size="6.3" text-anchor="end" font-weight="normal" fill="#111" stroke="#111" stroke-width="0.142" >100</text>
<line x1="298.70" y1="346.60" x2="301.50" y2="346.60" stroke="#000" stroke-width="0.8" />
<text x="295.30" y="348.70" font-size="6.3" text-anchor="end" font-weight="normal" fill="#111" stroke="#111" stroke-width="0.142" >120</text>
<line x1="315.90" y1="389.10" x2="315.90" y2="391.90" stroke="#000" stroke-width="0.8" />
<line x1="345.00" y1="389.10" x2="345.00" y2="391.90" stroke="#000" stroke-width="0.8" />
<line x1="374.40" y1="389.10" x2="374.40" y2="391.90" stroke="#000" stroke-width="0.8" />
<text transform="translate(268.90,366.90) rotate(-90)" font-size="8.6" text-anchor="middle" font-weight="normal" fill="#111" textLength="18.4" lengthAdjust="spacingAndGlyphs" stroke="#111" stroke-width="0.220" >% CFU</text>
<text transform="translate(279.00,366.50) rotate(-90)" font-size="7.8" text-anchor="middle" font-weight="normal" fill="#111" textLength="48.6" lengthAdjust="spacingAndGlyphs" stroke="#111" stroke-width="0.220" >(relative to DMSO)</text>
<path d="M312.6,363.3 L312.6,333.1 L372.9,333.1 L372.9,337.3" fill="none" stroke="#222" stroke-width="1.0"/>
<path d="M316.1,363.3 L316.1,338.8 L345.4,338.8 L345.4,342.7" fill="none" stroke="#222" stroke-width="1.0"/>
<circle cx="342.80" cy="330.20" r="0.65" fill="#333" stroke="none" stroke-width="0"/>
<circle cx="331.10" cy="336.20" r="0.65" fill="#333" stroke="none" stroke-width="0"/>
<text x="316.20" y="400.70" font-size="6.3" text-anchor="middle" font-weight="normal" fill="#111" stroke="#111" stroke-width="0.142" >AML</text>
<text x="315.90" y="408.50" font-size="6.3" text-anchor="middle" font-weight="normal" fill="#111" stroke="#111" stroke-width="0.142" >62.5μg/ml</text>
<text x="345.10" y="400.70" font-size="6.3" text-anchor="middle" font-weight="normal" fill="#111" stroke="#111" stroke-width="0.142" >Ery</text>
<text x="374.20" y="400.70" font-size="6.3" text-anchor="middle" font-weight="normal" fill="#111" stroke="#111" stroke-width="0.142" >Myeloid</text>
<line x1="336.30" y1="406.50" x2="385.00" y2="406.50" stroke="#111" stroke-width="0.8" />
<line x1="336.30" y1="405.00" x2="336.30" y2="408.00" stroke="#111" stroke-width="0.8" />
<line x1="385.00" y1="405.00" x2="385.00" y2="408.00" stroke="#111" stroke-width="0.8" />
<text x="359.20" y="416.80" font-size="6.3" text-anchor="middle" font-weight="normal" fill="#111" stroke="#111" stroke-width="0.142" >CB CD34+</text>
<text x="360.40" y="424.50" font-size="6.3" text-anchor="middle" font-weight="normal" fill="#111" stroke="#111" stroke-width="0.142" >125μg/ml</text>
<text x="7.10" y="450.80" font-size="11.2" text-anchor="start" font-weight="bold" fill="#000" stroke="#000" stroke-width="0.45">K</text>
<text x="39.50" y="450.80" font-size="8.5" text-anchor="start" font-weight="normal" fill="#111" textLength="71.7" lengthAdjust="spacingAndGlyphs" stroke="#111" stroke-width="0.191" >AML xenotransplant</text>
<text x="75.00" y="461.00" font-size="6.3" text-anchor="middle" font-weight="normal" fill="#111" stroke="#111" stroke-width="0.142" >AML2</text>
<rect x="40.40" y="480.40" width="31.80" height="32.35" fill="#d4877e" stroke="#c87870" stroke-width="0.5" />
<rect x="78.80" y="501.20" width="32.40" height="11.55" fill="#8e9ad0" stroke="#8090c8" stroke-width="0.5" />
<line x1="32.50" y1="464.55" x2="32.50" y2="513.25" stroke="#000" stroke-width="1.1" />
<line x1="32.00" y1="512.75" x2="113.75" y2="512.75" stroke="#000" stroke-width="1.1" />
<line x1="29.70" y1="512.75" x2="32.50" y2="512.75" stroke="#000" stroke-width="0.8" />
<text x="30.30" y="514.85" font-size="6.3" text-anchor="end" font-weight="normal" fill="#111" stroke="#111" stroke-width="0.142" >0</text>
<line x1="29.70" y1="503.55" x2="32.50" y2="503.55" stroke="#000" stroke-width="0.8" />
<text x="30.30" y="505.65" font-size="6.3" text-anchor="end" font-weight="normal" fill="#111" stroke="#111" stroke-width="0.142" >20</text>
<line x1="29.70" y1="494.35" x2="32.50" y2="494.35" stroke="#000" stroke-width="0.8" />
<text x="30.30" y="496.45" font-size="6.3" text-anchor="end" font-weight="normal" fill="#111" stroke="#111" stroke-width="0.142" >40</text>
<line x1="29.70" y1="485.15" x2="32.50" y2="485.15" stroke="#000" stroke-width="0.8" />
<text x="30.30" y="487.25" font-size="6.3" text-anchor="end" font-weight="normal" fill="#111" stroke="#111" stroke-width="0.142" >60</text>
<line x1="29.70" y1="475.95" x2="32.50" y2="475.95" stroke="#000" stroke-width="0.8" />
<text x="30.30" y="478.05" font-size="6.3" text-anchor="end" font-weight="normal" fill="#111" stroke="#111" stroke-width="0.142" >80</text>
<line x1="29.70" y1="466.75" x2="32.50" y2="466.75" stroke="#000" stroke-width="0.8" />
<text x="30.30" y="468.85" font-size="6.3" text-anchor="end" font-weight="normal" fill="#111" stroke="#111" stroke-width="0.142" >100</text>
<line x1="56.30" y1="512.75" x2="56.30" y2="515.55" stroke="#000" stroke-width="0.8" />
<text x="56.30" y="524.50" font-size="6.3" text-anchor="middle" font-weight="normal" fill="#111" stroke="#111" stroke-width="0.142" >Untreated</text>
<line x1="95.00" y1="512.75" x2="95.00" y2="515.55" stroke="#000" stroke-width="0.8" />
<text x="95.00" y="524.50" font-size="6.3" text-anchor="middle" font-weight="normal" fill="#111" stroke="#111" stroke-width="0.142" >APACs</text>
<text transform="translate(14.10,488.40) rotate(-90)" font-size="8.4" text-anchor="middle" font-weight="normal" fill="#111" textLength="39.3" lengthAdjust="spacingAndGlyphs" stroke="#111" stroke-width="0.220" >% engraftment</text>
<line x1="56.20" y1="477.60" x2="56.20" y2="483.20" stroke="#1a1a1a" stroke-width="1.15" />
<line x1="49.60" y1="477.60" x2="62.80" y2="477.60" stroke="#1a1a1a" stroke-width="1.15" />
<line x1="49.60" y1="483.20" x2="62.80" y2="483.20" stroke="#1a1a1a" stroke-width="1.15" />
<line x1="95.00" y1="495.30" x2="95.00" y2="506.20" stroke="#1a1a1a" stroke-width="1.15" />
<line x1="87.40" y1="495.30" x2="102.60" y2="495.30" stroke="#1a1a1a" stroke-width="1.15" />
<line x1="87.40" y1="506.20" x2="102.60" y2="506.20" stroke="#1a1a1a" stroke-width="1.15" />
<circle cx="50.10" cy="477.00" r="1.80" fill="#9e0e26" stroke="none" stroke-width="0"/>
<circle cx="56.20" cy="482.70" r="1.80" fill="#9e0e26" stroke="none" stroke-width="0"/>
<circle cx="61.90" cy="481.20" r="1.80" fill="#9e0e26" stroke="none" stroke-width="0"/>
<circle cx="95.00" cy="492.40" r="1.80" fill="#1a3f88" stroke="none" stroke-width="0"/>
<circle cx="92.70" cy="500.40" r="1.80" fill="#1a3f88" stroke="none" stroke-width="0"/>
<circle cx="100.40" cy="500.40" r="1.80" fill="#1a3f88" stroke="none" stroke-width="0"/>
<circle cx="91.90" cy="505.80" r="1.80" fill="#1a3f88" stroke="none" stroke-width="0"/>
<circle cx="98.10" cy="505.80" r="1.80" fill="#1a3f88" stroke="none" stroke-width="0"/>
<path d="M57.3,473.9 L57.3,472.4 L100.8,472.4 L100.8,473.9" fill="none" stroke="#111" stroke-width="0.75"/>
<text x="78.10" y="469.40" font-size="5.0" text-anchor="middle" font-weight="normal" fill="#333" textLength="29.2" lengthAdjust="spacingAndGlyphs" stroke="#333" stroke-width="0.100" >**p=0.0010</text>
<text x="191.20" y="452.60" font-size="6.3" text-anchor="middle" font-weight="normal" fill="#111" stroke="#111" stroke-width="0.142" >AML9</text>
<rect x="159.00" y="479.20" width="32.50" height="33.40" fill="#d4877e" stroke="#c87870" stroke-width="0.5" />
<line x1="156.10" y1="464.00" x2="156.10" y2="513.10" stroke="#000" stroke-width="1.1" />
<line x1="155.60" y1="512.60" x2="233.90" y2="512.60" stroke="#000" stroke-width="1.1" />
<line x1="153.30" y1="512.60" x2="156.10" y2="512.60" stroke="#000" stroke-width="0.8" />
<text x="150.30" y="514.70" font-size="6.3" text-anchor="end" font-weight="normal" fill="#111" stroke="#111" stroke-width="0.142" >0</text>
<line x1="153.30" y1="501.00" x2="156.10" y2="501.00" stroke="#000" stroke-width="0.8" />
<text x="150.30" y="503.10" font-size="6.3" text-anchor="end" font-weight="normal" fill="#111" stroke="#111" stroke-width="0.142" >20</text>
<line x1="153.30" y1="489.40" x2="156.10" y2="489.40" stroke="#000" stroke-width="0.8" />
<text x="150.30" y="491.50" font-size="6.3" text-anchor="end" font-weight="normal" fill="#111" stroke="#111" stroke-width="0.142" >40</text>
<line x1="153.30" y1="477.80" x2="156.10" y2="477.80" stroke="#000" stroke-width="0.8" />
<text x="150.30" y="479.90" font-size="6.3" text-anchor="end" font-weight="normal" fill="#111" stroke="#111" stroke-width="0.142" >60</text>
<line x1="153.30" y1="466.20" x2="156.10" y2="466.20" stroke="#000" stroke-width="0.8" />
<text x="150.30" y="468.30" font-size="6.3" text-anchor="end" font-weight="normal" fill="#111" stroke="#111" stroke-width="0.142" >80</text>
<line x1="175.20" y1="512.60" x2="175.20" y2="515.40" stroke="#000" stroke-width="0.8" />
<text x="175.20" y="524.50" font-size="6.3" text-anchor="middle" font-weight="normal" fill="#111" stroke="#111" stroke-width="0.142" >Untreated</text>
<line x1="213.75" y1="512.60" x2="213.75" y2="515.40" stroke="#000" stroke-width="0.8" />
<text x="213.75" y="524.50" font-size="6.3" text-anchor="middle" font-weight="normal" fill="#111" stroke="#111" stroke-width="0.142" >APACs</text>
<text transform="translate(136.50,488.60) rotate(-90)" font-size="8.4" text-anchor="middle" font-weight="normal" fill="#111" textLength="39.3" lengthAdjust="spacingAndGlyphs" stroke="#111" stroke-width="0.220" >% engraftment</text>
<line x1="175.10" y1="470.00" x2="175.10" y2="487.90" stroke="#1a1a1a" stroke-width="1.15" />
<line x1="167.30" y1="470.00" x2="182.90" y2="470.00" stroke="#1a1a1a" stroke-width="1.15" />
<line x1="167.30" y1="487.90" x2="182.90" y2="487.90" stroke="#1a1a1a" stroke-width="1.15" />
<circle cx="175.10" cy="468.80" r="1.80" fill="#9e0e26" stroke="none" stroke-width="0"/>
<circle cx="175.10" cy="481.00" r="1.80" fill="#9e0e26" stroke="none" stroke-width="0"/>
<circle cx="175.10" cy="487.00" r="1.80" fill="#9e0e26" stroke="none" stroke-width="0"/>
<line x1="205.40" y1="512.00" x2="222.70" y2="512.00" stroke="#222" stroke-width="1.0" />
<circle cx="202.80" cy="511.20" r="1.35" fill="#1a3f88" stroke="none" stroke-width="0"/>
<circle cx="208.80" cy="511.20" r="1.35" fill="#1a3f88" stroke="none" stroke-width="0"/>
<circle cx="214.40" cy="511.20" r="1.35" fill="#1a3f88" stroke="none" stroke-width="0"/>
<circle cx="220.00" cy="511.20" r="1.35" fill="#1a3f88" stroke="none" stroke-width="0"/>
<circle cx="225.30" cy="511.20" r="1.35" fill="#1a3f88" stroke="none" stroke-width="0"/>
<path d="M176,464.5 L176,462.8 L220,462.8 L220,464.5" fill="none" stroke="#111" stroke-width="0.75"/>
<text x="197.40" y="460.20" font-size="5.0" text-anchor="middle" font-weight="normal" fill="#333" textLength="29" lengthAdjust="spacingAndGlyphs" stroke="#333" stroke-width="0.100" >***p=0.0001</text>
<text x="248.80" y="450.70" font-size="11.2" text-anchor="start" font-weight="bold" fill="#000" stroke="#000" stroke-width="0.45">L</text>
<text x="276.20" y="449.60" font-size="8.5" text-anchor="start" font-weight="normal" fill="#111" textLength="82.5" lengthAdjust="spacingAndGlyphs" stroke="#111" stroke-width="0.191" >CB34+ xenotransplant</text>
<text x="317.50" y="459.00" font-size="6.3" text-anchor="middle" font-weight="normal" fill="#111" stroke="#111" stroke-width="0.142" >CB-CD34+</text>
<rect x="281.90" y="476.80" width="32.30" height="35.80" fill="#d4877e" stroke="#c87870" stroke-width="0.5" />
<rect x="321.10" y="484.50" width="32.40" height="28.10" fill="#8e9ad0" stroke="#8090c8" stroke-width="0.5" />
<line x1="278.30" y1="464.15" x2="278.30" y2="513.10" stroke="#000" stroke-width="1.1" />
<line x1="277.80" y1="512.60" x2="355.00" y2="512.60" stroke="#000" stroke-width="1.1" />
<line x1="275.50" y1="512.60" x2="278.30" y2="512.60" stroke="#000" stroke-width="0.8" />
<text x="272.30" y="514.70" font-size="6.3" text-anchor="end" font-weight="normal" fill="#111" stroke="#111" stroke-width="0.142" >0</text>
<line x1="275.50" y1="503.35" x2="278.30" y2="503.35" stroke="#000" stroke-width="0.8" />
<text x="272.30" y="505.45" font-size="6.3" text-anchor="end" font-weight="normal" fill="#111" stroke="#111" stroke-width="0.142" >20</text>
<line x1="275.50" y1="494.10" x2="278.30" y2="494.10" stroke="#000" stroke-width="0.8" />
<text x="272.30" y="496.20" font-size="6.3" text-anchor="end" font-weight="normal" fill="#111" stroke="#111" stroke-width="0.142" >40</text>
<line x1="275.50" y1="484.85" x2="278.30" y2="484.85" stroke="#000" stroke-width="0.8" />
<text x="272.30" y="486.95" font-size="6.3" text-anchor="end" font-weight="normal" fill="#111" stroke="#111" stroke-width="0.142" >60</text>
<line x1="275.50" y1="475.60" x2="278.30" y2="475.60" stroke="#000" stroke-width="0.8" />
<text x="272.30" y="477.70" font-size="6.3" text-anchor="end" font-weight="normal" fill="#111" stroke="#111" stroke-width="0.142" >80</text>
<line x1="275.50" y1="466.35" x2="278.30" y2="466.35" stroke="#000" stroke-width="0.8" />
<text x="272.30" y="468.45" font-size="6.3" text-anchor="end" font-weight="normal" fill="#111" stroke="#111" stroke-width="0.142" >100</text>
<line x1="298.00" y1="512.60" x2="298.00" y2="515.40" stroke="#000" stroke-width="0.8" />
<text x="298.00" y="524.50" font-size="6.3" text-anchor="middle" font-weight="normal" fill="#111" stroke="#111" stroke-width="0.142" >Untreated</text>
<line x1="337.20" y1="512.60" x2="337.20" y2="515.40" stroke="#000" stroke-width="0.8" />
<text x="337.20" y="524.50" font-size="6.3" text-anchor="middle" font-weight="normal" fill="#111" stroke="#111" stroke-width="0.142" >APACs</text>
<text transform="translate(255.60,488.40) rotate(-90)" font-size="8.4" text-anchor="middle" font-weight="normal" fill="#111" textLength="39.3" lengthAdjust="spacingAndGlyphs" stroke="#111" stroke-width="0.220" >% engraftment</text>
<line x1="297.90" y1="474.40" x2="297.90" y2="479.30" stroke="#1a1a1a" stroke-width="1.15" />
<line x1="290.30" y1="474.40" x2="305.50" y2="474.40" stroke="#1a1a1a" stroke-width="1.15" />
<line x1="290.30" y1="479.30" x2="305.50" y2="479.30" stroke="#1a1a1a" stroke-width="1.15" />
<line x1="337.10" y1="475.90" x2="337.10" y2="492.70" stroke="#1a1a1a" stroke-width="1.15" />
<line x1="329.10" y1="475.90" x2="345.10" y2="475.90" stroke="#1a1a1a" stroke-width="1.15" />
<line x1="329.10" y1="492.70" x2="345.10" y2="492.70" stroke="#1a1a1a" stroke-width="1.15" />
<circle cx="286.40" cy="474.40" r="1.80" fill="#9e0e26" stroke="none" stroke-width="0"/>
<circle cx="309.00" cy="474.40" r="1.80" fill="#9e0e26" stroke="none" stroke-width="0"/>
<circle cx="292.20" cy="478.50" r="1.80" fill="#9e0e26" stroke="none" stroke-width="0"/>
<circle cx="297.90" cy="479.30" r="1.80" fill="#9e0e26" stroke="none" stroke-width="0"/>
<circle cx="303.60" cy="478.50" r="1.80" fill="#9e0e26" stroke="none" stroke-width="0"/>
<circle cx="336.80" cy="473.40" r="1.80" fill="#1a3f88" stroke="none" stroke-width="0"/>
<circle cx="334.70" cy="482.90" r="1.80" fill="#1a3f88" stroke="none" stroke-width="0"/>
<circle cx="337.10" cy="480.90" r="1.80" fill="#1a3f88" stroke="none" stroke-width="0"/>
<circle cx="340.10" cy="487.80" r="1.80" fill="#1a3f88" stroke="none" stroke-width="0"/>
<circle cx="336.80" cy="496.30" r="1.80" fill="#1a3f88" stroke="none" stroke-width="0"/>
<g transform="translate(0.2,0.7)">
<line x1="20.50" y1="61.25" x2="26.10" y2="57.80" stroke="#2a2a2a" stroke-width="0.62" stroke-linecap="round"/>
<line x1="26.10" y1="57.80" x2="31.70" y2="61.25" stroke="#2a2a2a" stroke-width="0.62" stroke-linecap="round"/>
<line x1="31.70" y1="61.25" x2="31.70" y2="68.15" stroke="#2a2a2a" stroke-width="0.62" stroke-linecap="round"/>
<line x1="31.70" y1="68.15" x2="26.10" y2="71.60" stroke="#2a2a2a" stroke-width="0.62" stroke-linecap="round"/>
<line x1="26.10" y1="71.60" x2="20.50" y2="68.15" stroke="#2a2a2a" stroke-width="0.62" stroke-linecap="round"/>
<line x1="20.50" y1="68.15" x2="20.50" y2="61.25" stroke="#2a2a2a" stroke-width="0.62" stroke-linecap="round"/>
<line x1="26.74" y1="59.66" x2="29.87" y2="61.59" stroke="#2a2a2a" stroke-width="0.55" stroke-linecap="round"/>
<line x1="29.87" y1="67.81" x2="26.74" y2="69.74" stroke="#2a2a2a" stroke-width="0.55" stroke-linecap="round"/>
<line x1="21.75" y1="66.63" x2="21.75" y2="62.77" stroke="#2a2a2a" stroke-width="0.55" stroke-linecap="round"/>
<line x1="31.70" y1="61.25" x2="35.60" y2="58.70" stroke="#2a2a2a" stroke-width="0.62" stroke-linecap="round"/>
<line x1="39.00" y1="58.70" x2="42.90" y2="61.25" stroke="#2a2a2a" stroke-width="0.62" stroke-linecap="round"/>
<line x1="42.90" y1="61.25" x2="42.90" y2="68.50" stroke="#2a2a2a" stroke-width="0.62" stroke-linecap="round"/>
<line x1="42.90" y1="68.50" x2="37.30" y2="71.60" stroke="#2a2a2a" stroke-width="0.62" stroke-linecap="round"/>
<line x1="37.30" y1="71.60" x2="31.70" y2="68.15" stroke="#2a2a2a" stroke-width="0.62" stroke-linecap="round"/>
<text x="37.20" y="58.29" font-size="4.7" text-anchor="middle" fill="#222" textLength="3.60" lengthAdjust="spacingAndGlyphs">O</text>
<line x1="47.40" y1="50.60" x2="53.00" y2="47.20" stroke="#2a2a2a" stroke-width="0.62" stroke-linecap="round"/>
<line x1="53.00" y1="47.20" x2="58.60" y2="50.60" stroke="#2a2a2a" stroke-width="0.62" stroke-linecap="round"/>
<line x1="58.60" y1="50.60" x2="58.60" y2="57.40" stroke="#2a2a2a" stroke-width="0.62" stroke-linecap="round"/>
<line x1="58.60" y1="57.40" x2="53.00" y2="60.80" stroke="#2a2a2a" stroke-width="0.62" stroke-linecap="round"/>
<line x1="53.00" y1="60.80" x2="47.40" y2="57.40" stroke="#2a2a2a" stroke-width="0.62" stroke-linecap="round"/>
<line x1="47.40" y1="57.40" x2="47.40" y2="50.60" stroke="#2a2a2a" stroke-width="0.62" stroke-linecap="round"/>
<line x1="49.23" y1="50.95" x2="52.37" y2="49.04" stroke="#2a2a2a" stroke-width="0.55" stroke-linecap="round"/>
<line x1="57.35" y1="52.10" x2="57.35" y2="55.90" stroke="#2a2a2a" stroke-width="0.55" stroke-linecap="round"/>
<line x1="52.37" y1="58.96" x2="49.23" y2="57.05" stroke="#2a2a2a" stroke-width="0.55" stroke-linecap="round"/>
<path d="M42.90,61.25L47.79,57.86L47.01,56.94Z" fill="#111"/>
<line x1="58.60" y1="50.60" x2="63.30" y2="47.40" stroke="#2a2a2a" stroke-width="0.62" stroke-linecap="round"/>
<text x="67.70" y="48.69" font-size="4.7" text-anchor="middle" fill="#222" textLength="6.60" lengthAdjust="spacingAndGlyphs">OH</text>
<line x1="20.50" y1="61.25" x2="15.80" y2="58.60" stroke="#2a2a2a" stroke-width="0.62" stroke-linecap="round"/>
<text x="11.40" y="59.49" font-size="4.7" text-anchor="middle" fill="#222" textLength="6.60" lengthAdjust="spacingAndGlyphs">HO</text>
<line x1="26.10" y1="71.60" x2="25.70" y2="77.00" stroke="#2a2a2a" stroke-width="0.62" stroke-linecap="round"/>
<text x="26.60" y="82.69" font-size="4.7" text-anchor="middle" fill="#222" textLength="6.60" lengthAdjust="spacingAndGlyphs">OH</text>
<path d="M42.90,68.50L45.58,72.02L46.42,71.18Z" fill="#111"/>
<text x="50.10" y="75.69" font-size="4.7" text-anchor="middle" fill="#222" textLength="6.60" lengthAdjust="spacingAndGlyphs">OH</text>
</g>
<line x1="100.20" y1="40.15" x2="105.60" y2="37.20" stroke="#2a2a2a" stroke-width="0.62" stroke-linecap="round"/>
<line x1="105.60" y1="37.20" x2="111.40" y2="40.15" stroke="#2a2a2a" stroke-width="0.62" stroke-linecap="round"/>
<line x1="111.40" y1="40.15" x2="111.40" y2="46.70" stroke="#2a2a2a" stroke-width="0.62" stroke-linecap="round"/>
<line x1="111.40" y1="46.70" x2="105.60" y2="50.15" stroke="#2a2a2a" stroke-width="0.62" stroke-linecap="round"/>
<line x1="105.60" y1="50.15" x2="100.20" y2="46.70" stroke="#2a2a2a" stroke-width="0.62" stroke-linecap="round"/>
<line x1="100.20" y1="46.70" x2="100.20" y2="40.15" stroke="#2a2a2a" stroke-width="0.62" stroke-linecap="round"/>
<line x1="106.26" y1="38.93" x2="109.50" y2="40.59" stroke="#2a2a2a" stroke-width="0.55" stroke-linecap="round"/>
<line x1="109.51" y1="46.37" x2="106.26" y2="48.30" stroke="#2a2a2a" stroke-width="0.55" stroke-linecap="round"/>
<line x1="101.45" y1="45.28" x2="101.45" y2="41.61" stroke="#2a2a2a" stroke-width="0.55" stroke-linecap="round"/>
<line x1="111.40" y1="40.15" x2="115.30" y2="37.90" stroke="#2a2a2a" stroke-width="0.62" stroke-linecap="round"/>
<line x1="118.50" y1="37.90" x2="122.80" y2="40.15" stroke="#2a2a2a" stroke-width="0.62" stroke-linecap="round"/>
<line x1="122.80" y1="40.15" x2="122.80" y2="46.60" stroke="#2a2a2a" stroke-width="0.62" stroke-linecap="round"/>
<line x1="122.80" y1="46.60" x2="117.00" y2="50.30" stroke="#2a2a2a" stroke-width="0.62" stroke-linecap="round"/>
<line x1="117.00" y1="50.30" x2="111.40" y2="46.70" stroke="#2a2a2a" stroke-width="0.62" stroke-linecap="round"/>
<text x="116.70" y="37.49" font-size="4.7" text-anchor="middle" fill="#222" textLength="3.60" lengthAdjust="spacingAndGlyphs">O</text>
<line x1="127.70" y1="30.80" x2="133.50" y2="27.80" stroke="#2a2a2a" stroke-width="0.62" stroke-linecap="round"/>
<line x1="133.50" y1="27.80" x2="138.80" y2="30.80" stroke="#2a2a2a" stroke-width="0.62" stroke-linecap="round"/>
<line x1="138.80" y1="30.80" x2="138.80" y2="37.40" stroke="#2a2a2a" stroke-width="0.62" stroke-linecap="round"/>
<line x1="138.80" y1="37.40" x2="133.50" y2="40.50" stroke="#2a2a2a" stroke-width="0.62" stroke-linecap="round"/>
<line x1="133.50" y1="40.50" x2="127.70" y2="37.40" stroke="#2a2a2a" stroke-width="0.62" stroke-linecap="round"/>
<line x1="127.70" y1="37.40" x2="127.70" y2="30.80" stroke="#2a2a2a" stroke-width="0.62" stroke-linecap="round"/>
<line x1="129.59" y1="31.23" x2="132.84" y2="29.55" stroke="#2a2a2a" stroke-width="0.55" stroke-linecap="round"/>
<line x1="137.55" y1="32.26" x2="137.55" y2="35.95" stroke="#2a2a2a" stroke-width="0.55" stroke-linecap="round"/>
<line x1="132.84" y1="38.73" x2="129.59" y2="36.99" stroke="#2a2a2a" stroke-width="0.55" stroke-linecap="round"/>
<line x1="122.80" y1="40.15" x2="127.70" y2="37.40" stroke="#2a2a2a" stroke-width="0.62" stroke-linecap="round"/>
<line x1="138.80" y1="30.80" x2="143.30" y2="28.60" stroke="#2a2a2a" stroke-width="0.62" stroke-linecap="round"/>
<text x="147.90" y="30.29" font-size="4.7" text-anchor="middle" fill="#222" textLength="6.60" lengthAdjust="spacingAndGlyphs">OH</text>
<line x1="138.80" y1="37.40" x2="143.30" y2="40.00" stroke="#2a2a2a" stroke-width="0.62" stroke-linecap="round"/>
<text x="147.90" y="42.89" font-size="4.7" text-anchor="middle" fill="#222" textLength="6.60" lengthAdjust="spacingAndGlyphs">OH</text>
<line x1="100.20" y1="40.15" x2="96.60" y2="38.30" stroke="#2a2a2a" stroke-width="0.62" stroke-linecap="round"/>
<text x="92.50" y="38.69" font-size="4.7" text-anchor="middle" fill="#222" textLength="6.60" lengthAdjust="spacingAndGlyphs">HO</text>
<line x1="105.60" y1="50.15" x2="105.60" y2="55.40" stroke="#2a2a2a" stroke-width="0.62" stroke-linecap="round"/>
<text x="106.50" y="61.69" font-size="4.7" text-anchor="middle" fill="#222" textLength="6.60" lengthAdjust="spacingAndGlyphs">OH</text>
<path d="M122.80,40.15L131.97,47.42L132.83,46.18Z" fill="#111"/>
<text x="135.20" y="49.09" font-size="4.7" text-anchor="middle" fill="#222" textLength="3.60" lengthAdjust="spacingAndGlyphs">O</text>
<line x1="122.80" y1="46.60" x2="126.40" y2="49.30" stroke="#2a2a2a" stroke-width="0.62" stroke-linecap="round"/>
<text x="128.00" y="54.99" font-size="4.7" text-anchor="middle" fill="#222" textLength="6.60" lengthAdjust="spacingAndGlyphs">OH</text>
<path d="M117.00,50.30L128.09,58.33L128.91,57.07Z" fill="#111"/>
<line x1="128.50" y1="57.70" x2="133.50" y2="54.60" stroke="#2a2a2a" stroke-width="0.62" stroke-linecap="round"/>
<line x1="133.50" y1="54.60" x2="139.30" y2="57.70" stroke="#2a2a2a" stroke-width="0.62" stroke-linecap="round"/>
<line x1="139.30" y1="57.70" x2="139.30" y2="63.80" stroke="#2a2a2a" stroke-width="0.62" stroke-linecap="round"/>
<line x1="139.30" y1="63.80" x2="133.70" y2="66.70" stroke="#2a2a2a" stroke-width="0.62" stroke-linecap="round"/>
<line x1="133.70" y1="66.70" x2="128.50" y2="64.10" stroke="#2a2a2a" stroke-width="0.62" stroke-linecap="round"/>
<line x1="128.50" y1="64.10" x2="128.50" y2="57.70" stroke="#2a2a2a" stroke-width="0.62" stroke-linecap="round"/>
<line x1="134.16" y1="56.37" x2="137.41" y2="58.11" stroke="#2a2a2a" stroke-width="0.55" stroke-linecap="round"/>
<line x1="137.42" y1="63.37" x2="134.29" y2="64.99" stroke="#2a2a2a" stroke-width="0.55" stroke-linecap="round"/>
<line x1="133.50" y1="54.60" x2="134.10" y2="49.20" stroke="#2a2a2a" stroke-width="0.62" stroke-linecap="round"/>
<line x1="139.30" y1="63.80" x2="143.40" y2="66.30" stroke="#2a2a2a" stroke-width="0.62" stroke-linecap="round"/>
<text x="147.50" y="70.59" font-size="4.7" text-anchor="middle" fill="#222" textLength="6.60" lengthAdjust="spacingAndGlyphs">OH</text>
<line x1="128.50" y1="64.10" x2="123.90" y2="66.40" stroke="#2a2a2a" stroke-width="0.62" stroke-linecap="round"/>
<line x1="122.40" y1="68.40" x2="122.40" y2="73.60" stroke="#2a2a2a" stroke-width="0.62" stroke-linecap="round"/>
<line x1="122.40" y1="73.60" x2="128.50" y2="76.60" stroke="#2a2a2a" stroke-width="0.62" stroke-linecap="round"/>
<line x1="128.50" y1="76.60" x2="133.70" y2="73.60" stroke="#2a2a2a" stroke-width="0.62" stroke-linecap="round"/>
<line x1="133.70" y1="73.60" x2="133.70" y2="66.70" stroke="#2a2a2a" stroke-width="0.62" stroke-linecap="round"/>
<text x="121.40" y="68.09" font-size="4.7" text-anchor="middle" fill="#222" textLength="3.60" lengthAdjust="spacingAndGlyphs">O</text>
<line x1="106.40" y1="76.20" x2="111.20" y2="73.40" stroke="#2a2a2a" stroke-width="0.62" stroke-linecap="round"/>
<line x1="111.20" y1="73.40" x2="117.20" y2="76.60" stroke="#2a2a2a" stroke-width="0.62" stroke-linecap="round"/>
<line x1="117.20" y1="76.60" x2="117.20" y2="83.10" stroke="#2a2a2a" stroke-width="0.62" stroke-linecap="round"/>
<line x1="117.20" y1="83.10" x2="111.20" y2="86.10" stroke="#2a2a2a" stroke-width="0.62" stroke-linecap="round"/>
<line x1="111.20" y1="86.10" x2="106.40" y2="83.10" stroke="#2a2a2a" stroke-width="0.62" stroke-linecap="round"/>
<line x1="106.40" y1="83.10" x2="106.40" y2="76.20" stroke="#2a2a2a" stroke-width="0.62" stroke-linecap="round"/>
<line x1="111.92" y1="75.20" x2="115.28" y2="76.99" stroke="#2a2a2a" stroke-width="0.55" stroke-linecap="round"/>
<line x1="115.29" y1="82.66" x2="111.93" y2="84.34" stroke="#2a2a2a" stroke-width="0.55" stroke-linecap="round"/>
<line x1="107.65" y1="81.61" x2="107.65" y2="77.74" stroke="#2a2a2a" stroke-width="0.55" stroke-linecap="round"/>
<path d="M122.40,73.60L116.88,76.04L117.52,77.16Z" fill="#111"/>
<line x1="106.40" y1="76.20" x2="101.90" y2="74.20" stroke="#2a2a2a" stroke-width="0.62" stroke-linecap="round"/>
<text x="98.00" y="74.89" font-size="4.7" text-anchor="middle" fill="#222" textLength="6.60" lengthAdjust="spacingAndGlyphs">HO</text>
<line x1="106.40" y1="83.10" x2="101.90" y2="85.40" stroke="#2a2a2a" stroke-width="0.62" stroke-linecap="round"/>
<text x="98.00" y="87.49" font-size="4.7" text-anchor="middle" fill="#222" textLength="6.60" lengthAdjust="spacingAndGlyphs">HO</text>
<path d="M128.50,76.60L127.90,81.60L129.10,81.60Z" fill="#111"/>
<text x="129.10" y="87.99" font-size="4.7" text-anchor="middle" fill="#222" textLength="6.60" lengthAdjust="spacingAndGlyphs">OH</text>
<line x1="180.30" y1="34.70" x2="184.90" y2="32.10" stroke="#2a2a2a" stroke-width="0.62" stroke-linecap="round"/>
<line x1="184.90" y1="32.10" x2="189.90" y2="34.70" stroke="#2a2a2a" stroke-width="0.62" stroke-linecap="round"/>
<line x1="189.90" y1="34.70" x2="189.90" y2="40.50" stroke="#2a2a2a" stroke-width="0.62" stroke-linecap="round"/>
<line x1="189.90" y1="40.50" x2="184.90" y2="43.20" stroke="#2a2a2a" stroke-width="0.62" stroke-linecap="round"/>
<line x1="184.90" y1="43.20" x2="180.30" y2="40.50" stroke="#2a2a2a" stroke-width="0.62" stroke-linecap="round"/>
<line x1="180.30" y1="40.50" x2="180.30" y2="34.70" stroke="#2a2a2a" stroke-width="0.62" stroke-linecap="round"/>
<line x1="185.39" y1="33.76" x2="188.19" y2="35.22" stroke="#2a2a2a" stroke-width="0.55" stroke-linecap="round"/>
<line x1="188.19" y1="40.00" x2="185.39" y2="41.51" stroke="#2a2a2a" stroke-width="0.55" stroke-linecap="round"/>
<line x1="181.55" y1="39.23" x2="181.55" y2="35.98" stroke="#2a2a2a" stroke-width="0.55" stroke-linecap="round"/>
<line x1="189.90" y1="34.70" x2="193.00" y2="32.20" stroke="#2a2a2a" stroke-width="0.62" stroke-linecap="round"/>
<line x1="196.00" y1="32.20" x2="199.60" y2="34.80" stroke="#2a2a2a" stroke-width="0.62" stroke-linecap="round"/>
<line x1="199.60" y1="34.80" x2="199.60" y2="40.60" stroke="#2a2a2a" stroke-width="0.62" stroke-linecap="round"/>
<line x1="199.60" y1="40.60" x2="194.60" y2="43.30" stroke="#2a2a2a" stroke-width="0.62" stroke-linecap="round"/>
<line x1="194.60" y1="43.30" x2="189.90" y2="40.50" stroke="#2a2a2a" stroke-width="0.62" stroke-linecap="round"/>
<text x="194.50" y="32.49" font-size="4.7" text-anchor="middle" fill="#222" textLength="3.60" lengthAdjust="spacingAndGlyphs">O</text>
<line x1="203.50" y1="27.30" x2="208.50" y2="24.60" stroke="#2a2a2a" stroke-width="0.62" stroke-linecap="round"/>
<line x1="208.50" y1="24.60" x2="213.50" y2="27.30" stroke="#2a2a2a" stroke-width="0.62" stroke-linecap="round"/>
<line x1="213.50" y1="27.30" x2="213.50" y2="32.30" stroke="#2a2a2a" stroke-width="0.62" stroke-linecap="round"/>
<line x1="213.50" y1="32.30" x2="208.50" y2="35.00" stroke="#2a2a2a" stroke-width="0.62" stroke-linecap="round"/>
<line x1="208.50" y1="35.00" x2="203.50" y2="32.30" stroke="#2a2a2a" stroke-width="0.62" stroke-linecap="round"/>
<line x1="203.50" y1="32.30" x2="203.50" y2="27.30" stroke="#2a2a2a" stroke-width="0.62" stroke-linecap="round"/>
<line x1="205.28" y1="27.75" x2="208.08" y2="26.24" stroke="#2a2a2a" stroke-width="0.55" stroke-linecap="round"/>
<line x1="212.25" y1="28.40" x2="212.25" y2="31.20" stroke="#2a2a2a" stroke-width="0.55" stroke-linecap="round"/>
<line x1="208.08" y1="33.36" x2="205.28" y2="31.85" stroke="#2a2a2a" stroke-width="0.55" stroke-linecap="round"/>
<line x1="199.60" y1="34.80" x2="203.50" y2="32.30" stroke="#2a2a2a" stroke-width="0.62" stroke-linecap="round"/>
<line x1="213.50" y1="27.30" x2="217.30" y2="25.20" stroke="#2a2a2a" stroke-width="0.62" stroke-linecap="round"/>
<text x="221.10" y="26.59" font-size="4.7" text-anchor="middle" fill="#222" textLength="6.60" lengthAdjust="spacingAndGlyphs">OH</text>
<line x1="213.50" y1="32.30" x2="217.30" y2="34.40" stroke="#2a2a2a" stroke-width="0.62" stroke-linecap="round"/>
<text x="221.10" y="37.29" font-size="4.7" text-anchor="middle" fill="#222" textLength="6.60" lengthAdjust="spacingAndGlyphs">OH</text>
<line x1="180.30" y1="34.70" x2="176.90" y2="32.90" stroke="#2a2a2a" stroke-width="0.62" stroke-linecap="round"/>
<text x="173.00" y="33.59" font-size="4.7" text-anchor="middle" fill="#222" textLength="6.60" lengthAdjust="spacingAndGlyphs">HO</text>
<line x1="199.60" y1="40.60" x2="203.20" y2="42.00" stroke="#2a2a2a" stroke-width="0.62" stroke-linecap="round"/>
<text x="206.90" y="44.59" font-size="4.7" text-anchor="middle" fill="#222" textLength="6.60" lengthAdjust="spacingAndGlyphs">OH</text>
<line x1="184.90" y1="43.20" x2="184.90" y2="46.00" stroke="#2a2a2a" stroke-width="0.62" stroke-linecap="round"/>
<text x="189.30" y="49.29" font-size="4.7" text-anchor="middle" fill="#222" textLength="6.60" lengthAdjust="spacingAndGlyphs">OH</text>
<path d="M194.60,43.30L193.65,50.57L194.95,50.63Z" fill="#111"/>
<g transform="translate(194.2,56.15) scale(0.86) translate(-105.6,-43.68)">
<line x1="100.20" y1="40.15" x2="105.60" y2="37.20" stroke="#2a2a2a" stroke-width="0.62" stroke-linecap="round"/>
<line x1="105.60" y1="37.20" x2="111.40" y2="40.15" stroke="#2a2a2a" stroke-width="0.62" stroke-linecap="round"/>
<line x1="111.40" y1="40.15" x2="111.40" y2="46.70" stroke="#2a2a2a" stroke-width="0.62" stroke-linecap="round"/>
<line x1="111.40" y1="46.70" x2="105.60" y2="50.15" stroke="#2a2a2a" stroke-width="0.62" stroke-linecap="round"/>
<line x1="105.60" y1="50.15" x2="100.20" y2="46.70" stroke="#2a2a2a" stroke-width="0.62" stroke-linecap="round"/>
<line x1="100.20" y1="46.70" x2="100.20" y2="40.15" stroke="#2a2a2a" stroke-width="0.62" stroke-linecap="round"/>
<line x1="106.26" y1="38.93" x2="109.50" y2="40.59" stroke="#2a2a2a" stroke-width="0.55" stroke-linecap="round"/>
<line x1="109.51" y1="46.37" x2="106.26" y2="48.30" stroke="#2a2a2a" stroke-width="0.55" stroke-linecap="round"/>
<line x1="101.45" y1="45.28" x2="101.45" y2="41.61" stroke="#2a2a2a" stroke-width="0.55" stroke-linecap="round"/>
<line x1="111.40" y1="40.15" x2="115.30" y2="37.90" stroke="#2a2a2a" stroke-width="0.62" stroke-linecap="round"/>
<line x1="118.50" y1="37.90" x2="122.80" y2="40.15" stroke="#2a2a2a" stroke-width="0.62" stroke-linecap="round"/>
<line x1="122.80" y1="40.15" x2="122.80" y2="46.60" stroke="#2a2a2a" stroke-width="0.62" stroke-linecap="round"/>
<line x1="122.80" y1="46.60" x2="117.00" y2="50.30" stroke="#2a2a2a" stroke-width="0.62" stroke-linecap="round"/>
<line x1="117.00" y1="50.30" x2="111.40" y2="46.70" stroke="#2a2a2a" stroke-width="0.62" stroke-linecap="round"/>
<text x="116.70" y="37.71" font-size="5.301162790697674" text-anchor="middle" fill="#222" textLength="4.06" lengthAdjust="spacingAndGlyphs">O</text>
<line x1="127.70" y1="30.80" x2="133.50" y2="27.80" stroke="#2a2a2a" stroke-width="0.62" stroke-linecap="round"/>
<line x1="133.50" y1="27.80" x2="138.80" y2="30.80" stroke="#2a2a2a" stroke-width="0.62" stroke-linecap="round"/>
<line x1="138.80" y1="30.80" x2="138.80" y2="37.40" stroke="#2a2a2a" stroke-width="0.62" stroke-linecap="round"/>
<line x1="138.80" y1="37.40" x2="133.50" y2="40.50" stroke="#2a2a2a" stroke-width="0.62" stroke-linecap="round"/>
<line x1="133.50" y1="40.50" x2="127.70" y2="37.40" stroke="#2a2a2a" stroke-width="0.62" stroke-linecap="round"/>
<line x1="127.70" y1="37.40" x2="127.70" y2="30.80" stroke="#2a2a2a" stroke-width="0.62" stroke-linecap="round"/>
<line x1="129.59" y1="31.23" x2="132.84" y2="29.55" stroke="#2a2a2a" stroke-width="0.55" stroke-linecap="round"/>
<line x1="137.55" y1="32.26" x2="137.55" y2="35.95" stroke="#2a2a2a" stroke-width="0.55" stroke-linecap="round"/>
<line x1="132.84" y1="38.73" x2="129.59" y2="36.99" stroke="#2a2a2a" stroke-width="0.55" stroke-linecap="round"/>
<line x1="122.80" y1="40.15" x2="127.70" y2="37.40" stroke="#2a2a2a" stroke-width="0.62" stroke-linecap="round"/>
<line x1="138.80" y1="30.80" x2="143.30" y2="28.60" stroke="#2a2a2a" stroke-width="0.62" stroke-linecap="round"/>
<text x="147.90" y="30.51" font-size="5.301162790697674" text-anchor="middle" fill="#222" textLength="7.44" lengthAdjust="spacingAndGlyphs">OH</text>
<line x1="138.80" y1="37.40" x2="143.30" y2="40.00" stroke="#2a2a2a" stroke-width="0.62" stroke-linecap="round"/>
<text x="147.90" y="43.11" font-size="5.301162790697674" text-anchor="middle" fill="#222" textLength="7.44" lengthAdjust="spacingAndGlyphs">OH</text>
<line x1="100.20" y1="40.15" x2="96.60" y2="38.30" stroke="#2a2a2a" stroke-width="0.62" stroke-linecap="round"/>
<text x="92.50" y="38.91" font-size="5.301162790697674" text-anchor="middle" fill="#222" textLength="7.44" lengthAdjust="spacingAndGlyphs">HO</text>
<line x1="105.60" y1="50.15" x2="105.60" y2="55.40" stroke="#2a2a2a" stroke-width="0.62" stroke-linecap="round"/>
<text x="106.50" y="61.91" font-size="5.301162790697674" text-anchor="middle" fill="#222" textLength="7.44" lengthAdjust="spacingAndGlyphs">OH</text>
<path d="M122.80,40.15L131.97,47.42L132.83,46.18Z" fill="#111"/>
<text x="135.20" y="49.31" font-size="5.301162790697674" text-anchor="middle" fill="#222" textLength="4.06" lengthAdjust="spacingAndGlyphs">O</text>
<line x1="122.80" y1="46.60" x2="126.40" y2="49.30" stroke="#2a2a2a" stroke-width="0.62" stroke-linecap="round"/>
<text x="128.00" y="55.21" font-size="5.301162790697674" text-anchor="middle" fill="#222" textLength="7.44" lengthAdjust="spacingAndGlyphs">OH</text>
<path d="M117.00,50.30L128.09,58.33L128.91,57.07Z" fill="#111"/>
<line x1="128.50" y1="57.70" x2="133.50" y2="54.60" stroke="#2a2a2a" stroke-width="0.62" stroke-linecap="round"/>
<line x1="133.50" y1="54.60" x2="139.30" y2="57.70" stroke="#2a2a2a" stroke-width="0.62" stroke-linecap="round"/>
<line x1="139.30" y1="57.70" x2="139.30" y2="63.80" stroke="#2a2a2a" stroke-width="0.62" stroke-linecap="round"/>
<line x1="139.30" y1="63.80" x2="133.70" y2="66.70" stroke="#2a2a2a" stroke-width="0.62" stroke-linecap="round"/>
<line x1="133.70" y1="66.70" x2="128.50" y2="64.10" stroke="#2a2a2a" stroke-width="0.62" stroke-linecap="round"/>
<line x1="128.50" y1="64.10" x2="128.50" y2="57.70" stroke="#2a2a2a" stroke-width="0.62" stroke-linecap="round"/>
<line x1="134.16" y1="56.37" x2="137.41" y2="58.11" stroke="#2a2a2a" stroke-width="0.55" stroke-linecap="round"/>
<line x1="137.42" y1="63.37" x2="134.29" y2="64.99" stroke="#2a2a2a" stroke-width="0.55" stroke-linecap="round"/>
<line x1="133.50" y1="54.60" x2="134.10" y2="49.20" stroke="#2a2a2a" stroke-width="0.62" stroke-linecap="round"/>
<line x1="139.30" y1="63.80" x2="143.40" y2="66.30" stroke="#2a2a2a" stroke-width="0.62" stroke-linecap="round"/>
<text x="147.50" y="70.81" font-size="5.301162790697674" text-anchor="middle" fill="#222" textLength="7.44" lengthAdjust="spacingAndGlyphs">OH</text>
<line x1="128.50" y1="64.10" x2="123.90" y2="66.40" stroke="#2a2a2a" stroke-width="0.62" stroke-linecap="round"/>
<line x1="122.40" y1="68.40" x2="122.40" y2="73.60" stroke="#2a2a2a" stroke-width="0.62" stroke-linecap="round"/>
<line x1="122.40" y1="73.60" x2="128.50" y2="76.60" stroke="#2a2a2a" stroke-width="0.62" stroke-linecap="round"/>
<line x1="128.50" y1="76.60" x2="133.70" y2="73.60" stroke="#2a2a2a" stroke-width="0.62" stroke-linecap="round"/>
<line x1="133.70" y1="73.60" x2="133.70" y2="66.70" stroke="#2a2a2a" stroke-width="0.62" stroke-linecap="round"/>
<text x="121.40" y="68.31" font-size="5.301162790697674" text-anchor="middle" fill="#222" textLength="4.06" lengthAdjust="spacingAndGlyphs">O</text>
<line x1="106.40" y1="76.20" x2="111.20" y2="73.40" stroke="#2a2a2a" stroke-width="0.62" stroke-linecap="round"/>
<line x1="111.20" y1="73.40" x2="117.20" y2="76.60" stroke="#2a2a2a" stroke-width="0.62" stroke-linecap="round"/>
<line x1="117.20" y1="76.60" x2="117.20" y2="83.10" stroke="#2a2a2a" stroke-width="0.62" stroke-linecap="round"/>
<line x1="117.20" y1="83.10" x2="111.20" y2="86.10" stroke="#2a2a2a" stroke-width="0.62" stroke-linecap="round"/>
<line x1="111.20" y1="86.10" x2="106.40" y2="83.10" stroke="#2a2a2a" stroke-width="0.62" stroke-linecap="round"/>
<line x1="106.40" y1="83.10" x2="106.40" y2="76.20" stroke="#2a2a2a" stroke-width="0.62" stroke-linecap="round"/>
<line x1="111.92" y1="75.20" x2="115.28" y2="76.99" stroke="#2a2a2a" stroke-width="0.55" stroke-linecap="round"/>
<line x1="115.29" y1="82.66" x2="111.93" y2="84.34" stroke="#2a2a2a" stroke-width="0.55" stroke-linecap="round"/>
<line x1="107.65" y1="81.61" x2="107.65" y2="77.74" stroke="#2a2a2a" stroke-width="0.55" stroke-linecap="round"/>
<path d="M122.40,73.60L116.88,76.04L117.52,77.16Z" fill="#111"/>
<line x1="106.40" y1="76.20" x2="101.90" y2="74.20" stroke="#2a2a2a" stroke-width="0.62" stroke-linecap="round"/>
<text x="98.00" y="75.11" font-size="5.301162790697674" text-anchor="middle" fill="#222" textLength="7.44" lengthAdjust="spacingAndGlyphs">HO</text>
<line x1="106.40" y1="83.10" x2="101.90" y2="85.40" stroke="#2a2a2a" stroke-width="0.62" stroke-linecap="round"/>
<text x="98.00" y="87.71" font-size="5.301162790697674" text-anchor="middle" fill="#222" textLength="7.44" lengthAdjust="spacingAndGlyphs">HO</text>
<path d="M128.50,76.60L127.90,81.60L129.10,81.60Z" fill="#111"/>
<text x="129.10" y="88.21" font-size="5.301162790697674" text-anchor="middle" fill="#222" textLength="7.44" lengthAdjust="spacingAndGlyphs">OH</text>
</g>
<text x="7.10" y="16.80" font-size="11.2" text-anchor="start" font-weight="bold" fill="#000" stroke="#000" stroke-width="0.45">A</text>
<text x="87.60" y="16.80" font-size="11.2" text-anchor="start" font-weight="bold" fill="#000" stroke="#000" stroke-width="0.45">B</text>
<text x="167.60" y="16.90" font-size="11.2" text-anchor="start" font-weight="bold" fill="#000" stroke="#000" stroke-width="0.45">C</text>
<rect x="0.00" y="0.00" width="520.00" height="1.35" fill="#000" stroke="none" stroke-width="0" />
<rect x="0.00" y="0.00" width="1.25" height="533.00" fill="#000" stroke="none" stroke-width="0" />
<rect x="518.75" y="0.00" width="1.25" height="533.00" fill="#000" stroke="none" stroke-width="0" />
<rect x="0.00" y="531.60" width="520.00" height="1.40" fill="#000" stroke="none" stroke-width="0" /></svg></body></html>
